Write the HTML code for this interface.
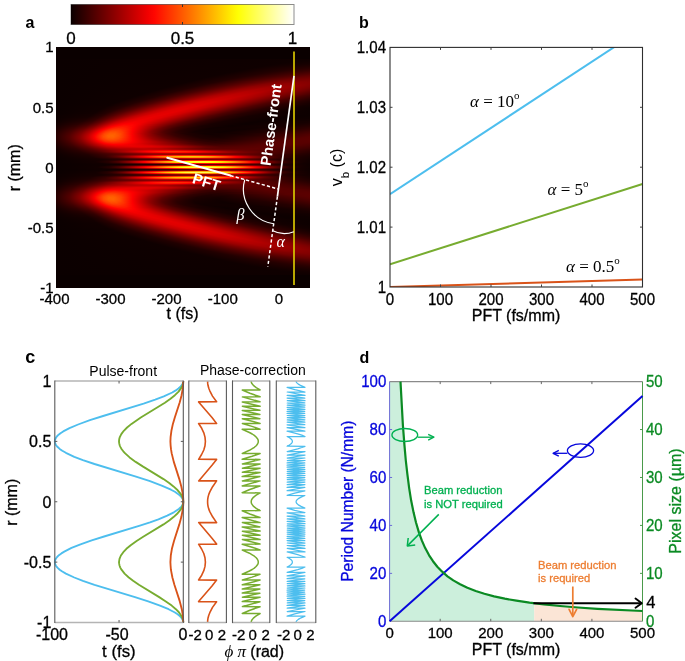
<!DOCTYPE html>
<html><head><meta charset="utf-8"><style>
html,body{margin:0;padding:0;background:#fff;width:685px;height:661px;overflow:hidden;}
svg{display:block;will-change:opacity;}
</style></head><body>
<svg width="685" height="661" viewBox="0 0 685 661">
<defs>
<linearGradient id="cb"><stop offset="0.0000" stop-color="#0b0000"/><stop offset="0.0312" stop-color="#200000"/><stop offset="0.0625" stop-color="#340000"/><stop offset="0.0938" stop-color="#490000"/><stop offset="0.1250" stop-color="#5e0000"/><stop offset="0.1562" stop-color="#730000"/><stop offset="0.1875" stop-color="#880000"/><stop offset="0.2188" stop-color="#9d0000"/><stop offset="0.2500" stop-color="#b20000"/><stop offset="0.2812" stop-color="#c70000"/><stop offset="0.3125" stop-color="#dc0000"/><stop offset="0.3438" stop-color="#f10000"/><stop offset="0.3750" stop-color="#ff0700"/><stop offset="0.4062" stop-color="#ff1c00"/><stop offset="0.4375" stop-color="#ff3100"/><stop offset="0.4688" stop-color="#ff4500"/><stop offset="0.5000" stop-color="#ff5a00"/><stop offset="0.5312" stop-color="#ff6f00"/><stop offset="0.5625" stop-color="#ff8400"/><stop offset="0.5938" stop-color="#ff9900"/><stop offset="0.6250" stop-color="#ffae00"/><stop offset="0.6562" stop-color="#ffc300"/><stop offset="0.6875" stop-color="#ffd800"/><stop offset="0.7188" stop-color="#ffed00"/><stop offset="0.7500" stop-color="#ffff04"/><stop offset="0.7812" stop-color="#ffff23"/><stop offset="0.8125" stop-color="#ffff43"/><stop offset="0.8438" stop-color="#ffff62"/><stop offset="0.8750" stop-color="#ffff82"/><stop offset="0.9062" stop-color="#ffffa1"/><stop offset="0.9375" stop-color="#ffffc0"/><stop offset="0.9688" stop-color="#ffffe0"/><stop offset="1.0000" stop-color="#ffffff"/></linearGradient>
<linearGradient id="h12" x1="56" x2="310" gradientUnits="userSpaceOnUse"><stop offset="0.001969" stop-color="#0b0000"/><stop offset="0.9941" stop-color="#0f0000"/><stop offset="0.998" stop-color="#0f0000"/></linearGradient>
<linearGradient id="h13" x1="56" x2="310" gradientUnits="userSpaceOnUse"><stop offset="0.001969" stop-color="#0b0000"/><stop offset="0.9626" stop-color="#0f0000"/><stop offset="0.998" stop-color="#100000"/></linearGradient>
<linearGradient id="h14" x1="56" x2="310" gradientUnits="userSpaceOnUse"><stop offset="0.001969" stop-color="#0b0000"/><stop offset="0.935" stop-color="#0f0000"/><stop offset="0.998" stop-color="#120000"/></linearGradient>
<linearGradient id="h15" x1="56" x2="310" gradientUnits="userSpaceOnUse"><stop offset="0.001969" stop-color="#0b0000"/><stop offset="0.9075" stop-color="#0f0000"/><stop offset="0.998" stop-color="#140000"/></linearGradient>
<linearGradient id="h16" x1="56" x2="310" gradientUnits="userSpaceOnUse"><stop offset="0.001969" stop-color="#0b0000"/><stop offset="0.8799" stop-color="#0f0000"/><stop offset="0.998" stop-color="#160000"/></linearGradient>
<linearGradient id="h17" x1="56" x2="310" gradientUnits="userSpaceOnUse"><stop offset="0.001969" stop-color="#0b0000"/><stop offset="0.8563" stop-color="#0f0000"/><stop offset="0.998" stop-color="#190000"/></linearGradient>
<linearGradient id="h18" x1="56" x2="310" gradientUnits="userSpaceOnUse"><stop offset="0.001969" stop-color="#0b0000"/><stop offset="0.8327" stop-color="#0f0000"/><stop offset="0.998" stop-color="#1d0000"/></linearGradient>
<linearGradient id="h19" x1="56" x2="310" gradientUnits="userSpaceOnUse"><stop offset="0.001969" stop-color="#0b0000"/><stop offset="0.8091" stop-color="#0f0000"/><stop offset="0.998" stop-color="#210000"/></linearGradient>
<linearGradient id="h20" x1="56" x2="310" gradientUnits="userSpaceOnUse"><stop offset="0.001969" stop-color="#0b0000"/><stop offset="0.7854" stop-color="#0f0000"/><stop offset="0.998" stop-color="#260000"/></linearGradient>
<linearGradient id="h21" x1="56" x2="310" gradientUnits="userSpaceOnUse"><stop offset="0.001969" stop-color="#0b0000"/><stop offset="0.7657" stop-color="#0f0000"/><stop offset="0.9665" stop-color="#260000"/><stop offset="0.998" stop-color="#2b0000"/></linearGradient>
<linearGradient id="h22" x1="56" x2="310" gradientUnits="userSpaceOnUse"><stop offset="0.001969" stop-color="#0b0000"/><stop offset="0.7421" stop-color="#0f0000"/><stop offset="0.9272" stop-color="#250000"/><stop offset="0.998" stop-color="#310000"/></linearGradient>
<linearGradient id="h23" x1="56" x2="310" gradientUnits="userSpaceOnUse"><stop offset="0.001969" stop-color="#0b0000"/><stop offset="0.7224" stop-color="#0f0000"/><stop offset="0.8957" stop-color="#240000"/><stop offset="0.998" stop-color="#380000"/></linearGradient>
<linearGradient id="h24" x1="56" x2="310" gradientUnits="userSpaceOnUse"><stop offset="0.001969" stop-color="#0b0000"/><stop offset="0.7028" stop-color="#0f0000"/><stop offset="0.8642" stop-color="#230000"/><stop offset="0.998" stop-color="#3f0000"/></linearGradient>
<linearGradient id="h25" x1="56" x2="310" gradientUnits="userSpaceOnUse"><stop offset="0.001969" stop-color="#0b0000"/><stop offset="0.6831" stop-color="#0f0000"/><stop offset="0.8366" stop-color="#230000"/><stop offset="0.998" stop-color="#470000"/></linearGradient>
<linearGradient id="h26" x1="56" x2="310" gradientUnits="userSpaceOnUse"><stop offset="0.001969" stop-color="#0b0000"/><stop offset="0.6634" stop-color="#0f0000"/><stop offset="0.813" stop-color="#230000"/><stop offset="0.998" stop-color="#4f0000"/></linearGradient>
<linearGradient id="h27" x1="56" x2="310" gradientUnits="userSpaceOnUse"><stop offset="0.001969" stop-color="#0b0000"/><stop offset="0.6437" stop-color="#0f0000"/><stop offset="0.7854" stop-color="#220000"/><stop offset="0.998" stop-color="#570000"/></linearGradient>
<linearGradient id="h28" x1="56" x2="310" gradientUnits="userSpaceOnUse"><stop offset="0.001969" stop-color="#0b0000"/><stop offset="0.628" stop-color="#0f0000"/><stop offset="0.7657" stop-color="#230000"/><stop offset="0.9902" stop-color="#5e0000"/><stop offset="0.998" stop-color="#5f0000"/></linearGradient>
<linearGradient id="h29" x1="56" x2="310" gradientUnits="userSpaceOnUse"><stop offset="0.001969" stop-color="#0b0000"/><stop offset="0.6083" stop-color="#0f0000"/><stop offset="0.7421" stop-color="#220000"/><stop offset="0.9705" stop-color="#620000"/><stop offset="0.998" stop-color="#670000"/></linearGradient>
<linearGradient id="h30" x1="56" x2="310" gradientUnits="userSpaceOnUse"><stop offset="0.001969" stop-color="#0b0000"/><stop offset="0.5925" stop-color="#0f0000"/><stop offset="0.7185" stop-color="#220000"/><stop offset="0.9508" stop-color="#670000"/><stop offset="0.998" stop-color="#6e0000"/></linearGradient>
<linearGradient id="h31" x1="56" x2="310" gradientUnits="userSpaceOnUse"><stop offset="0.001969" stop-color="#0b0000"/><stop offset="0.5728" stop-color="#0f0000"/><stop offset="0.6988" stop-color="#220000"/><stop offset="0.9311" stop-color="#6c0000"/><stop offset="0.998" stop-color="#750000"/></linearGradient>
<linearGradient id="h32" x1="56" x2="310" gradientUnits="userSpaceOnUse"><stop offset="0.001969" stop-color="#0b0000"/><stop offset="0.5571" stop-color="#0f0000"/><stop offset="0.6791" stop-color="#220000"/><stop offset="0.9114" stop-color="#710000"/><stop offset="0.998" stop-color="#7b0000"/></linearGradient>
<linearGradient id="h33" x1="56" x2="310" gradientUnits="userSpaceOnUse"><stop offset="0.001969" stop-color="#0b0000"/><stop offset="0.5413" stop-color="#0f0000"/><stop offset="0.6594" stop-color="#220000"/><stop offset="0.8957" stop-color="#760000"/><stop offset="0.9862" stop-color="#800000"/><stop offset="0.998" stop-color="#800000"/></linearGradient>
<linearGradient id="h34" x1="56" x2="310" gradientUnits="userSpaceOnUse"><stop offset="0.001969" stop-color="#0b0000"/><stop offset="0.5256" stop-color="#0f0000"/><stop offset="0.6398" stop-color="#220000"/><stop offset="0.7776" stop-color="#570000"/><stop offset="0.8839" stop-color="#7d0000"/><stop offset="0.9705" stop-color="#850000"/><stop offset="0.998" stop-color="#830000"/></linearGradient>
<linearGradient id="h35" x1="56" x2="310" gradientUnits="userSpaceOnUse"><stop offset="0.001969" stop-color="#0b0000"/><stop offset="0.5098" stop-color="#0f0000"/><stop offset="0.6201" stop-color="#210000"/><stop offset="0.7421" stop-color="#510000"/><stop offset="0.8563" stop-color="#7f0000"/><stop offset="0.939" stop-color="#8b0000"/><stop offset="0.998" stop-color="#860000"/></linearGradient>
<linearGradient id="h36" x1="56" x2="310" gradientUnits="userSpaceOnUse"><stop offset="0.001969" stop-color="#0b0000"/><stop offset="0.4941" stop-color="#0f0000"/><stop offset="0.6043" stop-color="#220000"/><stop offset="0.7185" stop-color="#510000"/><stop offset="0.8366" stop-color="#830000"/><stop offset="0.9154" stop-color="#900000"/><stop offset="0.998" stop-color="#870000"/></linearGradient>
<linearGradient id="h37" x1="56" x2="310" gradientUnits="userSpaceOnUse"><stop offset="0.001969" stop-color="#0b0000"/><stop offset="0.4783" stop-color="#0f0000"/><stop offset="0.5846" stop-color="#220000"/><stop offset="0.6909" stop-color="#4e0000"/><stop offset="0.813" stop-color="#860000"/><stop offset="0.8917" stop-color="#950000"/><stop offset="0.9783" stop-color="#8b0000"/><stop offset="0.998" stop-color="#860000"/></linearGradient>
<linearGradient id="h38" x1="56" x2="310" gradientUnits="userSpaceOnUse"><stop offset="0.001969" stop-color="#0b0000"/><stop offset="0.4626" stop-color="#0f0000"/><stop offset="0.565" stop-color="#210000"/><stop offset="0.6673" stop-color="#4c0000"/><stop offset="0.7933" stop-color="#890000"/><stop offset="0.8681" stop-color="#990000"/><stop offset="0.9508" stop-color="#920000"/><stop offset="0.998" stop-color="#840000"/></linearGradient>
<linearGradient id="h39" x1="56" x2="310" gradientUnits="userSpaceOnUse"><stop offset="0.001969" stop-color="#0b0000"/><stop offset="0.4469" stop-color="#0f0000"/><stop offset="0.5492" stop-color="#210000"/><stop offset="0.6476" stop-color="#4c0000"/><stop offset="0.7736" stop-color="#8d0000"/><stop offset="0.8484" stop-color="#9e0000"/><stop offset="0.9272" stop-color="#970000"/><stop offset="0.998" stop-color="#810000"/></linearGradient>
<linearGradient id="h40" x1="56" x2="310" gradientUnits="userSpaceOnUse"><stop offset="0.001969" stop-color="#0b0000"/><stop offset="0.435" stop-color="#0f0000"/><stop offset="0.5335" stop-color="#220000"/><stop offset="0.628" stop-color="#4c0000"/><stop offset="0.7579" stop-color="#910000"/><stop offset="0.8287" stop-color="#a20000"/><stop offset="0.9035" stop-color="#9c0000"/><stop offset="0.998" stop-color="#7d0000"/></linearGradient>
<linearGradient id="h41" x1="56" x2="310" gradientUnits="userSpaceOnUse"><stop offset="0.001969" stop-color="#0b0000"/><stop offset="0.4193" stop-color="#0f0000"/><stop offset="0.5177" stop-color="#220000"/><stop offset="0.6083" stop-color="#4b0000"/><stop offset="0.7382" stop-color="#940000"/><stop offset="0.8091" stop-color="#a70000"/><stop offset="0.8799" stop-color="#a20000"/><stop offset="0.9902" stop-color="#7b0000"/><stop offset="0.998" stop-color="#770000"/></linearGradient>
<linearGradient id="h42" x1="56" x2="310" gradientUnits="userSpaceOnUse"><stop offset="0.001969" stop-color="#0b0000"/><stop offset="0.4035" stop-color="#0f0000"/><stop offset="0.498" stop-color="#210000"/><stop offset="0.5846" stop-color="#480000"/><stop offset="0.7224" stop-color="#980000"/><stop offset="0.7894" stop-color="#ab0000"/><stop offset="0.8602" stop-color="#a60000"/><stop offset="0.9626" stop-color="#810000"/><stop offset="0.998" stop-color="#710000"/></linearGradient>
<linearGradient id="h43" x1="56" x2="310" gradientUnits="userSpaceOnUse"><stop offset="0.001969" stop-color="#0b0000"/><stop offset="0.3917" stop-color="#0f0000"/><stop offset="0.4862" stop-color="#220000"/><stop offset="0.5728" stop-color="#4b0000"/><stop offset="0.7028" stop-color="#9b0000"/><stop offset="0.7697" stop-color="#af0000"/><stop offset="0.8366" stop-color="#ab0000"/><stop offset="0.9311" stop-color="#890000"/><stop offset="0.998" stop-color="#6a0000"/></linearGradient>
<linearGradient id="h44" x1="56" x2="310" gradientUnits="userSpaceOnUse"><stop offset="0.001969" stop-color="#0b0000"/><stop offset="0.376" stop-color="#0f0000"/><stop offset="0.4705" stop-color="#220000"/><stop offset="0.5531" stop-color="#4a0000"/><stop offset="0.687" stop-color="#9e0000"/><stop offset="0.75" stop-color="#b30000"/><stop offset="0.813" stop-color="#b00000"/><stop offset="0.8996" stop-color="#920000"/><stop offset="0.998" stop-color="#620000"/></linearGradient>
<linearGradient id="h45" x1="56" x2="310" gradientUnits="userSpaceOnUse"><stop offset="0.001969" stop-color="#0b0000"/><stop offset="0.3642" stop-color="#0f0000"/><stop offset="0.4547" stop-color="#220000"/><stop offset="0.5335" stop-color="#480000"/><stop offset="0.6713" stop-color="#a20000"/><stop offset="0.7343" stop-color="#b70000"/><stop offset="0.7972" stop-color="#b40000"/><stop offset="0.8799" stop-color="#950000"/><stop offset="0.998" stop-color="#5a0000"/></linearGradient>
<linearGradient id="h46" x1="56" x2="310" gradientUnits="userSpaceOnUse"><stop offset="0.001969" stop-color="#0b0000"/><stop offset="0.3484" stop-color="#0f0000"/><stop offset="0.439" stop-color="#220000"/><stop offset="0.5177" stop-color="#490000"/><stop offset="0.6555" stop-color="#a60000"/><stop offset="0.7185" stop-color="#bb0000"/><stop offset="0.7815" stop-color="#b70000"/><stop offset="0.8642" stop-color="#960000"/><stop offset="0.998" stop-color="#520000"/></linearGradient>
<linearGradient id="h47" x1="56" x2="310" gradientUnits="userSpaceOnUse"><stop offset="0.001969" stop-color="#0b0000"/><stop offset="0.3366" stop-color="#0f0000"/><stop offset="0.4232" stop-color="#210000"/><stop offset="0.498" stop-color="#470000"/><stop offset="0.6398" stop-color="#a90000"/><stop offset="0.6988" stop-color="#be0000"/><stop offset="0.7579" stop-color="#bc0000"/><stop offset="0.8327" stop-color="#a00000"/><stop offset="0.998" stop-color="#4a0000"/></linearGradient>
<linearGradient id="h48" x1="56" x2="310" gradientUnits="userSpaceOnUse"><stop offset="0.001969" stop-color="#0b0000"/><stop offset="0.3248" stop-color="#0f0000"/><stop offset="0.4114" stop-color="#220000"/><stop offset="0.4862" stop-color="#4a0000"/><stop offset="0.624" stop-color="#ac0000"/><stop offset="0.6831" stop-color="#c10000"/><stop offset="0.7421" stop-color="#bf0000"/><stop offset="0.8169" stop-color="#a10000"/><stop offset="0.9783" stop-color="#4a0000"/><stop offset="0.998" stop-color="#420000"/></linearGradient>
<linearGradient id="h49" x1="56" x2="310" gradientUnits="userSpaceOnUse"><stop offset="0.001969" stop-color="#0b0000"/><stop offset="0.3091" stop-color="#0f0000"/><stop offset="0.3957" stop-color="#220000"/><stop offset="0.4705" stop-color="#4a0000"/><stop offset="0.6083" stop-color="#af0000"/><stop offset="0.6673" stop-color="#c50000"/><stop offset="0.7224" stop-color="#c30000"/><stop offset="0.7933" stop-color="#a70000"/><stop offset="0.9587" stop-color="#4b0000"/><stop offset="0.998" stop-color="#3b0000"/></linearGradient>
<linearGradient id="h50" x1="56" x2="310" gradientUnits="userSpaceOnUse"><stop offset="0.001969" stop-color="#0b0000"/><stop offset="0.2972" stop-color="#0f0000"/><stop offset="0.3799" stop-color="#210000"/><stop offset="0.4508" stop-color="#470000"/><stop offset="0.5925" stop-color="#b10000"/><stop offset="0.6476" stop-color="#c70000"/><stop offset="0.7028" stop-color="#c60000"/><stop offset="0.7697" stop-color="#ac0000"/><stop offset="0.939" stop-color="#4b0000"/><stop offset="0.998" stop-color="#340000"/></linearGradient>
<linearGradient id="h51" x1="56" x2="310" gradientUnits="userSpaceOnUse"><stop offset="0.001969" stop-color="#0b0000"/><stop offset="0.2854" stop-color="#0f0000"/><stop offset="0.3681" stop-color="#220000"/><stop offset="0.439" stop-color="#490000"/><stop offset="0.5768" stop-color="#b40000"/><stop offset="0.6319" stop-color="#ca0000"/><stop offset="0.687" stop-color="#c90000"/><stop offset="0.7539" stop-color="#ae0000"/><stop offset="0.9154" stop-color="#4e0000"/><stop offset="0.998" stop-color="#2e0000"/></linearGradient>
<linearGradient id="h52" x1="56" x2="310" gradientUnits="userSpaceOnUse"><stop offset="0.001969" stop-color="#0b0000"/><stop offset="0.2736" stop-color="#0f0000"/><stop offset="0.3563" stop-color="#230000"/><stop offset="0.4272" stop-color="#4b0000"/><stop offset="0.561" stop-color="#b60000"/><stop offset="0.6161" stop-color="#cd0000"/><stop offset="0.6673" stop-color="#cd0000"/><stop offset="0.7303" stop-color="#b40000"/><stop offset="0.8996" stop-color="#4c0000"/><stop offset="0.998" stop-color="#280000"/></linearGradient>
<linearGradient id="h53" x1="56" x2="310" gradientUnits="userSpaceOnUse"><stop offset="0.001969" stop-color="#0b0000"/><stop offset="0.2618" stop-color="#0f0000"/><stop offset="0.3406" stop-color="#220000"/><stop offset="0.4075" stop-color="#480000"/><stop offset="0.5453" stop-color="#b80000"/><stop offset="0.6004" stop-color="#cf0000"/><stop offset="0.6516" stop-color="#cf0000"/><stop offset="0.7146" stop-color="#b50000"/><stop offset="0.876" stop-color="#4f0000"/><stop offset="0.9705" stop-color="#2a0000"/><stop offset="0.998" stop-color="#230000"/></linearGradient>
<linearGradient id="h54" x1="56" x2="310" gradientUnits="userSpaceOnUse"><stop offset="0.001969" stop-color="#0b0000"/><stop offset="0.25" stop-color="#0f0000"/><stop offset="0.3287" stop-color="#230000"/><stop offset="0.3957" stop-color="#4a0000"/><stop offset="0.5295" stop-color="#b90000"/><stop offset="0.5807" stop-color="#d10000"/><stop offset="0.6319" stop-color="#d20000"/><stop offset="0.6909" stop-color="#bb0000"/><stop offset="0.8602" stop-color="#4e0000"/><stop offset="0.9547" stop-color="#290000"/><stop offset="0.998" stop-color="#1e0000"/></linearGradient>
<linearGradient id="h55" x1="56" x2="310" gradientUnits="userSpaceOnUse"><stop offset="0.001969" stop-color="#0b0000"/><stop offset="0.2382" stop-color="#0f0000"/><stop offset="0.3169" stop-color="#240000"/><stop offset="0.3839" stop-color="#4c0000"/><stop offset="0.5138" stop-color="#ba0000"/><stop offset="0.565" stop-color="#d30000"/><stop offset="0.6161" stop-color="#d50000"/><stop offset="0.6752" stop-color="#bd0000"/><stop offset="0.8406" stop-color="#4f0000"/><stop offset="0.9311" stop-color="#2a0000"/><stop offset="0.998" stop-color="#1b0000"/></linearGradient>
<linearGradient id="h56" x1="56" x2="310" gradientUnits="userSpaceOnUse"><stop offset="0.001969" stop-color="#0b0000"/><stop offset="0.2264" stop-color="#0f0000"/><stop offset="0.3012" stop-color="#230000"/><stop offset="0.3681" stop-color="#4a0000"/><stop offset="0.502" stop-color="#be0000"/><stop offset="0.5531" stop-color="#d60000"/><stop offset="0.6004" stop-color="#d70000"/><stop offset="0.6594" stop-color="#be0000"/><stop offset="0.8209" stop-color="#500000"/><stop offset="0.9114" stop-color="#2a0000"/><stop offset="0.998" stop-color="#170000"/></linearGradient>
<linearGradient id="h57" x1="56" x2="310" gradientUnits="userSpaceOnUse"><stop offset="0.001969" stop-color="#0b0000"/><stop offset="0.2146" stop-color="#0f0000"/><stop offset="0.2894" stop-color="#230000"/><stop offset="0.3524" stop-color="#490000"/><stop offset="0.4862" stop-color="#bf0000"/><stop offset="0.5374" stop-color="#d80000"/><stop offset="0.5846" stop-color="#d90000"/><stop offset="0.6398" stop-color="#c20000"/><stop offset="0.8051" stop-color="#4f0000"/><stop offset="0.8917" stop-color="#2a0000"/><stop offset="0.998" stop-color="#150000"/></linearGradient>
<linearGradient id="h58" x1="56" x2="310" gradientUnits="userSpaceOnUse"><stop offset="0.001969" stop-color="#0b0000"/><stop offset="0.2067" stop-color="#0f0000"/><stop offset="0.2776" stop-color="#230000"/><stop offset="0.3406" stop-color="#4b0000"/><stop offset="0.4705" stop-color="#c00000"/><stop offset="0.5217" stop-color="#d90000"/><stop offset="0.5689" stop-color="#db0000"/><stop offset="0.624" stop-color="#c30000"/><stop offset="0.7854" stop-color="#500000"/><stop offset="0.872" stop-color="#2a0000"/><stop offset="0.9823" stop-color="#140000"/><stop offset="0.998" stop-color="#130000"/></linearGradient>
<linearGradient id="h59" x1="56" x2="310" gradientUnits="userSpaceOnUse"><stop offset="0.001969" stop-color="#0b0000"/><stop offset="0.1988" stop-color="#100000"/><stop offset="0.2697" stop-color="#250000"/><stop offset="0.3327" stop-color="#4f0000"/><stop offset="0.4587" stop-color="#c30000"/><stop offset="0.5059" stop-color="#db0000"/><stop offset="0.5531" stop-color="#dd0000"/><stop offset="0.6083" stop-color="#c50000"/><stop offset="0.7697" stop-color="#500000"/><stop offset="0.8524" stop-color="#2a0000"/><stop offset="0.9626" stop-color="#140000"/><stop offset="0.998" stop-color="#110000"/></linearGradient>
<linearGradient id="h60" x1="56" x2="310" gradientUnits="userSpaceOnUse"><stop offset="0.001969" stop-color="#0b0000"/><stop offset="0.1909" stop-color="#100000"/><stop offset="0.2579" stop-color="#260000"/><stop offset="0.3209" stop-color="#510000"/><stop offset="0.4429" stop-color="#c30000"/><stop offset="0.4902" stop-color="#dc0000"/><stop offset="0.5374" stop-color="#de0000"/><stop offset="0.5886" stop-color="#c90000"/><stop offset="0.75" stop-color="#510000"/><stop offset="0.8327" stop-color="#2b0000"/><stop offset="0.939" stop-color="#140000"/><stop offset="0.998" stop-color="#0f0000"/></linearGradient>
<linearGradient id="h61" x1="56" x2="310" gradientUnits="userSpaceOnUse"><stop offset="0.001969" stop-color="#0b0000"/><stop offset="0.1831" stop-color="#100000"/><stop offset="0.2461" stop-color="#250000"/><stop offset="0.3091" stop-color="#520000"/><stop offset="0.4272" stop-color="#c30000"/><stop offset="0.4744" stop-color="#dd0000"/><stop offset="0.5177" stop-color="#e00000"/><stop offset="0.5689" stop-color="#cc0000"/><stop offset="0.7343" stop-color="#500000"/><stop offset="0.8169" stop-color="#2a0000"/><stop offset="0.9232" stop-color="#140000"/><stop offset="0.998" stop-color="#0e0000"/></linearGradient>
<linearGradient id="h62" x1="56" x2="310" gradientUnits="userSpaceOnUse"><stop offset="0.001969" stop-color="#0b0000"/><stop offset="0.1752" stop-color="#100000"/><stop offset="0.2343" stop-color="#250000"/><stop offset="0.2972" stop-color="#530000"/><stop offset="0.4154" stop-color="#c50000"/><stop offset="0.4626" stop-color="#df0000"/><stop offset="0.5059" stop-color="#e10000"/><stop offset="0.5571" stop-color="#cb0000"/><stop offset="0.7185" stop-color="#500000"/><stop offset="0.7972" stop-color="#2a0000"/><stop offset="0.8996" stop-color="#140000"/><stop offset="0.998" stop-color="#0e0000"/></linearGradient>
<linearGradient id="h63" x1="56" x2="310" gradientUnits="userSpaceOnUse"><stop offset="0.001969" stop-color="#0b0000"/><stop offset="0.1673" stop-color="#110000"/><stop offset="0.2264" stop-color="#270000"/><stop offset="0.2894" stop-color="#570000"/><stop offset="0.3996" stop-color="#c50000"/><stop offset="0.4469" stop-color="#e00000"/><stop offset="0.4902" stop-color="#e30000"/><stop offset="0.5413" stop-color="#cd0000"/><stop offset="0.6988" stop-color="#520000"/><stop offset="0.7776" stop-color="#2b0000"/><stop offset="0.876" stop-color="#150000"/><stop offset="0.998" stop-color="#0d0000"/></linearGradient>
<linearGradient id="h64" x1="56" x2="310" gradientUnits="userSpaceOnUse"><stop offset="0.001969" stop-color="#0b0000"/><stop offset="0.1594" stop-color="#110000"/><stop offset="0.2146" stop-color="#260000"/><stop offset="0.2736" stop-color="#540000"/><stop offset="0.3839" stop-color="#c40000"/><stop offset="0.4311" stop-color="#e00000"/><stop offset="0.4744" stop-color="#e40000"/><stop offset="0.5217" stop-color="#d10000"/><stop offset="0.6161" stop-color="#840000"/><stop offset="0.6988" stop-color="#470000"/><stop offset="0.7776" stop-color="#250000"/><stop offset="0.8878" stop-color="#110000"/><stop offset="0.998" stop-color="#0d0000"/></linearGradient>
<linearGradient id="h65" x1="56" x2="310" gradientUnits="userSpaceOnUse"><stop offset="0.001969" stop-color="#0b0000"/><stop offset="0.1555" stop-color="#120000"/><stop offset="0.2067" stop-color="#270000"/><stop offset="0.2657" stop-color="#590000"/><stop offset="0.3681" stop-color="#c30000"/><stop offset="0.4154" stop-color="#e00000"/><stop offset="0.4587" stop-color="#e50000"/><stop offset="0.5059" stop-color="#d20000"/><stop offset="0.5925" stop-color="#8c0000"/><stop offset="0.6752" stop-color="#4c0000"/><stop offset="0.7539" stop-color="#270000"/><stop offset="0.8563" stop-color="#120000"/><stop offset="0.998" stop-color="#0d0000"/></linearGradient>
<linearGradient id="h66" x1="56" x2="310" gradientUnits="userSpaceOnUse"><stop offset="0.001969" stop-color="#0b0000"/><stop offset="0.1476" stop-color="#120000"/><stop offset="0.1949" stop-color="#250000"/><stop offset="0.25" stop-color="#550000"/><stop offset="0.3524" stop-color="#c20000"/><stop offset="0.3996" stop-color="#e10000"/><stop offset="0.4429" stop-color="#e60000"/><stop offset="0.4902" stop-color="#d30000"/><stop offset="0.5728" stop-color="#900000"/><stop offset="0.6555" stop-color="#4e0000"/><stop offset="0.7303" stop-color="#290000"/><stop offset="0.8287" stop-color="#130000"/><stop offset="0.998" stop-color="#0d0000"/></linearGradient>
<linearGradient id="h67" x1="56" x2="310" gradientUnits="userSpaceOnUse"><stop offset="0.001969" stop-color="#0b0000"/><stop offset="0.1437" stop-color="#140000"/><stop offset="0.1909" stop-color="#290000"/><stop offset="0.2461" stop-color="#5d0000"/><stop offset="0.3366" stop-color="#c00000"/><stop offset="0.3839" stop-color="#e10000"/><stop offset="0.4272" stop-color="#e70000"/><stop offset="0.4744" stop-color="#d50000"/><stop offset="0.5531" stop-color="#940000"/><stop offset="0.6398" stop-color="#4d0000"/><stop offset="0.7146" stop-color="#280000"/><stop offset="0.813" stop-color="#130000"/><stop offset="0.998" stop-color="#0d0000"/></linearGradient>
<linearGradient id="h68" x1="56" x2="310" gradientUnits="userSpaceOnUse"><stop offset="0.001969" stop-color="#0c0000"/><stop offset="0.1358" stop-color="#140000"/><stop offset="0.1791" stop-color="#270000"/><stop offset="0.2264" stop-color="#530000"/><stop offset="0.3209" stop-color="#bf0000"/><stop offset="0.3681" stop-color="#e10000"/><stop offset="0.4075" stop-color="#e80000"/><stop offset="0.4508" stop-color="#db0000"/><stop offset="0.5138" stop-color="#aa0000"/><stop offset="0.6122" stop-color="#550000"/><stop offset="0.6831" stop-color="#2e0000"/><stop offset="0.7736" stop-color="#160000"/><stop offset="0.939" stop-color="#0d0000"/><stop offset="0.998" stop-color="#0d0000"/></linearGradient>
<linearGradient id="h69" x1="56" x2="310" gradientUnits="userSpaceOnUse"><stop offset="0.001969" stop-color="#0c0000"/><stop offset="0.1319" stop-color="#160000"/><stop offset="0.1752" stop-color="#2b0000"/><stop offset="0.2224" stop-color="#5b0000"/><stop offset="0.3051" stop-color="#bd0000"/><stop offset="0.3484" stop-color="#df0000"/><stop offset="0.3878" stop-color="#e90000"/><stop offset="0.4311" stop-color="#de0000"/><stop offset="0.4902" stop-color="#b30000"/><stop offset="0.5965" stop-color="#550000"/><stop offset="0.6673" stop-color="#2d0000"/><stop offset="0.7539" stop-color="#160000"/><stop offset="0.9154" stop-color="#0d0000"/><stop offset="0.998" stop-color="#0e0000"/></linearGradient>
<linearGradient id="h70" x1="56" x2="310" gradientUnits="userSpaceOnUse"><stop offset="0.001969" stop-color="#0c0000"/><stop offset="0.124" stop-color="#170000"/><stop offset="0.1673" stop-color="#2c0000"/><stop offset="0.2106" stop-color="#590000"/><stop offset="0.2894" stop-color="#bb0000"/><stop offset="0.3327" stop-color="#df0000"/><stop offset="0.372" stop-color="#eb0000"/><stop offset="0.4154" stop-color="#e00000"/><stop offset="0.4705" stop-color="#b80000"/><stop offset="0.5807" stop-color="#550000"/><stop offset="0.6516" stop-color="#2d0000"/><stop offset="0.7382" stop-color="#160000"/><stop offset="0.8996" stop-color="#0d0000"/><stop offset="0.998" stop-color="#0f0000"/></linearGradient>
<linearGradient id="h71" x1="56" x2="310" gradientUnits="userSpaceOnUse"><stop offset="0.001969" stop-color="#0d0000"/><stop offset="0.1201" stop-color="#1a0000"/><stop offset="0.1634" stop-color="#300000"/><stop offset="0.2028" stop-color="#5b0000"/><stop offset="0.2776" stop-color="#bd0000"/><stop offset="0.3209" stop-color="#e10000"/><stop offset="0.3602" stop-color="#ec0000"/><stop offset="0.4035" stop-color="#e00000"/><stop offset="0.4626" stop-color="#b20000"/><stop offset="0.565" stop-color="#560000"/><stop offset="0.6358" stop-color="#2d0000"/><stop offset="0.7224" stop-color="#150000"/><stop offset="0.8839" stop-color="#0d0000"/><stop offset="0.998" stop-color="#100000"/></linearGradient>
<linearGradient id="h72" x1="56" x2="310" gradientUnits="userSpaceOnUse"><stop offset="0.001969" stop-color="#0d0000"/><stop offset="0.1161" stop-color="#1d0000"/><stop offset="0.1555" stop-color="#310000"/><stop offset="0.1949" stop-color="#5d0000"/><stop offset="0.2618" stop-color="#bb0000"/><stop offset="0.3012" stop-color="#df0000"/><stop offset="0.3406" stop-color="#ee0000"/><stop offset="0.3799" stop-color="#e60000"/><stop offset="0.4311" stop-color="#c30000"/><stop offset="0.5492" stop-color="#560000"/><stop offset="0.6161" stop-color="#2e0000"/><stop offset="0.6988" stop-color="#160000"/><stop offset="0.8484" stop-color="#0d0000"/><stop offset="0.998" stop-color="#120000"/></linearGradient>
<linearGradient id="h73" x1="56" x2="310" gradientUnits="userSpaceOnUse"><stop offset="0.001969" stop-color="#0e0000"/><stop offset="0.1083" stop-color="#1f0000"/><stop offset="0.1476" stop-color="#330000"/><stop offset="0.1831" stop-color="#5a0000"/><stop offset="0.2539" stop-color="#c10000"/><stop offset="0.2933" stop-color="#e50000"/><stop offset="0.3287" stop-color="#f10000"/><stop offset="0.3681" stop-color="#e80000"/><stop offset="0.4193" stop-color="#c20000"/><stop offset="0.5295" stop-color="#5a0000"/><stop offset="0.5965" stop-color="#300000"/><stop offset="0.6791" stop-color="#170000"/><stop offset="0.8209" stop-color="#0d0000"/><stop offset="0.998" stop-color="#130000"/></linearGradient>
<linearGradient id="h74" x1="56" x2="310" gradientUnits="userSpaceOnUse"><stop offset="0.001969" stop-color="#0f0000"/><stop offset="0.1043" stop-color="#220000"/><stop offset="0.1437" stop-color="#380000"/><stop offset="0.1791" stop-color="#620000"/><stop offset="0.2421" stop-color="#c30000"/><stop offset="0.2776" stop-color="#e60000"/><stop offset="0.313" stop-color="#f40000"/><stop offset="0.3524" stop-color="#ec0000"/><stop offset="0.4035" stop-color="#c60000"/><stop offset="0.5138" stop-color="#5a0000"/><stop offset="0.5807" stop-color="#300000"/><stop offset="0.6594" stop-color="#170000"/><stop offset="0.7972" stop-color="#0d0000"/><stop offset="0.998" stop-color="#160000"/></linearGradient>
<linearGradient id="h75" x1="56" x2="310" gradientUnits="userSpaceOnUse"><stop offset="0.001969" stop-color="#100000"/><stop offset="0.09646" stop-color="#250000"/><stop offset="0.1398" stop-color="#3e0000"/><stop offset="0.1713" stop-color="#640000"/><stop offset="0.2343" stop-color="#ca0000"/><stop offset="0.2697" stop-color="#ed0000"/><stop offset="0.3051" stop-color="#f90000"/><stop offset="0.3445" stop-color="#ed0000"/><stop offset="0.3957" stop-color="#c20000"/><stop offset="0.498" stop-color="#5c0000"/><stop offset="0.561" stop-color="#320000"/><stop offset="0.6398" stop-color="#180000"/><stop offset="0.7697" stop-color="#0d0000"/><stop offset="0.9823" stop-color="#160000"/><stop offset="0.998" stop-color="#180000"/></linearGradient>
<linearGradient id="h76" x1="56" x2="310" gradientUnits="userSpaceOnUse"><stop offset="0.001969" stop-color="#120000"/><stop offset="0.09252" stop-color="#290000"/><stop offset="0.1358" stop-color="#440000"/><stop offset="0.1673" stop-color="#6d0000"/><stop offset="0.2264" stop-color="#d00000"/><stop offset="0.2579" stop-color="#f20000"/><stop offset="0.2894" stop-color="#fe0000"/><stop offset="0.3248" stop-color="#f50000"/><stop offset="0.372" stop-color="#d00000"/><stop offset="0.4823" stop-color="#5d0000"/><stop offset="0.5453" stop-color="#320000"/><stop offset="0.6201" stop-color="#180000"/><stop offset="0.7461" stop-color="#0d0000"/><stop offset="0.9587" stop-color="#170000"/><stop offset="0.998" stop-color="#1b0000"/></linearGradient>
<linearGradient id="h77" x1="56" x2="310" gradientUnits="userSpaceOnUse"><stop offset="0.001969" stop-color="#130000"/><stop offset="0.08465" stop-color="#2b0000"/><stop offset="0.128" stop-color="#470000"/><stop offset="0.1594" stop-color="#6f0000"/><stop offset="0.2224" stop-color="#dd0000"/><stop offset="0.25" stop-color="#fa0000"/><stop offset="0.2697" stop-color="#ff0400"/><stop offset="0.3012" stop-color="#ff0200"/><stop offset="0.3327" stop-color="#ed0000"/><stop offset="0.4035" stop-color="#a20000"/><stop offset="0.4744" stop-color="#590000"/><stop offset="0.5374" stop-color="#2f0000"/><stop offset="0.6122" stop-color="#170000"/><stop offset="0.7421" stop-color="#0d0000"/><stop offset="0.9469" stop-color="#180000"/><stop offset="0.998" stop-color="#1f0000"/></linearGradient>
<linearGradient id="h78" x1="56" x2="310" gradientUnits="userSpaceOnUse"><stop offset="0.001969" stop-color="#150000"/><stop offset="0.08071" stop-color="#300000"/><stop offset="0.124" stop-color="#4e0000"/><stop offset="0.1555" stop-color="#780000"/><stop offset="0.2146" stop-color="#e40000"/><stop offset="0.2382" stop-color="#ff0100"/><stop offset="0.2657" stop-color="#ff0e00"/><stop offset="0.2972" stop-color="#ff0600"/><stop offset="0.313" stop-color="#fa0000"/><stop offset="0.3681" stop-color="#c10000"/><stop offset="0.4508" stop-color="#630000"/><stop offset="0.5098" stop-color="#360000"/><stop offset="0.5807" stop-color="#1a0000"/><stop offset="0.6909" stop-color="#0e0000"/><stop offset="0.8957" stop-color="#150000"/><stop offset="0.998" stop-color="#230000"/></linearGradient>
<linearGradient id="h79" x1="56" x2="310" gradientUnits="userSpaceOnUse"><stop offset="0.001969" stop-color="#170000"/><stop offset="0.07677" stop-color="#340000"/><stop offset="0.1201" stop-color="#550000"/><stop offset="0.1516" stop-color="#810000"/><stop offset="0.2106" stop-color="#f10000"/><stop offset="0.2224" stop-color="#ff0200"/><stop offset="0.25" stop-color="#ff1600"/><stop offset="0.2776" stop-color="#ff1300"/><stop offset="0.3091" stop-color="#fc0000"/><stop offset="0.376" stop-color="#ad0000"/><stop offset="0.4429" stop-color="#600000"/><stop offset="0.502" stop-color="#330000"/><stop offset="0.5728" stop-color="#190000"/><stop offset="0.687" stop-color="#0e0000"/><stop offset="0.8878" stop-color="#170000"/><stop offset="0.998" stop-color="#270000"/></linearGradient>
<linearGradient id="h80" x1="56" x2="310" gradientUnits="userSpaceOnUse"><stop offset="0.001969" stop-color="#190000"/><stop offset="0.07283" stop-color="#390000"/><stop offset="0.1161" stop-color="#5c0000"/><stop offset="0.1476" stop-color="#8a0000"/><stop offset="0.2067" stop-color="#fe0000"/><stop offset="0.2343" stop-color="#ff1c00"/><stop offset="0.2618" stop-color="#ff2000"/><stop offset="0.2933" stop-color="#ff0c00"/><stop offset="0.3051" stop-color="#ff0000"/><stop offset="0.4232" stop-color="#6a0000"/><stop offset="0.4783" stop-color="#3b0000"/><stop offset="0.5413" stop-color="#1e0000"/><stop offset="0.6358" stop-color="#0f0000"/><stop offset="0.8248" stop-color="#130000"/><stop offset="0.998" stop-color="#2c0000"/></linearGradient>
<linearGradient id="h81" x1="56" x2="310" gradientUnits="userSpaceOnUse"><stop offset="0.001969" stop-color="#1b0000"/><stop offset="0.0689" stop-color="#3d0000"/><stop offset="0.1122" stop-color="#630000"/><stop offset="0.1437" stop-color="#920000"/><stop offset="0.1949" stop-color="#fd0000"/><stop offset="0.2224" stop-color="#ff2300"/><stop offset="0.2461" stop-color="#ff2c00"/><stop offset="0.2736" stop-color="#ff1f00"/><stop offset="0.3051" stop-color="#fd0000"/><stop offset="0.4075" stop-color="#730000"/><stop offset="0.4587" stop-color="#420000"/><stop offset="0.5177" stop-color="#220000"/><stop offset="0.6043" stop-color="#100000"/><stop offset="0.7697" stop-color="#110000"/><stop offset="0.9547" stop-color="#280000"/><stop offset="0.998" stop-color="#310000"/></linearGradient>
<linearGradient id="h82" x1="56" x2="310" gradientUnits="userSpaceOnUse"><stop offset="0.001969" stop-color="#1e0000"/><stop offset="0.06496" stop-color="#410000"/><stop offset="0.1083" stop-color="#6a0000"/><stop offset="0.1398" stop-color="#9a0000"/><stop offset="0.187" stop-color="#ff0100"/><stop offset="0.2106" stop-color="#ff2700"/><stop offset="0.2303" stop-color="#ff3600"/><stop offset="0.2539" stop-color="#ff3300"/><stop offset="0.2854" stop-color="#ff1600"/><stop offset="0.3012" stop-color="#ff0100"/><stop offset="0.3957" stop-color="#790000"/><stop offset="0.4469" stop-color="#450000"/><stop offset="0.5059" stop-color="#230000"/><stop offset="0.5886" stop-color="#110000"/><stop offset="0.7421" stop-color="#100000"/><stop offset="0.9272" stop-color="#280000"/><stop offset="0.998" stop-color="#360000"/></linearGradient>
<linearGradient id="h83" x1="56" x2="310" gradientUnits="userSpaceOnUse"><stop offset="0.001969" stop-color="#200000"/><stop offset="0.06102" stop-color="#440000"/><stop offset="0.1043" stop-color="#6f0000"/><stop offset="0.1358" stop-color="#a10000"/><stop offset="0.1791" stop-color="#ff0200"/><stop offset="0.2028" stop-color="#ff2d00"/><stop offset="0.2224" stop-color="#ff4000"/><stop offset="0.2461" stop-color="#ff3f00"/><stop offset="0.2736" stop-color="#ff2600"/><stop offset="0.3012" stop-color="#ff0000"/><stop offset="0.3839" stop-color="#820000"/><stop offset="0.435" stop-color="#4a0000"/><stop offset="0.4902" stop-color="#270000"/><stop offset="0.565" stop-color="#130000"/><stop offset="0.6949" stop-color="#0f0000"/><stop offset="0.8799" stop-color="#230000"/><stop offset="0.998" stop-color="#3b0000"/></linearGradient>
<linearGradient id="h84" x1="56" x2="310" gradientUnits="userSpaceOnUse"><stop offset="0.001969" stop-color="#220000"/><stop offset="0.06102" stop-color="#490000"/><stop offset="0.1043" stop-color="#790000"/><stop offset="0.1358" stop-color="#ae0000"/><stop offset="0.1713" stop-color="#ff0000"/><stop offset="0.1949" stop-color="#ff3100"/><stop offset="0.2146" stop-color="#ff4800"/><stop offset="0.2343" stop-color="#ff4c00"/><stop offset="0.2579" stop-color="#ff3b00"/><stop offset="0.3012" stop-color="#fd0000"/><stop offset="0.376" stop-color="#880000"/><stop offset="0.4272" stop-color="#4e0000"/><stop offset="0.4823" stop-color="#290000"/><stop offset="0.5531" stop-color="#140000"/><stop offset="0.6713" stop-color="#0f0000"/><stop offset="0.8524" stop-color="#230000"/><stop offset="0.998" stop-color="#410000"/></linearGradient>
<linearGradient id="h85" x1="56" x2="310" gradientUnits="userSpaceOnUse"><stop offset="0.001969" stop-color="#240000"/><stop offset="0.05709" stop-color="#4b0000"/><stop offset="0.1004" stop-color="#7c0000"/><stop offset="0.1319" stop-color="#b10000"/><stop offset="0.1634" stop-color="#fa0000"/><stop offset="0.1713" stop-color="#ff0e00"/><stop offset="0.1949" stop-color="#ff3e00"/><stop offset="0.2146" stop-color="#ff5300"/><stop offset="0.2343" stop-color="#ff5300"/><stop offset="0.2618" stop-color="#ff3a00"/><stop offset="0.3012" stop-color="#fc0000"/><stop offset="0.3681" stop-color="#910000"/><stop offset="0.4193" stop-color="#540000"/><stop offset="0.4705" stop-color="#2f0000"/><stop offset="0.5374" stop-color="#170000"/><stop offset="0.6437" stop-color="#0f0000"/><stop offset="0.813" stop-color="#200000"/><stop offset="0.998" stop-color="#460000"/></linearGradient>
<linearGradient id="h86" x1="56" x2="310" gradientUnits="userSpaceOnUse"><stop offset="0.001969" stop-color="#260000"/><stop offset="0.05709" stop-color="#4f0000"/><stop offset="0.1004" stop-color="#830000"/><stop offset="0.1319" stop-color="#bb0000"/><stop offset="0.1594" stop-color="#fc0000"/><stop offset="0.1909" stop-color="#ff4300"/><stop offset="0.2106" stop-color="#ff5900"/><stop offset="0.2303" stop-color="#ff5b00"/><stop offset="0.2539" stop-color="#ff4700"/><stop offset="0.2972" stop-color="#ff0300"/><stop offset="0.3366" stop-color="#bf0000"/><stop offset="0.3878" stop-color="#760000"/><stop offset="0.439" stop-color="#440000"/><stop offset="0.498" stop-color="#230000"/><stop offset="0.5807" stop-color="#120000"/><stop offset="0.7028" stop-color="#140000"/><stop offset="0.8996" stop-color="#360000"/><stop offset="0.998" stop-color="#4b0000"/></linearGradient>
<linearGradient id="h87" x1="56" x2="310" gradientUnits="userSpaceOnUse"><stop offset="0.001969" stop-color="#270000"/><stop offset="0.05315" stop-color="#4f0000"/><stop offset="0.09646" stop-color="#830000"/><stop offset="0.128" stop-color="#bb0000"/><stop offset="0.1555" stop-color="#fc0000"/><stop offset="0.1909" stop-color="#ff4b00"/><stop offset="0.2106" stop-color="#ff5f00"/><stop offset="0.2303" stop-color="#ff5f00"/><stop offset="0.2539" stop-color="#ff4900"/><stop offset="0.2972" stop-color="#ff0300"/><stop offset="0.3524" stop-color="#a80000"/><stop offset="0.4035" stop-color="#660000"/><stop offset="0.4547" stop-color="#3c0000"/><stop offset="0.5177" stop-color="#1f0000"/><stop offset="0.6083" stop-color="#110000"/><stop offset="0.7343" stop-color="#1b0000"/><stop offset="0.998" stop-color="#500000"/></linearGradient>
<linearGradient id="h88" x1="56" x2="310" gradientUnits="userSpaceOnUse"><stop offset="0.001969" stop-color="#280000"/><stop offset="0.05315" stop-color="#510000"/><stop offset="0.09646" stop-color="#870000"/><stop offset="0.128" stop-color="#c00000"/><stop offset="0.1555" stop-color="#ff0300"/><stop offset="0.1831" stop-color="#ff4200"/><stop offset="0.2028" stop-color="#ff5e00"/><stop offset="0.2224" stop-color="#ff6400"/><stop offset="0.2461" stop-color="#ff5300"/><stop offset="0.2854" stop-color="#ff1800"/><stop offset="0.3012" stop-color="#fc0000"/><stop offset="0.3642" stop-color="#990000"/><stop offset="0.4154" stop-color="#5f0000"/><stop offset="0.4705" stop-color="#360000"/><stop offset="0.5413" stop-color="#1c0000"/><stop offset="0.6358" stop-color="#130000"/><stop offset="0.7776" stop-color="#260000"/><stop offset="0.998" stop-color="#530000"/></linearGradient>
<linearGradient id="h89" x1="56" x2="310" gradientUnits="userSpaceOnUse"><stop offset="0.001969" stop-color="#280000"/><stop offset="0.05315" stop-color="#530000"/><stop offset="0.09646" stop-color="#8a0000"/><stop offset="0.128" stop-color="#c40000"/><stop offset="0.1516" stop-color="#fb0000"/><stop offset="0.1634" stop-color="#ff1900"/><stop offset="0.187" stop-color="#ff4b00"/><stop offset="0.2067" stop-color="#ff6100"/><stop offset="0.2264" stop-color="#ff6200"/><stop offset="0.25" stop-color="#ff4d00"/><stop offset="0.3012" stop-color="#fc0000"/><stop offset="0.3642" stop-color="#9e0000"/><stop offset="0.4193" stop-color="#610000"/><stop offset="0.4783" stop-color="#370000"/><stop offset="0.5531" stop-color="#1c0000"/><stop offset="0.6398" stop-color="#150000"/><stop offset="0.7815" stop-color="#2c0000"/><stop offset="0.998" stop-color="#570000"/></linearGradient>
<linearGradient id="h90" x1="56" x2="310" gradientUnits="userSpaceOnUse"><stop offset="0.001969" stop-color="#280000"/><stop offset="0.05315" stop-color="#530000"/><stop offset="0.09646" stop-color="#8a0000"/><stop offset="0.1319" stop-color="#cc0000"/><stop offset="0.1516" stop-color="#fb0000"/><stop offset="0.1634" stop-color="#ff1800"/><stop offset="0.187" stop-color="#ff4900"/><stop offset="0.2067" stop-color="#ff5e00"/><stop offset="0.2264" stop-color="#ff5e00"/><stop offset="0.2539" stop-color="#ff4500"/><stop offset="0.3012" stop-color="#fd0000"/><stop offset="0.3681" stop-color="#9f0000"/><stop offset="0.4272" stop-color="#610000"/><stop offset="0.4902" stop-color="#370000"/><stop offset="0.565" stop-color="#1d0000"/><stop offset="0.6476" stop-color="#180000"/><stop offset="0.8051" stop-color="#360000"/><stop offset="0.9823" stop-color="#580000"/><stop offset="0.998" stop-color="#590000"/></linearGradient>
<linearGradient id="h91" x1="56" x2="310" gradientUnits="userSpaceOnUse"><stop offset="0.001969" stop-color="#280000"/><stop offset="0.05315" stop-color="#520000"/><stop offset="0.09646" stop-color="#890000"/><stop offset="0.1319" stop-color="#ca0000"/><stop offset="0.1555" stop-color="#ff0200"/><stop offset="0.1831" stop-color="#ff3d00"/><stop offset="0.2028" stop-color="#ff5500"/><stop offset="0.2224" stop-color="#ff5900"/><stop offset="0.2461" stop-color="#ff4900"/><stop offset="0.3012" stop-color="#fe0000"/><stop offset="0.376" stop-color="#9c0000"/><stop offset="0.439" stop-color="#5f0000"/><stop offset="0.5059" stop-color="#360000"/><stop offset="0.5807" stop-color="#1e0000"/><stop offset="0.6594" stop-color="#1d0000"/><stop offset="0.9508" stop-color="#570000"/><stop offset="0.998" stop-color="#5a0000"/></linearGradient>
<linearGradient id="h92" x1="56" x2="310" gradientUnits="userSpaceOnUse"><stop offset="0.001969" stop-color="#270000"/><stop offset="0.05315" stop-color="#500000"/><stop offset="0.09646" stop-color="#850000"/><stop offset="0.1319" stop-color="#c50000"/><stop offset="0.1555" stop-color="#fa0000"/><stop offset="0.1634" stop-color="#ff0d00"/><stop offset="0.187" stop-color="#ff3a00"/><stop offset="0.2067" stop-color="#ff4e00"/><stop offset="0.2264" stop-color="#ff4f00"/><stop offset="0.2539" stop-color="#ff3a00"/><stop offset="0.3012" stop-color="#fe0000"/><stop offset="0.3878" stop-color="#980000"/><stop offset="0.4587" stop-color="#5a0000"/><stop offset="0.5295" stop-color="#320000"/><stop offset="0.6043" stop-color="#200000"/><stop offset="0.687" stop-color="#250000"/><stop offset="0.9154" stop-color="#550000"/><stop offset="0.998" stop-color="#5b0000"/></linearGradient>
<linearGradient id="h93" x1="56" x2="310" gradientUnits="userSpaceOnUse"><stop offset="0.001969" stop-color="#260000"/><stop offset="0.05315" stop-color="#4d0000"/><stop offset="0.1004" stop-color="#860000"/><stop offset="0.1358" stop-color="#c60000"/><stop offset="0.1634" stop-color="#ff0200"/><stop offset="0.1909" stop-color="#ff3300"/><stop offset="0.2106" stop-color="#ff4300"/><stop offset="0.2343" stop-color="#ff4100"/><stop offset="0.2736" stop-color="#ff1e00"/><stop offset="0.3012" stop-color="#fe0000"/><stop offset="0.4075" stop-color="#8f0000"/><stop offset="0.4862" stop-color="#520000"/><stop offset="0.561" stop-color="#2e0000"/><stop offset="0.628" stop-color="#230000"/><stop offset="0.7264" stop-color="#330000"/><stop offset="0.8996" stop-color="#570000"/><stop offset="0.998" stop-color="#5a0000"/></linearGradient>
<linearGradient id="h94" x1="56" x2="310" gradientUnits="userSpaceOnUse"><stop offset="0.001969" stop-color="#240000"/><stop offset="0.05315" stop-color="#490000"/><stop offset="0.1004" stop-color="#800000"/><stop offset="0.1358" stop-color="#bc0000"/><stop offset="0.1673" stop-color="#fc0000"/><stop offset="0.1949" stop-color="#ff2900"/><stop offset="0.2185" stop-color="#ff3700"/><stop offset="0.2461" stop-color="#ff2e00"/><stop offset="0.3012" stop-color="#fc0000"/><stop offset="0.4469" stop-color="#790000"/><stop offset="0.5295" stop-color="#420000"/><stop offset="0.5965" stop-color="#2b0000"/><stop offset="0.6634" stop-color="#2b0000"/><stop offset="0.876" stop-color="#570000"/><stop offset="0.9941" stop-color="#590000"/><stop offset="0.998" stop-color="#590000"/></linearGradient>
<linearGradient id="h95" x1="56" x2="310" gradientUnits="userSpaceOnUse"><stop offset="0.001969" stop-color="#220000"/><stop offset="0.05709" stop-color="#480000"/><stop offset="0.1043" stop-color="#7d0000"/><stop offset="0.1437" stop-color="#bf0000"/><stop offset="0.1791" stop-color="#ff0200"/><stop offset="0.2028" stop-color="#ff1e00"/><stop offset="0.2264" stop-color="#ff2600"/><stop offset="0.2618" stop-color="#ff1800"/><stop offset="0.2972" stop-color="#fc0000"/><stop offset="0.4902" stop-color="#620000"/><stop offset="0.565" stop-color="#3a0000"/><stop offset="0.628" stop-color="#2e0000"/><stop offset="0.7224" stop-color="#3d0000"/><stop offset="0.8681" stop-color="#580000"/><stop offset="0.9862" stop-color="#580000"/><stop offset="0.998" stop-color="#570000"/></linearGradient>
<linearGradient id="h96" x1="56" x2="310" gradientUnits="userSpaceOnUse"><stop offset="0.001969" stop-color="#200000"/><stop offset="0.05709" stop-color="#430000"/><stop offset="0.1043" stop-color="#740000"/><stop offset="0.1476" stop-color="#b80000"/><stop offset="0.187" stop-color="#f90000"/><stop offset="0.1988" stop-color="#ff0700"/><stop offset="0.2264" stop-color="#ff1500"/><stop offset="0.2657" stop-color="#ff0900"/><stop offset="0.2854" stop-color="#fd0000"/><stop offset="0.4114" stop-color="#a40000"/><stop offset="0.5217" stop-color="#550000"/><stop offset="0.5886" stop-color="#390000"/><stop offset="0.6516" stop-color="#350000"/><stop offset="0.8484" stop-color="#590000"/><stop offset="0.9665" stop-color="#570000"/><stop offset="0.998" stop-color="#530000"/></linearGradient>
<linearGradient id="h97" x1="56" x2="310" gradientUnits="userSpaceOnUse"><stop offset="0.001969" stop-color="#1e0000"/><stop offset="0.06102" stop-color="#410000"/><stop offset="0.1083" stop-color="#6f0000"/><stop offset="0.1555" stop-color="#b50000"/><stop offset="0.1909" stop-color="#ea0000"/><stop offset="0.2185" stop-color="#ff0000"/><stop offset="0.2539" stop-color="#ff0100"/><stop offset="0.3406" stop-color="#db0000"/><stop offset="0.4429" stop-color="#990000"/><stop offset="0.5492" stop-color="#520000"/><stop offset="0.6083" stop-color="#3d0000"/><stop offset="0.6752" stop-color="#400000"/><stop offset="0.8327" stop-color="#5a0000"/><stop offset="0.9547" stop-color="#560000"/><stop offset="0.998" stop-color="#4f0000"/></linearGradient>
<linearGradient id="h98" x1="56" x2="310" gradientUnits="userSpaceOnUse"><stop offset="0.001969" stop-color="#1c0000"/><stop offset="0.06496" stop-color="#3e0000"/><stop offset="0.1122" stop-color="#690000"/><stop offset="0.1713" stop-color="#bc0000"/><stop offset="0.2028" stop-color="#e10000"/><stop offset="0.2343" stop-color="#f10000"/><stop offset="0.2933" stop-color="#ee0000"/><stop offset="0.376" stop-color="#d60000"/><stop offset="0.4665" stop-color="#9f0000"/><stop offset="0.5728" stop-color="#580000"/><stop offset="0.628" stop-color="#460000"/><stop offset="0.7028" stop-color="#4c0000"/><stop offset="0.8327" stop-color="#5b0000"/><stop offset="0.9587" stop-color="#520000"/><stop offset="0.998" stop-color="#4b0000"/></linearGradient>
<linearGradient id="h99" x1="56" x2="310" gradientUnits="userSpaceOnUse"><stop offset="0.001969" stop-color="#1a0000"/><stop offset="0.0689" stop-color="#3a0000"/><stop offset="0.1201" stop-color="#660000"/><stop offset="0.1988" stop-color="#c90000"/><stop offset="0.2343" stop-color="#df0000"/><stop offset="0.3051" stop-color="#e80000"/><stop offset="0.376" stop-color="#e00000"/><stop offset="0.4469" stop-color="#c10000"/><stop offset="0.5925" stop-color="#5f0000"/><stop offset="0.6476" stop-color="#4f0000"/><stop offset="0.8366" stop-color="#5c0000"/><stop offset="0.9744" stop-color="#4b0000"/><stop offset="0.998" stop-color="#460000"/></linearGradient>
<linearGradient id="h100" x1="56" x2="310" gradientUnits="userSpaceOnUse"><stop offset="0.001969" stop-color="#180000"/><stop offset="0.07283" stop-color="#360000"/><stop offset="0.124" stop-color="#5e0000"/><stop offset="0.2028" stop-color="#b60000"/><stop offset="0.2461" stop-color="#ce0000"/><stop offset="0.3366" stop-color="#da0000"/><stop offset="0.4035" stop-color="#cf0000"/><stop offset="0.4823" stop-color="#a80000"/><stop offset="0.5886" stop-color="#660000"/><stop offset="0.6476" stop-color="#560000"/><stop offset="0.8287" stop-color="#5c0000"/><stop offset="0.9783" stop-color="#450000"/><stop offset="0.998" stop-color="#410000"/></linearGradient>
<linearGradient id="h101" x1="56" x2="310" gradientUnits="userSpaceOnUse"><stop offset="0.001969" stop-color="#160000"/><stop offset="0.07677" stop-color="#320000"/><stop offset="0.1319" stop-color="#590000"/><stop offset="0.2067" stop-color="#a30000"/><stop offset="0.2539" stop-color="#ba0000"/><stop offset="0.3484" stop-color="#c40000"/><stop offset="0.4154" stop-color="#b60000"/><stop offset="0.5217" stop-color="#7f0000"/><stop offset="0.5925" stop-color="#5f0000"/><stop offset="0.6594" stop-color="#590000"/><stop offset="0.7933" stop-color="#5e0000"/><stop offset="0.9469" stop-color="#470000"/><stop offset="0.998" stop-color="#3c0000"/></linearGradient>
<linearGradient id="h102" x1="56" x2="310" gradientUnits="userSpaceOnUse"><stop offset="0.001969" stop-color="#140000"/><stop offset="0.08465" stop-color="#300000"/><stop offset="0.1398" stop-color="#540000"/><stop offset="0.2146" stop-color="#960000"/><stop offset="0.2815" stop-color="#b30000"/><stop offset="0.3681" stop-color="#c30000"/><stop offset="0.435" stop-color="#b90000"/><stop offset="0.5335" stop-color="#890000"/><stop offset="0.6083" stop-color="#690000"/><stop offset="0.6949" stop-color="#630000"/><stop offset="0.8248" stop-color="#5a0000"/><stop offset="0.998" stop-color="#360000"/></linearGradient>
<linearGradient id="h103" x1="56" x2="310" gradientUnits="userSpaceOnUse"><stop offset="0.001969" stop-color="#120000"/><stop offset="0.08858" stop-color="#2b0000"/><stop offset="0.1476" stop-color="#4f0000"/><stop offset="0.2461" stop-color="#9e0000"/><stop offset="0.3602" stop-color="#e60000"/><stop offset="0.4193" stop-color="#f60000"/><stop offset="0.4744" stop-color="#ef0000"/><stop offset="0.5374" stop-color="#ce0000"/><stop offset="0.6398" stop-color="#890000"/><stop offset="0.7185" stop-color="#6d0000"/><stop offset="0.998" stop-color="#310000"/></linearGradient>
<linearGradient id="h104" x1="56" x2="310" gradientUnits="userSpaceOnUse"><stop offset="0.001969" stop-color="#110000"/><stop offset="0.09646" stop-color="#290000"/><stop offset="0.1594" stop-color="#4d0000"/><stop offset="0.2854" stop-color="#bb0000"/><stop offset="0.3563" stop-color="#ff0000"/><stop offset="0.4154" stop-color="#ff2600"/><stop offset="0.4626" stop-color="#ff3000"/><stop offset="0.5098" stop-color="#ff2300"/><stop offset="0.561" stop-color="#fe0000"/><stop offset="0.6752" stop-color="#960000"/><stop offset="0.7421" stop-color="#700000"/><stop offset="0.9311" stop-color="#3b0000"/><stop offset="0.998" stop-color="#2c0000"/></linearGradient>
<linearGradient id="h105" x1="56" x2="310" gradientUnits="userSpaceOnUse"><stop offset="0.001969" stop-color="#100000"/><stop offset="0.1043" stop-color="#260000"/><stop offset="0.1713" stop-color="#490000"/><stop offset="0.2894" stop-color="#a50000"/><stop offset="0.3799" stop-color="#f00000"/><stop offset="0.4114" stop-color="#ff0200"/><stop offset="0.4626" stop-color="#ff0e00"/><stop offset="0.5138" stop-color="#ff0500"/><stop offset="0.5374" stop-color="#f90000"/><stop offset="0.7185" stop-color="#7f0000"/><stop offset="0.8209" stop-color="#550000"/><stop offset="0.998" stop-color="#280000"/></linearGradient>
<linearGradient id="h106" x1="56" x2="310" gradientUnits="userSpaceOnUse"><stop offset="0.001969" stop-color="#0f0000"/><stop offset="0.1122" stop-color="#230000"/><stop offset="0.1949" stop-color="#490000"/><stop offset="0.372" stop-color="#9f0000"/><stop offset="0.4429" stop-color="#ad0000"/><stop offset="0.5177" stop-color="#a20000"/><stop offset="0.6516" stop-color="#810000"/><stop offset="0.7776" stop-color="#5f0000"/><stop offset="0.9626" stop-color="#2b0000"/><stop offset="0.998" stop-color="#240000"/></linearGradient>
<linearGradient id="h107" x1="56" x2="310" gradientUnits="userSpaceOnUse"><stop offset="0.001969" stop-color="#0e0000"/><stop offset="0.124" stop-color="#210000"/><stop offset="0.2539" stop-color="#590000"/><stop offset="0.3917" stop-color="#930000"/><stop offset="0.4665" stop-color="#9d0000"/><stop offset="0.7106" stop-color="#730000"/><stop offset="0.9154" stop-color="#310000"/><stop offset="0.998" stop-color="#200000"/></linearGradient>
<linearGradient id="h108" x1="56" x2="310" gradientUnits="userSpaceOnUse"><stop offset="0.001969" stop-color="#0d0000"/><stop offset="0.128" stop-color="#1e0000"/><stop offset="0.1988" stop-color="#3b0000"/><stop offset="0.2618" stop-color="#6a0000"/><stop offset="0.3996" stop-color="#f70000"/><stop offset="0.4154" stop-color="#ff0500"/><stop offset="0.4705" stop-color="#ff2400"/><stop offset="0.5217" stop-color="#ff2b00"/><stop offset="0.5768" stop-color="#ff1a00"/><stop offset="0.624" stop-color="#fc0000"/><stop offset="0.7028" stop-color="#b40000"/><stop offset="0.7815" stop-color="#6c0000"/><stop offset="0.8524" stop-color="#430000"/><stop offset="0.9547" stop-color="#240000"/><stop offset="0.998" stop-color="#1d0000"/></linearGradient>
<linearGradient id="h109" x1="56" x2="310" gradientUnits="userSpaceOnUse"><stop offset="0.001969" stop-color="#0d0000"/><stop offset="0.1358" stop-color="#1c0000"/><stop offset="0.1949" stop-color="#350000"/><stop offset="0.2382" stop-color="#5c0000"/><stop offset="0.2854" stop-color="#9d0000"/><stop offset="0.3445" stop-color="#ff0300"/><stop offset="0.4114" stop-color="#ff6d00"/><stop offset="0.4587" stop-color="#ffa500"/><stop offset="0.498" stop-color="#ffc000"/><stop offset="0.5374" stop-color="#ffc500"/><stop offset="0.5768" stop-color="#ffb500"/><stop offset="0.6201" stop-color="#ff8b00"/><stop offset="0.6673" stop-color="#ff4600"/><stop offset="0.7067" stop-color="#ff0200"/><stop offset="0.7697" stop-color="#9b0000"/><stop offset="0.8169" stop-color="#640000"/><stop offset="0.872" stop-color="#3d0000"/><stop offset="0.9469" stop-color="#230000"/><stop offset="0.998" stop-color="#1a0000"/></linearGradient>
<linearGradient id="h110" x1="56" x2="310" gradientUnits="userSpaceOnUse"><stop offset="0.001969" stop-color="#0c0000"/><stop offset="0.1437" stop-color="#1a0000"/><stop offset="0.2028" stop-color="#320000"/><stop offset="0.25" stop-color="#5a0000"/><stop offset="0.3091" stop-color="#aa0000"/><stop offset="0.3642" stop-color="#fe0000"/><stop offset="0.435" stop-color="#ff5d00"/><stop offset="0.4823" stop-color="#ff8800"/><stop offset="0.5256" stop-color="#ff9900"/><stop offset="0.5689" stop-color="#ff9400"/><stop offset="0.6122" stop-color="#ff7900"/><stop offset="0.6594" stop-color="#ff4600"/><stop offset="0.7067" stop-color="#fe0000"/><stop offset="0.7776" stop-color="#940000"/><stop offset="0.8287" stop-color="#5b0000"/><stop offset="0.8839" stop-color="#350000"/><stop offset="0.9626" stop-color="#1d0000"/><stop offset="0.998" stop-color="#180000"/></linearGradient>
<linearGradient id="h111" x1="56" x2="310" gradientUnits="userSpaceOnUse"><stop offset="0.001969" stop-color="#0c0000"/><stop offset="0.1594" stop-color="#180000"/><stop offset="0.2421" stop-color="#340000"/><stop offset="0.3484" stop-color="#750000"/><stop offset="0.4508" stop-color="#b30000"/><stop offset="0.5217" stop-color="#c90000"/><stop offset="0.6004" stop-color="#c90000"/><stop offset="0.6634" stop-color="#b60000"/><stop offset="0.7421" stop-color="#820000"/><stop offset="0.8366" stop-color="#430000"/><stop offset="0.9154" stop-color="#240000"/><stop offset="0.998" stop-color="#160000"/></linearGradient>
<linearGradient id="h112" x1="56" x2="310" gradientUnits="userSpaceOnUse"><stop offset="0.001969" stop-color="#0c0000"/><stop offset="0.1791" stop-color="#170000"/><stop offset="0.3366" stop-color="#3d0000"/><stop offset="0.4902" stop-color="#690000"/><stop offset="0.6398" stop-color="#780000"/><stop offset="0.7067" stop-color="#6b0000"/><stop offset="0.876" stop-color="#2a0000"/><stop offset="0.998" stop-color="#140000"/></linearGradient>
<linearGradient id="h113" x1="56" x2="310" gradientUnits="userSpaceOnUse"><stop offset="0.001969" stop-color="#0b0000"/><stop offset="0.1673" stop-color="#150000"/><stop offset="0.2303" stop-color="#2b0000"/><stop offset="0.2933" stop-color="#5b0000"/><stop offset="0.4429" stop-color="#eb0000"/><stop offset="0.4744" stop-color="#ff0300"/><stop offset="0.5335" stop-color="#ff1f00"/><stop offset="0.5886" stop-color="#ff2400"/><stop offset="0.6398" stop-color="#ff1400"/><stop offset="0.6713" stop-color="#fe0000"/><stop offset="0.7382" stop-color="#b90000"/><stop offset="0.8287" stop-color="#580000"/><stop offset="0.8839" stop-color="#300000"/><stop offset="0.9508" stop-color="#1a0000"/><stop offset="0.998" stop-color="#130000"/></linearGradient>
<linearGradient id="h114" x1="56" x2="310" gradientUnits="userSpaceOnUse"><stop offset="0.001969" stop-color="#0b0000"/><stop offset="0.1555" stop-color="#130000"/><stop offset="0.2067" stop-color="#270000"/><stop offset="0.2461" stop-color="#4d0000"/><stop offset="0.2894" stop-color="#8f0000"/><stop offset="0.3484" stop-color="#ff0000"/><stop offset="0.4311" stop-color="#ff9800"/><stop offset="0.4783" stop-color="#ffdc00"/><stop offset="0.5138" stop-color="#ffff01"/><stop offset="0.5453" stop-color="#ffff1b"/><stop offset="0.5768" stop-color="#ffff1f"/><stop offset="0.6083" stop-color="#ffff0d"/><stop offset="0.6201" stop-color="#ffff00"/><stop offset="0.6594" stop-color="#ffd200"/><stop offset="0.7028" stop-color="#ff8900"/><stop offset="0.7697" stop-color="#fe0000"/><stop offset="0.8287" stop-color="#8a0000"/><stop offset="0.8681" stop-color="#500000"/><stop offset="0.9075" stop-color="#2d0000"/><stop offset="0.9626" stop-color="#180000"/><stop offset="0.998" stop-color="#120000"/></linearGradient>
<linearGradient id="h115" x1="56" x2="310" gradientUnits="userSpaceOnUse"><stop offset="0.001969" stop-color="#0b0000"/><stop offset="0.1594" stop-color="#130000"/><stop offset="0.2067" stop-color="#240000"/><stop offset="0.2461" stop-color="#480000"/><stop offset="0.2894" stop-color="#890000"/><stop offset="0.3524" stop-color="#fd0000"/><stop offset="0.4429" stop-color="#ff9e00"/><stop offset="0.4902" stop-color="#ffdd00"/><stop offset="0.5295" stop-color="#ffff00"/><stop offset="0.561" stop-color="#ffff12"/><stop offset="0.5925" stop-color="#ffff0f"/><stop offset="0.6161" stop-color="#fffd00"/><stop offset="0.6516" stop-color="#ffdb00"/><stop offset="0.6949" stop-color="#ff9a00"/><stop offset="0.7697" stop-color="#ff0500"/><stop offset="0.7776" stop-color="#f30000"/><stop offset="0.8366" stop-color="#810000"/><stop offset="0.876" stop-color="#490000"/><stop offset="0.9154" stop-color="#280000"/><stop offset="0.9744" stop-color="#150000"/><stop offset="0.998" stop-color="#120000"/></linearGradient>
<linearGradient id="h116" x1="56" x2="310" gradientUnits="userSpaceOnUse"><stop offset="0.001969" stop-color="#0b0000"/><stop offset="0.1831" stop-color="#120000"/><stop offset="0.2461" stop-color="#280000"/><stop offset="0.3209" stop-color="#5f0000"/><stop offset="0.4665" stop-color="#da0000"/><stop offset="0.5295" stop-color="#fe0000"/><stop offset="0.5925" stop-color="#ff0e00"/><stop offset="0.6437" stop-color="#ff0400"/><stop offset="0.6673" stop-color="#f70000"/><stop offset="0.7264" stop-color="#c40000"/><stop offset="0.8445" stop-color="#4b0000"/><stop offset="0.8996" stop-color="#270000"/><stop offset="0.9744" stop-color="#130000"/><stop offset="0.998" stop-color="#110000"/></linearGradient>
<linearGradient id="h117" x1="56" x2="310" gradientUnits="userSpaceOnUse"><stop offset="0.001969" stop-color="#0b0000"/><stop offset="0.2539" stop-color="#130000"/><stop offset="0.3996" stop-color="#2b0000"/><stop offset="0.624" stop-color="#650000"/><stop offset="0.687" stop-color="#620000"/><stop offset="0.8839" stop-color="#210000"/><stop offset="0.998" stop-color="#100000"/></linearGradient>
<linearGradient id="h118" x1="56" x2="310" gradientUnits="userSpaceOnUse"><stop offset="0.001969" stop-color="#0b0000"/><stop offset="0.1909" stop-color="#110000"/><stop offset="0.2579" stop-color="#260000"/><stop offset="0.3642" stop-color="#690000"/><stop offset="0.498" stop-color="#c20000"/><stop offset="0.5728" stop-color="#df0000"/><stop offset="0.628" stop-color="#e10000"/><stop offset="0.6791" stop-color="#cd0000"/><stop offset="0.7539" stop-color="#920000"/><stop offset="0.8524" stop-color="#3e0000"/><stop offset="0.9114" stop-color="#200000"/><stop offset="0.998" stop-color="#100000"/></linearGradient>
<linearGradient id="h119" x1="56" x2="310" gradientUnits="userSpaceOnUse"><stop offset="0.001969" stop-color="#0b0000"/><stop offset="0.1673" stop-color="#110000"/><stop offset="0.2146" stop-color="#240000"/><stop offset="0.2539" stop-color="#490000"/><stop offset="0.3051" stop-color="#950000"/><stop offset="0.3681" stop-color="#ff0300"/><stop offset="0.4469" stop-color="#ff8500"/><stop offset="0.498" stop-color="#ffc600"/><stop offset="0.5413" stop-color="#ffe800"/><stop offset="0.5807" stop-color="#fff300"/><stop offset="0.6201" stop-color="#ffe700"/><stop offset="0.6594" stop-color="#ffc400"/><stop offset="0.7028" stop-color="#ff8500"/><stop offset="0.7736" stop-color="#fd0000"/><stop offset="0.8406" stop-color="#7c0000"/><stop offset="0.8799" stop-color="#450000"/><stop offset="0.9193" stop-color="#250000"/><stop offset="0.9783" stop-color="#130000"/><stop offset="0.998" stop-color="#110000"/></linearGradient>
<linearGradient id="h120" x1="56" x2="310" gradientUnits="userSpaceOnUse"><stop offset="0.001969" stop-color="#0b0000"/><stop offset="0.1634" stop-color="#110000"/><stop offset="0.2106" stop-color="#250000"/><stop offset="0.2461" stop-color="#470000"/><stop offset="0.2894" stop-color="#8c0000"/><stop offset="0.3484" stop-color="#ff0000"/><stop offset="0.435" stop-color="#ffa600"/><stop offset="0.4862" stop-color="#fff500"/><stop offset="0.4941" stop-color="#ffff00"/><stop offset="0.5256" stop-color="#ffff30"/><stop offset="0.5571" stop-color="#ffff4a"/><stop offset="0.5886" stop-color="#ffff4e"/><stop offset="0.6161" stop-color="#ffff3d"/><stop offset="0.6437" stop-color="#ffff19"/><stop offset="0.6594" stop-color="#fffc00"/><stop offset="0.7028" stop-color="#ffb400"/><stop offset="0.7697" stop-color="#ff2500"/><stop offset="0.7854" stop-color="#ff0100"/><stop offset="0.8445" stop-color="#820000"/><stop offset="0.8799" stop-color="#4a0000"/><stop offset="0.9154" stop-color="#290000"/><stop offset="0.9665" stop-color="#150000"/><stop offset="0.998" stop-color="#110000"/></linearGradient>
<linearGradient id="h121" x1="56" x2="310" gradientUnits="userSpaceOnUse"><stop offset="0.001969" stop-color="#0b0000"/><stop offset="0.1791" stop-color="#110000"/><stop offset="0.2343" stop-color="#260000"/><stop offset="0.2894" stop-color="#530000"/><stop offset="0.4469" stop-color="#ff0100"/><stop offset="0.5098" stop-color="#ff3600"/><stop offset="0.565" stop-color="#ff5000"/><stop offset="0.6122" stop-color="#ff5100"/><stop offset="0.6555" stop-color="#ff3d00"/><stop offset="0.7067" stop-color="#ff0c00"/><stop offset="0.7185" stop-color="#fd0000"/><stop offset="0.8445" stop-color="#580000"/><stop offset="0.8917" stop-color="#2e0000"/><stop offset="0.9469" stop-color="#180000"/><stop offset="0.998" stop-color="#100000"/></linearGradient>
<linearGradient id="h122" x1="56" x2="310" gradientUnits="userSpaceOnUse"><stop offset="0.001969" stop-color="#0b0000"/><stop offset="0.2343" stop-color="#120000"/><stop offset="0.372" stop-color="#2d0000"/><stop offset="0.6083" stop-color="#720000"/><stop offset="0.6713" stop-color="#720000"/><stop offset="0.7579" stop-color="#530000"/><stop offset="0.8799" stop-color="#230000"/><stop offset="0.998" stop-color="#100000"/></linearGradient>
<linearGradient id="h123" x1="56" x2="310" gradientUnits="userSpaceOnUse"><stop offset="0.001969" stop-color="#0b0000"/><stop offset="0.2028" stop-color="#120000"/><stop offset="0.2894" stop-color="#2b0000"/><stop offset="0.5256" stop-color="#990000"/><stop offset="0.6083" stop-color="#ac0000"/><stop offset="0.6634" stop-color="#a50000"/><stop offset="0.7303" stop-color="#830000"/><stop offset="0.8563" stop-color="#330000"/><stop offset="0.9311" stop-color="#1a0000"/><stop offset="0.998" stop-color="#110000"/></linearGradient>
<linearGradient id="h124" x1="56" x2="310" gradientUnits="userSpaceOnUse"><stop offset="0.001969" stop-color="#0b0000"/><stop offset="0.1673" stop-color="#130000"/><stop offset="0.2185" stop-color="#270000"/><stop offset="0.2618" stop-color="#4e0000"/><stop offset="0.3248" stop-color="#a50000"/><stop offset="0.3839" stop-color="#ff0100"/><stop offset="0.4587" stop-color="#ff6800"/><stop offset="0.5098" stop-color="#ff9b00"/><stop offset="0.5531" stop-color="#ffb200"/><stop offset="0.5965" stop-color="#ffb300"/><stop offset="0.6358" stop-color="#ff9f00"/><stop offset="0.6791" stop-color="#ff7200"/><stop offset="0.7343" stop-color="#ff1e00"/><stop offset="0.75" stop-color="#ff0300"/><stop offset="0.8406" stop-color="#6c0000"/><stop offset="0.8839" stop-color="#3a0000"/><stop offset="0.9311" stop-color="#1f0000"/><stop offset="0.998" stop-color="#110000"/></linearGradient>
<linearGradient id="h125" x1="56" x2="310" gradientUnits="userSpaceOnUse"><stop offset="0.001969" stop-color="#0b0000"/><stop offset="0.1555" stop-color="#130000"/><stop offset="0.2028" stop-color="#250000"/><stop offset="0.2382" stop-color="#450000"/><stop offset="0.2776" stop-color="#810000"/><stop offset="0.3406" stop-color="#fd0000"/><stop offset="0.4311" stop-color="#ffb100"/><stop offset="0.4783" stop-color="#fffb00"/><stop offset="0.4862" stop-color="#ffff09"/><stop offset="0.5177" stop-color="#ffff39"/><stop offset="0.5492" stop-color="#ffff52"/><stop offset="0.5768" stop-color="#ffff56"/><stop offset="0.6043" stop-color="#ffff46"/><stop offset="0.6319" stop-color="#ffff24"/><stop offset="0.6516" stop-color="#ffff00"/><stop offset="0.6909" stop-color="#ffbd00"/><stop offset="0.7618" stop-color="#ff2400"/><stop offset="0.7776" stop-color="#ff0100"/><stop offset="0.8366" stop-color="#860000"/><stop offset="0.872" stop-color="#500000"/><stop offset="0.9075" stop-color="#2e0000"/><stop offset="0.9587" stop-color="#190000"/><stop offset="0.998" stop-color="#120000"/></linearGradient>
<linearGradient id="h126" x1="56" x2="310" gradientUnits="userSpaceOnUse"><stop offset="0.001969" stop-color="#0b0000"/><stop offset="0.1634" stop-color="#150000"/><stop offset="0.2185" stop-color="#2a0000"/><stop offset="0.2618" stop-color="#500000"/><stop offset="0.3327" stop-color="#ac0000"/><stop offset="0.3917" stop-color="#ff0100"/><stop offset="0.4587" stop-color="#ff5400"/><stop offset="0.5098" stop-color="#ff7f00"/><stop offset="0.5571" stop-color="#ff9100"/><stop offset="0.6004" stop-color="#ff8c00"/><stop offset="0.6437" stop-color="#ff7200"/><stop offset="0.6909" stop-color="#ff3c00"/><stop offset="0.7303" stop-color="#ff0100"/><stop offset="0.8248" stop-color="#720000"/><stop offset="0.872" stop-color="#3f0000"/><stop offset="0.9193" stop-color="#230000"/><stop offset="0.998" stop-color="#130000"/></linearGradient>
<linearGradient id="h127" x1="56" x2="310" gradientUnits="userSpaceOnUse"><stop offset="0.001969" stop-color="#0c0000"/><stop offset="0.1791" stop-color="#170000"/><stop offset="0.2776" stop-color="#330000"/><stop offset="0.4705" stop-color="#890000"/><stop offset="0.565" stop-color="#9e0000"/><stop offset="0.6437" stop-color="#9c0000"/><stop offset="0.7067" stop-color="#860000"/><stop offset="0.8484" stop-color="#370000"/><stop offset="0.939" stop-color="#1c0000"/><stop offset="0.998" stop-color="#140000"/></linearGradient>
<linearGradient id="h128" x1="56" x2="310" gradientUnits="userSpaceOnUse"><stop offset="0.001969" stop-color="#0c0000"/><stop offset="0.1713" stop-color="#180000"/><stop offset="0.2933" stop-color="#3b0000"/><stop offset="0.4626" stop-color="#7c0000"/><stop offset="0.5728" stop-color="#8b0000"/><stop offset="0.6594" stop-color="#880000"/><stop offset="0.7343" stop-color="#6c0000"/><stop offset="0.8602" stop-color="#320000"/><stop offset="0.9705" stop-color="#180000"/><stop offset="0.998" stop-color="#150000"/></linearGradient>
<linearGradient id="h129" x1="56" x2="310" gradientUnits="userSpaceOnUse"><stop offset="0.001969" stop-color="#0c0000"/><stop offset="0.1476" stop-color="#190000"/><stop offset="0.2106" stop-color="#300000"/><stop offset="0.2618" stop-color="#580000"/><stop offset="0.3642" stop-color="#ce0000"/><stop offset="0.4075" stop-color="#ff0000"/><stop offset="0.4665" stop-color="#ff3400"/><stop offset="0.5177" stop-color="#ff4b00"/><stop offset="0.5689" stop-color="#ff4b00"/><stop offset="0.6201" stop-color="#ff3400"/><stop offset="0.6713" stop-color="#ff0800"/><stop offset="0.6831" stop-color="#fa0000"/><stop offset="0.7933" stop-color="#750000"/><stop offset="0.8524" stop-color="#440000"/><stop offset="0.9154" stop-color="#270000"/><stop offset="0.998" stop-color="#170000"/></linearGradient>
<linearGradient id="h130" x1="56" x2="310" gradientUnits="userSpaceOnUse"><stop offset="0.001969" stop-color="#0d0000"/><stop offset="0.1358" stop-color="#1b0000"/><stop offset="0.1949" stop-color="#330000"/><stop offset="0.2382" stop-color="#590000"/><stop offset="0.2854" stop-color="#9c0000"/><stop offset="0.3406" stop-color="#fc0000"/><stop offset="0.3681" stop-color="#ff2c00"/><stop offset="0.4272" stop-color="#ff8700"/><stop offset="0.4705" stop-color="#ffb700"/><stop offset="0.5098" stop-color="#ffce00"/><stop offset="0.5492" stop-color="#ffcf00"/><stop offset="0.5886" stop-color="#ffba00"/><stop offset="0.6319" stop-color="#ff8c00"/><stop offset="0.6831" stop-color="#ff3a00"/><stop offset="0.7146" stop-color="#ff0100"/><stop offset="0.7736" stop-color="#9e0000"/><stop offset="0.8209" stop-color="#640000"/><stop offset="0.872" stop-color="#3d0000"/><stop offset="0.9429" stop-color="#230000"/><stop offset="0.998" stop-color="#190000"/></linearGradient>
<linearGradient id="h131" x1="56" x2="310" gradientUnits="userSpaceOnUse"><stop offset="0.001969" stop-color="#0d0000"/><stop offset="0.1319" stop-color="#1d0000"/><stop offset="0.1949" stop-color="#380000"/><stop offset="0.2461" stop-color="#610000"/><stop offset="0.313" stop-color="#b50000"/><stop offset="0.3681" stop-color="#ff0200"/><stop offset="0.4311" stop-color="#ff4b00"/><stop offset="0.4783" stop-color="#ff6d00"/><stop offset="0.5217" stop-color="#ff7600"/><stop offset="0.565" stop-color="#ff6a00"/><stop offset="0.6161" stop-color="#ff4500"/><stop offset="0.6752" stop-color="#ff0000"/><stop offset="0.7618" stop-color="#8d0000"/><stop offset="0.8169" stop-color="#5b0000"/><stop offset="0.8839" stop-color="#370000"/><stop offset="0.9902" stop-color="#1d0000"/><stop offset="0.998" stop-color="#1c0000"/></linearGradient>
<linearGradient id="h132" x1="56" x2="310" gradientUnits="userSpaceOnUse"><stop offset="0.001969" stop-color="#0e0000"/><stop offset="0.124" stop-color="#1f0000"/><stop offset="0.2106" stop-color="#430000"/><stop offset="0.4035" stop-color="#b30000"/><stop offset="0.4705" stop-color="#c40000"/><stop offset="0.5413" stop-color="#be0000"/><stop offset="0.6791" stop-color="#920000"/><stop offset="0.8366" stop-color="#480000"/><stop offset="0.9665" stop-color="#240000"/><stop offset="0.998" stop-color="#1f0000"/></linearGradient>
<linearGradient id="h133" x1="56" x2="310" gradientUnits="userSpaceOnUse"><stop offset="0.001969" stop-color="#0f0000"/><stop offset="0.1161" stop-color="#220000"/><stop offset="0.2303" stop-color="#550000"/><stop offset="0.3799" stop-color="#8d0000"/><stop offset="0.4547" stop-color="#950000"/><stop offset="0.628" stop-color="#770000"/><stop offset="0.7264" stop-color="#6b0000"/><stop offset="0.9587" stop-color="#2a0000"/><stop offset="0.998" stop-color="#220000"/></linearGradient>
<linearGradient id="h134" x1="56" x2="310" gradientUnits="userSpaceOnUse"><stop offset="0.001969" stop-color="#0f0000"/><stop offset="0.1083" stop-color="#250000"/><stop offset="0.1791" stop-color="#480000"/><stop offset="0.3799" stop-color="#d10000"/><stop offset="0.439" stop-color="#e50000"/><stop offset="0.498" stop-color="#e30000"/><stop offset="0.5768" stop-color="#c20000"/><stop offset="0.7618" stop-color="#680000"/><stop offset="0.9272" stop-color="#350000"/><stop offset="0.998" stop-color="#260000"/></linearGradient>
<linearGradient id="h135" x1="56" x2="310" gradientUnits="userSpaceOnUse"><stop offset="0.001969" stop-color="#110000"/><stop offset="0.1004" stop-color="#280000"/><stop offset="0.1634" stop-color="#4b0000"/><stop offset="0.2736" stop-color="#a90000"/><stop offset="0.3602" stop-color="#fd0000"/><stop offset="0.4232" stop-color="#ff2700"/><stop offset="0.4705" stop-color="#ff2f00"/><stop offset="0.5177" stop-color="#ff2200"/><stop offset="0.5689" stop-color="#fc0000"/><stop offset="0.6831" stop-color="#960000"/><stop offset="0.75" stop-color="#6f0000"/><stop offset="0.9035" stop-color="#400000"/><stop offset="0.998" stop-color="#2a0000"/></linearGradient>
<linearGradient id="h136" x1="56" x2="310" gradientUnits="userSpaceOnUse"><stop offset="0.001969" stop-color="#120000"/><stop offset="0.09252" stop-color="#2b0000"/><stop offset="0.1516" stop-color="#4e0000"/><stop offset="0.3602" stop-color="#f60000"/><stop offset="0.3799" stop-color="#ff0200"/><stop offset="0.435" stop-color="#ff1300"/><stop offset="0.4862" stop-color="#ff0c00"/><stop offset="0.5177" stop-color="#fc0000"/><stop offset="0.6122" stop-color="#b10000"/><stop offset="0.6831" stop-color="#810000"/><stop offset="0.7697" stop-color="#640000"/><stop offset="0.998" stop-color="#2f0000"/></linearGradient>
<linearGradient id="h137" x1="56" x2="310" gradientUnits="userSpaceOnUse"><stop offset="0.001969" stop-color="#130000"/><stop offset="0.08465" stop-color="#2d0000"/><stop offset="0.1437" stop-color="#530000"/><stop offset="0.2224" stop-color="#950000"/><stop offset="0.3169" stop-color="#c10000"/><stop offset="0.3839" stop-color="#d10000"/><stop offset="0.4469" stop-color="#ca0000"/><stop offset="0.5256" stop-color="#a50000"/><stop offset="0.6122" stop-color="#780000"/><stop offset="0.6909" stop-color="#680000"/><stop offset="0.8563" stop-color="#540000"/><stop offset="0.998" stop-color="#340000"/></linearGradient>
<linearGradient id="h138" x1="56" x2="310" gradientUnits="userSpaceOnUse"><stop offset="0.001969" stop-color="#150000"/><stop offset="0.08071" stop-color="#320000"/><stop offset="0.1358" stop-color="#580000"/><stop offset="0.2067" stop-color="#9b0000"/><stop offset="0.2579" stop-color="#b30000"/><stop offset="0.3524" stop-color="#bf0000"/><stop offset="0.4193" stop-color="#b20000"/><stop offset="0.5846" stop-color="#630000"/><stop offset="0.6476" stop-color="#5b0000"/><stop offset="0.7854" stop-color="#5f0000"/><stop offset="0.9429" stop-color="#460000"/><stop offset="0.998" stop-color="#390000"/></linearGradient>
<linearGradient id="h139" x1="56" x2="310" gradientUnits="userSpaceOnUse"><stop offset="0.001969" stop-color="#170000"/><stop offset="0.07283" stop-color="#340000"/><stop offset="0.124" stop-color="#590000"/><stop offset="0.2028" stop-color="#ad0000"/><stop offset="0.2461" stop-color="#c50000"/><stop offset="0.3366" stop-color="#d10000"/><stop offset="0.4035" stop-color="#c70000"/><stop offset="0.4823" stop-color="#a00000"/><stop offset="0.5846" stop-color="#650000"/><stop offset="0.6437" stop-color="#580000"/><stop offset="0.8169" stop-color="#5d0000"/><stop offset="0.9705" stop-color="#450000"/><stop offset="0.998" stop-color="#3f0000"/></linearGradient>
<linearGradient id="h140" x1="56" x2="310" gradientUnits="userSpaceOnUse"><stop offset="0.001969" stop-color="#190000"/><stop offset="0.0689" stop-color="#380000"/><stop offset="0.1201" stop-color="#610000"/><stop offset="0.1988" stop-color="#c00000"/><stop offset="0.2382" stop-color="#d80000"/><stop offset="0.3209" stop-color="#e40000"/><stop offset="0.3878" stop-color="#dc0000"/><stop offset="0.4587" stop-color="#bc0000"/><stop offset="0.5925" stop-color="#630000"/><stop offset="0.6476" stop-color="#530000"/><stop offset="0.8366" stop-color="#5c0000"/><stop offset="0.9783" stop-color="#480000"/><stop offset="0.998" stop-color="#440000"/></linearGradient>
<linearGradient id="h141" x1="56" x2="310" gradientUnits="userSpaceOnUse"><stop offset="0.001969" stop-color="#1b0000"/><stop offset="0.06496" stop-color="#3b0000"/><stop offset="0.1161" stop-color="#690000"/><stop offset="0.1949" stop-color="#d10000"/><stop offset="0.2264" stop-color="#e70000"/><stop offset="0.2776" stop-color="#ed0000"/><stop offset="0.3681" stop-color="#de0000"/><stop offset="0.4429" stop-color="#b90000"/><stop offset="0.5846" stop-color="#5a0000"/><stop offset="0.6398" stop-color="#4a0000"/><stop offset="0.7421" stop-color="#540000"/><stop offset="0.8642" stop-color="#5b0000"/><stop offset="0.998" stop-color="#490000"/></linearGradient>
<linearGradient id="h142" x1="56" x2="310" gradientUnits="userSpaceOnUse"><stop offset="0.001969" stop-color="#1d0000"/><stop offset="0.06102" stop-color="#3e0000"/><stop offset="0.1083" stop-color="#6a0000"/><stop offset="0.1555" stop-color="#ae0000"/><stop offset="0.1909" stop-color="#e20000"/><stop offset="0.2185" stop-color="#f70000"/><stop offset="0.2579" stop-color="#fa0000"/><stop offset="0.3602" stop-color="#d50000"/><stop offset="0.4665" stop-color="#900000"/><stop offset="0.561" stop-color="#530000"/><stop offset="0.6201" stop-color="#400000"/><stop offset="0.6949" stop-color="#460000"/><stop offset="0.8327" stop-color="#5a0000"/><stop offset="0.9547" stop-color="#550000"/><stop offset="0.998" stop-color="#4e0000"/></linearGradient>
<linearGradient id="h143" x1="56" x2="310" gradientUnits="userSpaceOnUse"><stop offset="0.001969" stop-color="#1f0000"/><stop offset="0.06102" stop-color="#440000"/><stop offset="0.1083" stop-color="#750000"/><stop offset="0.1516" stop-color="#b90000"/><stop offset="0.187" stop-color="#f10000"/><stop offset="0.2028" stop-color="#ff0300"/><stop offset="0.2303" stop-color="#ff0d00"/><stop offset="0.2776" stop-color="#fd0000"/><stop offset="0.3917" stop-color="#b60000"/><stop offset="0.5256" stop-color="#570000"/><stop offset="0.5925" stop-color="#3b0000"/><stop offset="0.6555" stop-color="#380000"/><stop offset="0.8406" stop-color="#590000"/><stop offset="0.9587" stop-color="#570000"/><stop offset="0.998" stop-color="#520000"/></linearGradient>
<linearGradient id="h144" x1="56" x2="310" gradientUnits="userSpaceOnUse"><stop offset="0.001969" stop-color="#220000"/><stop offset="0.05709" stop-color="#460000"/><stop offset="0.1043" stop-color="#790000"/><stop offset="0.1437" stop-color="#b90000"/><stop offset="0.1831" stop-color="#ff0100"/><stop offset="0.2067" stop-color="#ff1900"/><stop offset="0.2343" stop-color="#ff1f00"/><stop offset="0.2776" stop-color="#ff0900"/><stop offset="0.2933" stop-color="#fc0000"/><stop offset="0.502" stop-color="#5d0000"/><stop offset="0.5728" stop-color="#3a0000"/><stop offset="0.6358" stop-color="#310000"/><stop offset="0.8642" stop-color="#590000"/><stop offset="0.9823" stop-color="#570000"/><stop offset="0.998" stop-color="#550000"/></linearGradient>
<linearGradient id="h145" x1="56" x2="310" gradientUnits="userSpaceOnUse"><stop offset="0.001969" stop-color="#240000"/><stop offset="0.05709" stop-color="#4b0000"/><stop offset="0.1043" stop-color="#820000"/><stop offset="0.1437" stop-color="#c70000"/><stop offset="0.1713" stop-color="#fe0000"/><stop offset="0.1988" stop-color="#ff2600"/><stop offset="0.2224" stop-color="#ff3000"/><stop offset="0.2539" stop-color="#ff2400"/><stop offset="0.2972" stop-color="#ff0000"/><stop offset="0.4626" stop-color="#710000"/><stop offset="0.5413" stop-color="#400000"/><stop offset="0.6083" stop-color="#2c0000"/><stop offset="0.6791" stop-color="#300000"/><stop offset="0.8681" stop-color="#570000"/><stop offset="0.9862" stop-color="#590000"/><stop offset="0.998" stop-color="#580000"/></linearGradient>
<linearGradient id="h146" x1="56" x2="310" gradientUnits="userSpaceOnUse"><stop offset="0.001969" stop-color="#250000"/><stop offset="0.05315" stop-color="#4c0000"/><stop offset="0.1004" stop-color="#840000"/><stop offset="0.1358" stop-color="#c20000"/><stop offset="0.1634" stop-color="#fc0000"/><stop offset="0.1949" stop-color="#ff3200"/><stop offset="0.2146" stop-color="#ff3f00"/><stop offset="0.2382" stop-color="#ff3a00"/><stop offset="0.2815" stop-color="#ff1400"/><stop offset="0.3012" stop-color="#fd0000"/><stop offset="0.4193" stop-color="#890000"/><stop offset="0.502" stop-color="#4c0000"/><stop offset="0.5728" stop-color="#2d0000"/><stop offset="0.6398" stop-color="#260000"/><stop offset="0.7815" stop-color="#430000"/><stop offset="0.9232" stop-color="#5a0000"/><stop offset="0.998" stop-color="#5a0000"/></linearGradient>
<linearGradient id="h147" x1="56" x2="310" gradientUnits="userSpaceOnUse"><stop offset="0.001969" stop-color="#270000"/><stop offset="0.05315" stop-color="#4f0000"/><stop offset="0.09646" stop-color="#840000"/><stop offset="0.1319" stop-color="#c20000"/><stop offset="0.1594" stop-color="#ff0000"/><stop offset="0.187" stop-color="#ff3500"/><stop offset="0.2067" stop-color="#ff4900"/><stop offset="0.2303" stop-color="#ff4a00"/><stop offset="0.2618" stop-color="#ff2f00"/><stop offset="0.3012" stop-color="#fe0000"/><stop offset="0.3917" stop-color="#980000"/><stop offset="0.4665" stop-color="#580000"/><stop offset="0.5413" stop-color="#300000"/><stop offset="0.6122" stop-color="#210000"/><stop offset="0.6949" stop-color="#290000"/><stop offset="0.9075" stop-color="#560000"/><stop offset="0.998" stop-color="#5b0000"/></linearGradient>
<linearGradient id="h148" x1="56" x2="310" gradientUnits="userSpaceOnUse"><stop offset="0.001969" stop-color="#280000"/><stop offset="0.05315" stop-color="#510000"/><stop offset="0.09646" stop-color="#880000"/><stop offset="0.1319" stop-color="#c80000"/><stop offset="0.1555" stop-color="#fe0000"/><stop offset="0.1831" stop-color="#ff3900"/><stop offset="0.2028" stop-color="#ff5200"/><stop offset="0.2224" stop-color="#ff5600"/><stop offset="0.25" stop-color="#ff4300"/><stop offset="0.3012" stop-color="#fe0000"/><stop offset="0.3799" stop-color="#9b0000"/><stop offset="0.4469" stop-color="#5d0000"/><stop offset="0.5177" stop-color="#330000"/><stop offset="0.5925" stop-color="#1e0000"/><stop offset="0.6713" stop-color="#200000"/><stop offset="0.935" stop-color="#560000"/><stop offset="0.998" stop-color="#5b0000"/></linearGradient>
<linearGradient id="h149" x1="56" x2="310" gradientUnits="userSpaceOnUse"><stop offset="0.001969" stop-color="#280000"/><stop offset="0.05315" stop-color="#530000"/><stop offset="0.09646" stop-color="#8a0000"/><stop offset="0.1319" stop-color="#cc0000"/><stop offset="0.1516" stop-color="#fa0000"/><stop offset="0.1594" stop-color="#ff0e00"/><stop offset="0.187" stop-color="#ff4700"/><stop offset="0.2067" stop-color="#ff5c00"/><stop offset="0.2264" stop-color="#ff5c00"/><stop offset="0.2539" stop-color="#ff4400"/><stop offset="0.3012" stop-color="#fd0000"/><stop offset="0.3681" stop-color="#a10000"/><stop offset="0.4311" stop-color="#610000"/><stop offset="0.498" stop-color="#350000"/><stop offset="0.5728" stop-color="#1d0000"/><stop offset="0.6555" stop-color="#1a0000"/><stop offset="0.9665" stop-color="#570000"/><stop offset="0.998" stop-color="#5a0000"/></linearGradient>
<linearGradient id="h150" x1="56" x2="310" gradientUnits="userSpaceOnUse"><stop offset="0.001969" stop-color="#280000"/><stop offset="0.05315" stop-color="#530000"/><stop offset="0.09646" stop-color="#8a0000"/><stop offset="0.128" stop-color="#c40000"/><stop offset="0.1516" stop-color="#fb0000"/><stop offset="0.1713" stop-color="#ff2b00"/><stop offset="0.1909" stop-color="#ff5000"/><stop offset="0.2106" stop-color="#ff6200"/><stop offset="0.2303" stop-color="#ff5f00"/><stop offset="0.2579" stop-color="#ff4200"/><stop offset="0.3012" stop-color="#fd0000"/><stop offset="0.3642" stop-color="#a00000"/><stop offset="0.4193" stop-color="#630000"/><stop offset="0.4783" stop-color="#390000"/><stop offset="0.5531" stop-color="#1d0000"/><stop offset="0.6398" stop-color="#160000"/><stop offset="0.7776" stop-color="#2d0000"/><stop offset="0.9862" stop-color="#560000"/><stop offset="0.998" stop-color="#580000"/></linearGradient>
<linearGradient id="h151" x1="56" x2="310" gradientUnits="userSpaceOnUse"><stop offset="0.001969" stop-color="#280000"/><stop offset="0.05315" stop-color="#520000"/><stop offset="0.09646" stop-color="#890000"/><stop offset="0.128" stop-color="#c20000"/><stop offset="0.1516" stop-color="#fa0000"/><stop offset="0.1594" stop-color="#ff0e00"/><stop offset="0.187" stop-color="#ff4a00"/><stop offset="0.2067" stop-color="#ff6100"/><stop offset="0.2264" stop-color="#ff6300"/><stop offset="0.25" stop-color="#ff4e00"/><stop offset="0.3012" stop-color="#fc0000"/><stop offset="0.3642" stop-color="#9b0000"/><stop offset="0.4193" stop-color="#5d0000"/><stop offset="0.4783" stop-color="#340000"/><stop offset="0.5531" stop-color="#1a0000"/><stop offset="0.6437" stop-color="#140000"/><stop offset="0.7933" stop-color="#2b0000"/><stop offset="0.998" stop-color="#550000"/></linearGradient>
<linearGradient id="h152" x1="56" x2="310" gradientUnits="userSpaceOnUse"><stop offset="0.001969" stop-color="#270000"/><stop offset="0.05315" stop-color="#500000"/><stop offset="0.09646" stop-color="#850000"/><stop offset="0.128" stop-color="#bd0000"/><stop offset="0.1555" stop-color="#fe0000"/><stop offset="0.187" stop-color="#ff4700"/><stop offset="0.2067" stop-color="#ff5f00"/><stop offset="0.2264" stop-color="#ff6200"/><stop offset="0.25" stop-color="#ff4e00"/><stop offset="0.2933" stop-color="#ff0a00"/><stop offset="0.3012" stop-color="#fb0000"/><stop offset="0.3642" stop-color="#980000"/><stop offset="0.4154" stop-color="#5c0000"/><stop offset="0.4705" stop-color="#340000"/><stop offset="0.5413" stop-color="#1a0000"/><stop offset="0.6358" stop-color="#120000"/><stop offset="0.7815" stop-color="#240000"/><stop offset="0.998" stop-color="#510000"/></linearGradient>
<linearGradient id="h153" x1="56" x2="310" gradientUnits="userSpaceOnUse"><stop offset="0.001969" stop-color="#260000"/><stop offset="0.05315" stop-color="#4d0000"/><stop offset="0.09646" stop-color="#800000"/><stop offset="0.128" stop-color="#b70000"/><stop offset="0.1594" stop-color="#ff0100"/><stop offset="0.187" stop-color="#ff3f00"/><stop offset="0.2067" stop-color="#ff5900"/><stop offset="0.2264" stop-color="#ff5e00"/><stop offset="0.25" stop-color="#ff4d00"/><stop offset="0.2894" stop-color="#ff1100"/><stop offset="0.3012" stop-color="#fb0000"/><stop offset="0.3642" stop-color="#960000"/><stop offset="0.4154" stop-color="#590000"/><stop offset="0.4705" stop-color="#310000"/><stop offset="0.5413" stop-color="#180000"/><stop offset="0.6437" stop-color="#110000"/><stop offset="0.8012" stop-color="#240000"/><stop offset="0.998" stop-color="#4d0000"/></linearGradient>
<linearGradient id="h154" x1="56" x2="310" gradientUnits="userSpaceOnUse"><stop offset="0.001969" stop-color="#250000"/><stop offset="0.05709" stop-color="#4d0000"/><stop offset="0.1004" stop-color="#7f0000"/><stop offset="0.1319" stop-color="#b60000"/><stop offset="0.1634" stop-color="#ff0000"/><stop offset="0.1909" stop-color="#ff3c00"/><stop offset="0.2106" stop-color="#ff5400"/><stop offset="0.2303" stop-color="#ff5700"/><stop offset="0.2539" stop-color="#ff4500"/><stop offset="0.3012" stop-color="#fc0000"/><stop offset="0.3681" stop-color="#900000"/><stop offset="0.4193" stop-color="#540000"/><stop offset="0.4744" stop-color="#2d0000"/><stop offset="0.5453" stop-color="#160000"/><stop offset="0.6555" stop-color="#100000"/><stop offset="0.8287" stop-color="#240000"/><stop offset="0.998" stop-color="#480000"/></linearGradient>
<linearGradient id="h155" x1="56" x2="310" gradientUnits="userSpaceOnUse"><stop offset="0.001969" stop-color="#230000"/><stop offset="0.05709" stop-color="#480000"/><stop offset="0.1004" stop-color="#770000"/><stop offset="0.1319" stop-color="#ab0000"/><stop offset="0.1673" stop-color="#fc0000"/><stop offset="0.1988" stop-color="#ff3c00"/><stop offset="0.2185" stop-color="#ff4e00"/><stop offset="0.2382" stop-color="#ff4d00"/><stop offset="0.2657" stop-color="#ff3400"/><stop offset="0.3012" stop-color="#fd0000"/><stop offset="0.372" stop-color="#8c0000"/><stop offset="0.4232" stop-color="#510000"/><stop offset="0.4783" stop-color="#2b0000"/><stop offset="0.5492" stop-color="#150000"/><stop offset="0.6634" stop-color="#0f0000"/><stop offset="0.8406" stop-color="#220000"/><stop offset="0.998" stop-color="#430000"/></linearGradient>
<linearGradient id="h156" x1="56" x2="310" gradientUnits="userSpaceOnUse"><stop offset="0.001969" stop-color="#210000"/><stop offset="0.06102" stop-color="#460000"/><stop offset="0.1043" stop-color="#730000"/><stop offset="0.1358" stop-color="#a60000"/><stop offset="0.1752" stop-color="#ff0000"/><stop offset="0.1988" stop-color="#ff2e00"/><stop offset="0.2185" stop-color="#ff4300"/><stop offset="0.2382" stop-color="#ff4500"/><stop offset="0.2657" stop-color="#ff3000"/><stop offset="0.3012" stop-color="#fe0000"/><stop offset="0.3799" stop-color="#850000"/><stop offset="0.4311" stop-color="#4c0000"/><stop offset="0.4862" stop-color="#280000"/><stop offset="0.561" stop-color="#130000"/><stop offset="0.687" stop-color="#0f0000"/><stop offset="0.872" stop-color="#240000"/><stop offset="0.998" stop-color="#3e0000"/></linearGradient>
<linearGradient id="h157" x1="56" x2="310" gradientUnits="userSpaceOnUse"><stop offset="0.001969" stop-color="#1e0000"/><stop offset="0.06496" stop-color="#430000"/><stop offset="0.1083" stop-color="#6e0000"/><stop offset="0.1398" stop-color="#a00000"/><stop offset="0.1831" stop-color="#ff0000"/><stop offset="0.2067" stop-color="#ff2900"/><stop offset="0.2264" stop-color="#ff3a00"/><stop offset="0.25" stop-color="#ff3800"/><stop offset="0.2815" stop-color="#ff1b00"/><stop offset="0.3012" stop-color="#ff0100"/><stop offset="0.3917" stop-color="#7b0000"/><stop offset="0.4429" stop-color="#460000"/><stop offset="0.498" stop-color="#250000"/><stop offset="0.5768" stop-color="#120000"/><stop offset="0.7185" stop-color="#100000"/><stop offset="0.9035" stop-color="#250000"/><stop offset="0.998" stop-color="#380000"/></linearGradient>
<linearGradient id="h158" x1="56" x2="310" gradientUnits="userSpaceOnUse"><stop offset="0.001969" stop-color="#1c0000"/><stop offset="0.0689" stop-color="#3f0000"/><stop offset="0.1122" stop-color="#680000"/><stop offset="0.1437" stop-color="#980000"/><stop offset="0.1909" stop-color="#fd0000"/><stop offset="0.2185" stop-color="#ff2600"/><stop offset="0.2421" stop-color="#ff3000"/><stop offset="0.2697" stop-color="#ff2400"/><stop offset="0.3051" stop-color="#fc0000"/><stop offset="0.3996" stop-color="#790000"/><stop offset="0.4508" stop-color="#460000"/><stop offset="0.5098" stop-color="#240000"/><stop offset="0.5925" stop-color="#110000"/><stop offset="0.7461" stop-color="#100000"/><stop offset="0.9311" stop-color="#260000"/><stop offset="0.998" stop-color="#330000"/></linearGradient>
<linearGradient id="h159" x1="56" x2="310" gradientUnits="userSpaceOnUse"><stop offset="0.001969" stop-color="#1a0000"/><stop offset="0.0689" stop-color="#390000"/><stop offset="0.1161" stop-color="#610000"/><stop offset="0.1476" stop-color="#900000"/><stop offset="0.2028" stop-color="#ff0000"/><stop offset="0.2264" stop-color="#ff1d00"/><stop offset="0.25" stop-color="#ff2500"/><stop offset="0.2776" stop-color="#ff1a00"/><stop offset="0.3051" stop-color="#fe0000"/><stop offset="0.4154" stop-color="#6f0000"/><stop offset="0.4705" stop-color="#3d0000"/><stop offset="0.5335" stop-color="#1f0000"/><stop offset="0.628" stop-color="#0f0000"/><stop offset="0.8091" stop-color="#130000"/><stop offset="0.9941" stop-color="#2d0000"/><stop offset="0.998" stop-color="#2e0000"/></linearGradient>
<linearGradient id="h160" x1="56" x2="310" gradientUnits="userSpaceOnUse"><stop offset="0.001969" stop-color="#180000"/><stop offset="0.07677" stop-color="#370000"/><stop offset="0.1201" stop-color="#5a0000"/><stop offset="0.1516" stop-color="#870000"/><stop offset="0.2067" stop-color="#f20000"/><stop offset="0.2146" stop-color="#fe0000"/><stop offset="0.2421" stop-color="#ff1800"/><stop offset="0.2697" stop-color="#ff1900"/><stop offset="0.3051" stop-color="#ff0000"/><stop offset="0.3681" stop-color="#b30000"/><stop offset="0.435" stop-color="#640000"/><stop offset="0.4902" stop-color="#380000"/><stop offset="0.5571" stop-color="#1b0000"/><stop offset="0.6594" stop-color="#0e0000"/><stop offset="0.8563" stop-color="#150000"/><stop offset="0.998" stop-color="#290000"/></linearGradient>
<linearGradient id="h161" x1="56" x2="310" gradientUnits="userSpaceOnUse"><stop offset="0.001969" stop-color="#160000"/><stop offset="0.08071" stop-color="#320000"/><stop offset="0.124" stop-color="#530000"/><stop offset="0.1555" stop-color="#7e0000"/><stop offset="0.2146" stop-color="#ec0000"/><stop offset="0.2303" stop-color="#ff0000"/><stop offset="0.2579" stop-color="#ff1000"/><stop offset="0.2894" stop-color="#ff0b00"/><stop offset="0.3091" stop-color="#fd0000"/><stop offset="0.3642" stop-color="#c20000"/><stop offset="0.4429" stop-color="#660000"/><stop offset="0.502" stop-color="#380000"/><stop offset="0.5689" stop-color="#1c0000"/><stop offset="0.6752" stop-color="#0e0000"/><stop offset="0.876" stop-color="#140000"/><stop offset="0.998" stop-color="#240000"/></linearGradient>
<linearGradient id="h162" x1="56" x2="310" gradientUnits="userSpaceOnUse"><stop offset="0.001969" stop-color="#140000"/><stop offset="0.08465" stop-color="#2e0000"/><stop offset="0.128" stop-color="#4c0000"/><stop offset="0.1594" stop-color="#750000"/><stop offset="0.2185" stop-color="#df0000"/><stop offset="0.2461" stop-color="#fd0000"/><stop offset="0.2815" stop-color="#ff0900"/><stop offset="0.3091" stop-color="#fd0000"/><stop offset="0.3563" stop-color="#d40000"/><stop offset="0.4587" stop-color="#620000"/><stop offset="0.5177" stop-color="#360000"/><stop offset="0.5886" stop-color="#1b0000"/><stop offset="0.6988" stop-color="#0e0000"/><stop offset="0.9075" stop-color="#150000"/><stop offset="0.998" stop-color="#200000"/></linearGradient>
<linearGradient id="h163" x1="56" x2="310" gradientUnits="userSpaceOnUse"><stop offset="0.001969" stop-color="#120000"/><stop offset="0.08858" stop-color="#2a0000"/><stop offset="0.1319" stop-color="#450000"/><stop offset="0.1634" stop-color="#6c0000"/><stop offset="0.2264" stop-color="#d80000"/><stop offset="0.2579" stop-color="#f70000"/><stop offset="0.2854" stop-color="#ff0200"/><stop offset="0.3169" stop-color="#f90000"/><stop offset="0.3642" stop-color="#d40000"/><stop offset="0.4744" stop-color="#5f0000"/><stop offset="0.5374" stop-color="#330000"/><stop offset="0.6122" stop-color="#190000"/><stop offset="0.7343" stop-color="#0d0000"/><stop offset="0.9429" stop-color="#160000"/><stop offset="0.998" stop-color="#1d0000"/></linearGradient>
<linearGradient id="h164" x1="56" x2="310" gradientUnits="userSpaceOnUse"><stop offset="0.001969" stop-color="#110000"/><stop offset="0.09252" stop-color="#250000"/><stop offset="0.1358" stop-color="#3e0000"/><stop offset="0.1673" stop-color="#640000"/><stop offset="0.2303" stop-color="#cb0000"/><stop offset="0.2618" stop-color="#ed0000"/><stop offset="0.2933" stop-color="#fa0000"/><stop offset="0.3287" stop-color="#f40000"/><stop offset="0.376" stop-color="#d10000"/><stop offset="0.4902" stop-color="#5d0000"/><stop offset="0.5531" stop-color="#330000"/><stop offset="0.628" stop-color="#190000"/><stop offset="0.7539" stop-color="#0d0000"/><stop offset="0.9665" stop-color="#160000"/><stop offset="0.998" stop-color="#190000"/></linearGradient>
<linearGradient id="h165" x1="56" x2="310" gradientUnits="userSpaceOnUse"><stop offset="0.001969" stop-color="#100000"/><stop offset="0.1004" stop-color="#230000"/><stop offset="0.1437" stop-color="#3c0000"/><stop offset="0.1791" stop-color="#680000"/><stop offset="0.2382" stop-color="#c40000"/><stop offset="0.2736" stop-color="#e80000"/><stop offset="0.3091" stop-color="#f60000"/><stop offset="0.3484" stop-color="#ec0000"/><stop offset="0.3996" stop-color="#c50000"/><stop offset="0.5059" stop-color="#5c0000"/><stop offset="0.5728" stop-color="#300000"/><stop offset="0.6516" stop-color="#170000"/><stop offset="0.7854" stop-color="#0d0000"/><stop offset="0.998" stop-color="#170000"/></linearGradient>
<linearGradient id="h166" x1="56" x2="310" gradientUnits="userSpaceOnUse"><stop offset="0.001969" stop-color="#0f0000"/><stop offset="0.1043" stop-color="#1f0000"/><stop offset="0.1476" stop-color="#360000"/><stop offset="0.1831" stop-color="#5f0000"/><stop offset="0.25" stop-color="#c30000"/><stop offset="0.2854" stop-color="#e40000"/><stop offset="0.3209" stop-color="#f20000"/><stop offset="0.3602" stop-color="#ea0000"/><stop offset="0.4114" stop-color="#c50000"/><stop offset="0.5256" stop-color="#580000"/><stop offset="0.5925" stop-color="#2f0000"/><stop offset="0.6752" stop-color="#160000"/><stop offset="0.8209" stop-color="#0d0000"/><stop offset="0.998" stop-color="#140000"/></linearGradient>
<linearGradient id="h167" x1="56" x2="310" gradientUnits="userSpaceOnUse"><stop offset="0.001969" stop-color="#0e0000"/><stop offset="0.1122" stop-color="#1d0000"/><stop offset="0.1516" stop-color="#310000"/><stop offset="0.187" stop-color="#580000"/><stop offset="0.2579" stop-color="#bc0000"/><stop offset="0.2972" stop-color="#e10000"/><stop offset="0.3366" stop-color="#ef0000"/><stop offset="0.376" stop-color="#e60000"/><stop offset="0.4272" stop-color="#c20000"/><stop offset="0.5413" stop-color="#570000"/><stop offset="0.6083" stop-color="#2f0000"/><stop offset="0.6909" stop-color="#160000"/><stop offset="0.8366" stop-color="#0d0000"/><stop offset="0.998" stop-color="#120000"/></linearGradient>
<linearGradient id="h168" x1="56" x2="310" gradientUnits="userSpaceOnUse"><stop offset="0.001969" stop-color="#0d0000"/><stop offset="0.1161" stop-color="#1a0000"/><stop offset="0.1594" stop-color="#300000"/><stop offset="0.1988" stop-color="#5b0000"/><stop offset="0.2697" stop-color="#ba0000"/><stop offset="0.313" stop-color="#e00000"/><stop offset="0.3524" stop-color="#ed0000"/><stop offset="0.3957" stop-color="#e20000"/><stop offset="0.4508" stop-color="#b80000"/><stop offset="0.5571" stop-color="#570000"/><stop offset="0.628" stop-color="#2d0000"/><stop offset="0.7146" stop-color="#150000"/><stop offset="0.872" stop-color="#0d0000"/><stop offset="0.998" stop-color="#110000"/></linearGradient>
<linearGradient id="h169" x1="56" x2="310" gradientUnits="userSpaceOnUse"><stop offset="0.001969" stop-color="#0d0000"/><stop offset="0.124" stop-color="#190000"/><stop offset="0.1673" stop-color="#2e0000"/><stop offset="0.2106" stop-color="#5e0000"/><stop offset="0.2854" stop-color="#bd0000"/><stop offset="0.3287" stop-color="#e00000"/><stop offset="0.3681" stop-color="#eb0000"/><stop offset="0.4114" stop-color="#e00000"/><stop offset="0.4705" stop-color="#b30000"/><stop offset="0.5728" stop-color="#570000"/><stop offset="0.6437" stop-color="#2d0000"/><stop offset="0.7303" stop-color="#160000"/><stop offset="0.8878" stop-color="#0d0000"/><stop offset="0.998" stop-color="#0f0000"/></linearGradient>
<linearGradient id="h170" x1="56" x2="310" gradientUnits="userSpaceOnUse"><stop offset="0.001969" stop-color="#0c0000"/><stop offset="0.128" stop-color="#160000"/><stop offset="0.1713" stop-color="#2a0000"/><stop offset="0.2146" stop-color="#560000"/><stop offset="0.3012" stop-color="#bf0000"/><stop offset="0.3445" stop-color="#e00000"/><stop offset="0.3839" stop-color="#ea0000"/><stop offset="0.4272" stop-color="#de0000"/><stop offset="0.4862" stop-color="#b10000"/><stop offset="0.5886" stop-color="#570000"/><stop offset="0.6594" stop-color="#2e0000"/><stop offset="0.7461" stop-color="#160000"/><stop offset="0.9035" stop-color="#0d0000"/><stop offset="0.998" stop-color="#0e0000"/></linearGradient>
<linearGradient id="h171" x1="56" x2="310" gradientUnits="userSpaceOnUse"><stop offset="0.001969" stop-color="#0c0000"/><stop offset="0.1358" stop-color="#150000"/><stop offset="0.1791" stop-color="#290000"/><stop offset="0.2264" stop-color="#580000"/><stop offset="0.3169" stop-color="#c00000"/><stop offset="0.3602" stop-color="#e00000"/><stop offset="0.3996" stop-color="#e90000"/><stop offset="0.4429" stop-color="#dc0000"/><stop offset="0.502" stop-color="#b00000"/><stop offset="0.6043" stop-color="#570000"/><stop offset="0.6752" stop-color="#2e0000"/><stop offset="0.7618" stop-color="#160000"/><stop offset="0.9193" stop-color="#0d0000"/><stop offset="0.998" stop-color="#0e0000"/></linearGradient>
<linearGradient id="h172" x1="56" x2="310" gradientUnits="userSpaceOnUse"><stop offset="0.001969" stop-color="#0b0000"/><stop offset="0.1398" stop-color="#140000"/><stop offset="0.187" stop-color="#290000"/><stop offset="0.2421" stop-color="#5d0000"/><stop offset="0.3327" stop-color="#c20000"/><stop offset="0.376" stop-color="#e00000"/><stop offset="0.4193" stop-color="#e80000"/><stop offset="0.4626" stop-color="#d90000"/><stop offset="0.5295" stop-color="#a40000"/><stop offset="0.624" stop-color="#540000"/><stop offset="0.6988" stop-color="#2b0000"/><stop offset="0.7894" stop-color="#150000"/><stop offset="0.9626" stop-color="#0d0000"/><stop offset="0.998" stop-color="#0d0000"/></linearGradient>
<linearGradient id="h173" x1="56" x2="310" gradientUnits="userSpaceOnUse"><stop offset="0.001969" stop-color="#0b0000"/><stop offset="0.1476" stop-color="#130000"/><stop offset="0.1949" stop-color="#280000"/><stop offset="0.25" stop-color="#590000"/><stop offset="0.3484" stop-color="#c30000"/><stop offset="0.3957" stop-color="#e20000"/><stop offset="0.439" stop-color="#e60000"/><stop offset="0.4862" stop-color="#d20000"/><stop offset="0.5728" stop-color="#8a0000"/><stop offset="0.6555" stop-color="#4a0000"/><stop offset="0.7303" stop-color="#260000"/><stop offset="0.8327" stop-color="#120000"/><stop offset="0.998" stop-color="#0d0000"/></linearGradient>
<linearGradient id="h174" x1="56" x2="310" gradientUnits="userSpaceOnUse"><stop offset="0.001969" stop-color="#0b0000"/><stop offset="0.1516" stop-color="#120000"/><stop offset="0.2028" stop-color="#270000"/><stop offset="0.2618" stop-color="#590000"/><stop offset="0.3642" stop-color="#c50000"/><stop offset="0.4114" stop-color="#e10000"/><stop offset="0.4547" stop-color="#e50000"/><stop offset="0.502" stop-color="#d10000"/><stop offset="0.6004" stop-color="#7f0000"/><stop offset="0.6791" stop-color="#450000"/><stop offset="0.7579" stop-color="#230000"/><stop offset="0.8681" stop-color="#110000"/><stop offset="0.998" stop-color="#0d0000"/></linearGradient>
<linearGradient id="h175" x1="56" x2="310" gradientUnits="userSpaceOnUse"><stop offset="0.001969" stop-color="#0b0000"/><stop offset="0.1594" stop-color="#110000"/><stop offset="0.2106" stop-color="#260000"/><stop offset="0.2697" stop-color="#550000"/><stop offset="0.3799" stop-color="#c60000"/><stop offset="0.4272" stop-color="#e10000"/><stop offset="0.4705" stop-color="#e40000"/><stop offset="0.5177" stop-color="#d00000"/><stop offset="0.6791" stop-color="#4f0000"/><stop offset="0.7579" stop-color="#290000"/><stop offset="0.8602" stop-color="#130000"/><stop offset="0.998" stop-color="#0d0000"/></linearGradient>
<linearGradient id="h176" x1="56" x2="310" gradientUnits="userSpaceOnUse"><stop offset="0.001969" stop-color="#0b0000"/><stop offset="0.1634" stop-color="#100000"/><stop offset="0.2185" stop-color="#240000"/><stop offset="0.2776" stop-color="#510000"/><stop offset="0.3917" stop-color="#c30000"/><stop offset="0.439" stop-color="#df0000"/><stop offset="0.4823" stop-color="#e30000"/><stop offset="0.5295" stop-color="#d10000"/><stop offset="0.6201" stop-color="#890000"/><stop offset="0.7067" stop-color="#490000"/><stop offset="0.7854" stop-color="#260000"/><stop offset="0.8917" stop-color="#120000"/><stop offset="0.998" stop-color="#0d0000"/></linearGradient>
<linearGradient id="h177" x1="56" x2="310" gradientUnits="userSpaceOnUse"><stop offset="0.001969" stop-color="#0b0000"/><stop offset="0.1713" stop-color="#100000"/><stop offset="0.2303" stop-color="#250000"/><stop offset="0.2933" stop-color="#540000"/><stop offset="0.4075" stop-color="#c40000"/><stop offset="0.4547" stop-color="#df0000"/><stop offset="0.498" stop-color="#e20000"/><stop offset="0.5492" stop-color="#cd0000"/><stop offset="0.7106" stop-color="#510000"/><stop offset="0.7894" stop-color="#2a0000"/><stop offset="0.8917" stop-color="#140000"/><stop offset="0.998" stop-color="#0d0000"/></linearGradient>
<linearGradient id="h178" x1="56" x2="310" gradientUnits="userSpaceOnUse"><stop offset="0.001969" stop-color="#0b0000"/><stop offset="0.1791" stop-color="#100000"/><stop offset="0.2421" stop-color="#260000"/><stop offset="0.3051" stop-color="#530000"/><stop offset="0.4232" stop-color="#c40000"/><stop offset="0.4705" stop-color="#de0000"/><stop offset="0.5138" stop-color="#e10000"/><stop offset="0.565" stop-color="#cc0000"/><stop offset="0.7264" stop-color="#510000"/><stop offset="0.8051" stop-color="#2b0000"/><stop offset="0.9075" stop-color="#150000"/><stop offset="0.998" stop-color="#0e0000"/></linearGradient>
<linearGradient id="h179" x1="56" x2="310" gradientUnits="userSpaceOnUse"><stop offset="0.001969" stop-color="#0b0000"/><stop offset="0.187" stop-color="#100000"/><stop offset="0.2539" stop-color="#260000"/><stop offset="0.3169" stop-color="#520000"/><stop offset="0.435" stop-color="#c20000"/><stop offset="0.4823" stop-color="#dc0000"/><stop offset="0.5295" stop-color="#df0000"/><stop offset="0.5807" stop-color="#ca0000"/><stop offset="0.7461" stop-color="#4f0000"/><stop offset="0.8287" stop-color="#290000"/><stop offset="0.935" stop-color="#140000"/><stop offset="0.998" stop-color="#0f0000"/></linearGradient>
<linearGradient id="h180" x1="56" x2="310" gradientUnits="userSpaceOnUse"><stop offset="0.001969" stop-color="#0b0000"/><stop offset="0.1949" stop-color="#100000"/><stop offset="0.2618" stop-color="#240000"/><stop offset="0.3248" stop-color="#4d0000"/><stop offset="0.4508" stop-color="#c20000"/><stop offset="0.498" stop-color="#db0000"/><stop offset="0.5453" stop-color="#de0000"/><stop offset="0.6004" stop-color="#c60000"/><stop offset="0.7618" stop-color="#500000"/><stop offset="0.8445" stop-color="#2a0000"/><stop offset="0.9508" stop-color="#140000"/><stop offset="0.998" stop-color="#100000"/></linearGradient>
<linearGradient id="h181" x1="56" x2="310" gradientUnits="userSpaceOnUse"><stop offset="0.001969" stop-color="#0b0000"/><stop offset="0.2028" stop-color="#0f0000"/><stop offset="0.2736" stop-color="#240000"/><stop offset="0.3366" stop-color="#4c0000"/><stop offset="0.4665" stop-color="#c10000"/><stop offset="0.5138" stop-color="#da0000"/><stop offset="0.561" stop-color="#dc0000"/><stop offset="0.6161" stop-color="#c50000"/><stop offset="0.7776" stop-color="#510000"/><stop offset="0.8642" stop-color="#2a0000"/><stop offset="0.9744" stop-color="#140000"/><stop offset="0.998" stop-color="#120000"/></linearGradient>
<linearGradient id="h182" x1="56" x2="310" gradientUnits="userSpaceOnUse"><stop offset="0.001969" stop-color="#0b0000"/><stop offset="0.2106" stop-color="#0f0000"/><stop offset="0.2854" stop-color="#240000"/><stop offset="0.3484" stop-color="#4a0000"/><stop offset="0.4823" stop-color="#c10000"/><stop offset="0.5335" stop-color="#d90000"/><stop offset="0.5807" stop-color="#d90000"/><stop offset="0.6358" stop-color="#c10000"/><stop offset="0.7972" stop-color="#500000"/><stop offset="0.8839" stop-color="#2a0000"/><stop offset="0.998" stop-color="#140000"/></linearGradient>
<linearGradient id="h183" x1="56" x2="310" gradientUnits="userSpaceOnUse"><stop offset="0.001969" stop-color="#0b0000"/><stop offset="0.2224" stop-color="#0f0000"/><stop offset="0.2972" stop-color="#230000"/><stop offset="0.3602" stop-color="#490000"/><stop offset="0.4941" stop-color="#bd0000"/><stop offset="0.5453" stop-color="#d60000"/><stop offset="0.5925" stop-color="#d80000"/><stop offset="0.6476" stop-color="#c20000"/><stop offset="0.8169" stop-color="#4e0000"/><stop offset="0.9075" stop-color="#290000"/><stop offset="0.998" stop-color="#160000"/></linearGradient>
<linearGradient id="h184" x1="56" x2="310" gradientUnits="userSpaceOnUse"><stop offset="0.001969" stop-color="#0b0000"/><stop offset="0.2343" stop-color="#100000"/><stop offset="0.3091" stop-color="#230000"/><stop offset="0.376" stop-color="#4a0000"/><stop offset="0.5098" stop-color="#bc0000"/><stop offset="0.561" stop-color="#d50000"/><stop offset="0.6122" stop-color="#d50000"/><stop offset="0.6713" stop-color="#bc0000"/><stop offset="0.8327" stop-color="#4f0000"/><stop offset="0.9232" stop-color="#2a0000"/><stop offset="0.998" stop-color="#190000"/></linearGradient>
<linearGradient id="h185" x1="56" x2="310" gradientUnits="userSpaceOnUse"><stop offset="0.001969" stop-color="#0b0000"/><stop offset="0.2421" stop-color="#0f0000"/><stop offset="0.3209" stop-color="#220000"/><stop offset="0.3878" stop-color="#480000"/><stop offset="0.5256" stop-color="#bb0000"/><stop offset="0.5768" stop-color="#d20000"/><stop offset="0.628" stop-color="#d30000"/><stop offset="0.687" stop-color="#ba0000"/><stop offset="0.8524" stop-color="#4e0000"/><stop offset="0.9469" stop-color="#290000"/><stop offset="0.998" stop-color="#1d0000"/></linearGradient>
<linearGradient id="h186" x1="56" x2="310" gradientUnits="userSpaceOnUse"><stop offset="0.001969" stop-color="#0b0000"/><stop offset="0.2539" stop-color="#0f0000"/><stop offset="0.3327" stop-color="#210000"/><stop offset="0.3996" stop-color="#460000"/><stop offset="0.5413" stop-color="#ba0000"/><stop offset="0.5925" stop-color="#d00000"/><stop offset="0.6437" stop-color="#d10000"/><stop offset="0.7067" stop-color="#b70000"/><stop offset="0.872" stop-color="#4d0000"/><stop offset="0.9665" stop-color="#290000"/><stop offset="0.998" stop-color="#210000"/></linearGradient>
<linearGradient id="h187" x1="56" x2="310" gradientUnits="userSpaceOnUse"><stop offset="0.001969" stop-color="#0b0000"/><stop offset="0.2657" stop-color="#0f0000"/><stop offset="0.3484" stop-color="#220000"/><stop offset="0.4154" stop-color="#470000"/><stop offset="0.5531" stop-color="#b50000"/><stop offset="0.6083" stop-color="#ce0000"/><stop offset="0.6594" stop-color="#ce0000"/><stop offset="0.7224" stop-color="#b50000"/><stop offset="0.8917" stop-color="#4d0000"/><stop offset="0.9902" stop-color="#280000"/><stop offset="0.998" stop-color="#260000"/></linearGradient>
<linearGradient id="h188" x1="56" x2="310" gradientUnits="userSpaceOnUse"><stop offset="0.001969" stop-color="#0b0000"/><stop offset="0.2815" stop-color="#0f0000"/><stop offset="0.3642" stop-color="#230000"/><stop offset="0.435" stop-color="#4a0000"/><stop offset="0.5689" stop-color="#b30000"/><stop offset="0.624" stop-color="#cb0000"/><stop offset="0.6791" stop-color="#cb0000"/><stop offset="0.7461" stop-color="#af0000"/><stop offset="0.9075" stop-color="#4e0000"/><stop offset="0.998" stop-color="#2b0000"/></linearGradient>
<linearGradient id="h189" x1="56" x2="310" gradientUnits="userSpaceOnUse"><stop offset="0.001969" stop-color="#0b0000"/><stop offset="0.2933" stop-color="#0f0000"/><stop offset="0.376" stop-color="#220000"/><stop offset="0.4469" stop-color="#480000"/><stop offset="0.5846" stop-color="#b10000"/><stop offset="0.6398" stop-color="#c80000"/><stop offset="0.6949" stop-color="#c80000"/><stop offset="0.7618" stop-color="#ae0000"/><stop offset="0.9311" stop-color="#4b0000"/><stop offset="0.998" stop-color="#310000"/></linearGradient>
<linearGradient id="h190" x1="56" x2="310" gradientUnits="userSpaceOnUse"><stop offset="0.001969" stop-color="#0b0000"/><stop offset="0.3051" stop-color="#0f0000"/><stop offset="0.3917" stop-color="#230000"/><stop offset="0.4626" stop-color="#480000"/><stop offset="0.6004" stop-color="#af0000"/><stop offset="0.6594" stop-color="#c60000"/><stop offset="0.7146" stop-color="#c40000"/><stop offset="0.7854" stop-color="#a80000"/><stop offset="0.9508" stop-color="#4b0000"/><stop offset="0.998" stop-color="#380000"/></linearGradient>
<linearGradient id="h191" x1="56" x2="310" gradientUnits="userSpaceOnUse"><stop offset="0.001969" stop-color="#0b0000"/><stop offset="0.3169" stop-color="#0f0000"/><stop offset="0.4035" stop-color="#220000"/><stop offset="0.4783" stop-color="#480000"/><stop offset="0.6161" stop-color="#ac0000"/><stop offset="0.6752" stop-color="#c20000"/><stop offset="0.7343" stop-color="#c10000"/><stop offset="0.8091" stop-color="#a20000"/><stop offset="0.9705" stop-color="#4a0000"/><stop offset="0.998" stop-color="#3f0000"/></linearGradient>
<linearGradient id="h192" x1="56" x2="310" gradientUnits="userSpaceOnUse"><stop offset="0.001969" stop-color="#0b0000"/><stop offset="0.3327" stop-color="#0f0000"/><stop offset="0.4193" stop-color="#220000"/><stop offset="0.4941" stop-color="#480000"/><stop offset="0.6319" stop-color="#a90000"/><stop offset="0.6909" stop-color="#bf0000"/><stop offset="0.75" stop-color="#be0000"/><stop offset="0.8248" stop-color="#a10000"/><stop offset="0.9902" stop-color="#4a0000"/><stop offset="0.998" stop-color="#470000"/></linearGradient>
<linearGradient id="h193" x1="56" x2="310" gradientUnits="userSpaceOnUse"><stop offset="0.001969" stop-color="#0b0000"/><stop offset="0.3445" stop-color="#0f0000"/><stop offset="0.435" stop-color="#220000"/><stop offset="0.5138" stop-color="#4b0000"/><stop offset="0.6476" stop-color="#a60000"/><stop offset="0.7067" stop-color="#bb0000"/><stop offset="0.7657" stop-color="#ba0000"/><stop offset="0.8406" stop-color="#9f0000"/><stop offset="0.998" stop-color="#4f0000"/></linearGradient>
<linearGradient id="h194" x1="56" x2="310" gradientUnits="userSpaceOnUse"><stop offset="0.001969" stop-color="#0b0000"/><stop offset="0.3563" stop-color="#0f0000"/><stop offset="0.4469" stop-color="#210000"/><stop offset="0.5256" stop-color="#480000"/><stop offset="0.6634" stop-color="#a30000"/><stop offset="0.7264" stop-color="#b80000"/><stop offset="0.7894" stop-color="#b50000"/><stop offset="0.872" stop-color="#960000"/><stop offset="0.998" stop-color="#570000"/></linearGradient>
<linearGradient id="h195" x1="56" x2="310" gradientUnits="userSpaceOnUse"><stop offset="0.001969" stop-color="#0b0000"/><stop offset="0.372" stop-color="#0f0000"/><stop offset="0.4626" stop-color="#210000"/><stop offset="0.5453" stop-color="#490000"/><stop offset="0.6791" stop-color="#9f0000"/><stop offset="0.7421" stop-color="#b40000"/><stop offset="0.8051" stop-color="#b20000"/><stop offset="0.8878" stop-color="#950000"/><stop offset="0.998" stop-color="#5f0000"/></linearGradient>
<linearGradient id="h196" x1="56" x2="310" gradientUnits="userSpaceOnUse"><stop offset="0.001969" stop-color="#0b0000"/><stop offset="0.3839" stop-color="#0f0000"/><stop offset="0.4783" stop-color="#210000"/><stop offset="0.561" stop-color="#490000"/><stop offset="0.6988" stop-color="#9d0000"/><stop offset="0.7657" stop-color="#b10000"/><stop offset="0.8327" stop-color="#ac0000"/><stop offset="0.9272" stop-color="#880000"/><stop offset="0.998" stop-color="#660000"/></linearGradient>
<linearGradient id="h197" x1="56" x2="310" gradientUnits="userSpaceOnUse"><stop offset="0.001969" stop-color="#0b0000"/><stop offset="0.3996" stop-color="#0f0000"/><stop offset="0.4941" stop-color="#210000"/><stop offset="0.5807" stop-color="#4a0000"/><stop offset="0.7146" stop-color="#990000"/><stop offset="0.7815" stop-color="#ac0000"/><stop offset="0.8484" stop-color="#a90000"/><stop offset="0.9469" stop-color="#850000"/><stop offset="0.998" stop-color="#6e0000"/></linearGradient>
<linearGradient id="h198" x1="56" x2="310" gradientUnits="userSpaceOnUse"><stop offset="0.001969" stop-color="#0b0000"/><stop offset="0.4114" stop-color="#0f0000"/><stop offset="0.5098" stop-color="#210000"/><stop offset="0.6004" stop-color="#4b0000"/><stop offset="0.7303" stop-color="#950000"/><stop offset="0.7972" stop-color="#a80000"/><stop offset="0.8681" stop-color="#a40000"/><stop offset="0.9705" stop-color="#810000"/><stop offset="0.998" stop-color="#750000"/></linearGradient>
<linearGradient id="h199" x1="56" x2="310" gradientUnits="userSpaceOnUse"><stop offset="0.001969" stop-color="#0b0000"/><stop offset="0.4272" stop-color="#0f0000"/><stop offset="0.5256" stop-color="#210000"/><stop offset="0.6161" stop-color="#490000"/><stop offset="0.75" stop-color="#920000"/><stop offset="0.8209" stop-color="#a40000"/><stop offset="0.8957" stop-color="#9e0000"/><stop offset="0.998" stop-color="#7b0000"/></linearGradient>
<linearGradient id="h200" x1="56" x2="310" gradientUnits="userSpaceOnUse"><stop offset="0.001969" stop-color="#0b0000"/><stop offset="0.4429" stop-color="#0f0000"/><stop offset="0.5453" stop-color="#220000"/><stop offset="0.6437" stop-color="#4e0000"/><stop offset="0.7657" stop-color="#8e0000"/><stop offset="0.8366" stop-color="#9f0000"/><stop offset="0.9114" stop-color="#9a0000"/><stop offset="0.998" stop-color="#800000"/></linearGradient>
<linearGradient id="h201" x1="56" x2="310" gradientUnits="userSpaceOnUse"><stop offset="0.001969" stop-color="#0b0000"/><stop offset="0.4587" stop-color="#0f0000"/><stop offset="0.561" stop-color="#220000"/><stop offset="0.6594" stop-color="#4c0000"/><stop offset="0.7854" stop-color="#8b0000"/><stop offset="0.8602" stop-color="#9b0000"/><stop offset="0.939" stop-color="#940000"/><stop offset="0.998" stop-color="#830000"/></linearGradient>
<linearGradient id="h202" x1="56" x2="310" gradientUnits="userSpaceOnUse"><stop offset="0.001969" stop-color="#0b0000"/><stop offset="0.4705" stop-color="#0f0000"/><stop offset="0.5768" stop-color="#210000"/><stop offset="0.6831" stop-color="#4e0000"/><stop offset="0.8051" stop-color="#870000"/><stop offset="0.8839" stop-color="#960000"/><stop offset="0.9665" stop-color="#8e0000"/><stop offset="0.998" stop-color="#860000"/></linearGradient>
<linearGradient id="h203" x1="56" x2="310" gradientUnits="userSpaceOnUse"><stop offset="0.001969" stop-color="#0b0000"/><stop offset="0.4862" stop-color="#0f0000"/><stop offset="0.5925" stop-color="#210000"/><stop offset="0.7028" stop-color="#4d0000"/><stop offset="0.8248" stop-color="#830000"/><stop offset="0.9035" stop-color="#920000"/><stop offset="0.9902" stop-color="#890000"/><stop offset="0.998" stop-color="#870000"/></linearGradient>
<linearGradient id="h204" x1="56" x2="310" gradientUnits="userSpaceOnUse"><stop offset="0.001969" stop-color="#0b0000"/><stop offset="0.502" stop-color="#0f0000"/><stop offset="0.6122" stop-color="#210000"/><stop offset="0.7303" stop-color="#500000"/><stop offset="0.8484" stop-color="#810000"/><stop offset="0.9311" stop-color="#8d0000"/><stop offset="0.998" stop-color="#860000"/></linearGradient>
<linearGradient id="h205" x1="56" x2="310" gradientUnits="userSpaceOnUse"><stop offset="0.001969" stop-color="#0b0000"/><stop offset="0.5177" stop-color="#0f0000"/><stop offset="0.6319" stop-color="#220000"/><stop offset="0.7618" stop-color="#540000"/><stop offset="0.872" stop-color="#7d0000"/><stop offset="0.9587" stop-color="#870000"/><stop offset="0.998" stop-color="#840000"/></linearGradient>
<linearGradient id="h206" x1="56" x2="310" gradientUnits="userSpaceOnUse"><stop offset="0.001969" stop-color="#0b0000"/><stop offset="0.5335" stop-color="#0f0000"/><stop offset="0.6476" stop-color="#210000"/><stop offset="0.7854" stop-color="#540000"/><stop offset="0.8957" stop-color="#7a0000"/><stop offset="0.9823" stop-color="#820000"/><stop offset="0.998" stop-color="#810000"/></linearGradient>
<linearGradient id="h207" x1="56" x2="310" gradientUnits="userSpaceOnUse"><stop offset="0.001969" stop-color="#0b0000"/><stop offset="0.5531" stop-color="#0f0000"/><stop offset="0.6713" stop-color="#220000"/><stop offset="0.9035" stop-color="#730000"/><stop offset="0.9941" stop-color="#7d0000"/><stop offset="0.998" stop-color="#7d0000"/></linearGradient>
<linearGradient id="h208" x1="56" x2="310" gradientUnits="userSpaceOnUse"><stop offset="0.001969" stop-color="#0b0000"/><stop offset="0.5689" stop-color="#0f0000"/><stop offset="0.6909" stop-color="#220000"/><stop offset="0.9232" stop-color="#6e0000"/><stop offset="0.998" stop-color="#770000"/></linearGradient>
<linearGradient id="h209" x1="56" x2="310" gradientUnits="userSpaceOnUse"><stop offset="0.001969" stop-color="#0b0000"/><stop offset="0.5846" stop-color="#0f0000"/><stop offset="0.7106" stop-color="#220000"/><stop offset="0.9429" stop-color="#690000"/><stop offset="0.998" stop-color="#710000"/></linearGradient>
<linearGradient id="h210" x1="56" x2="310" gradientUnits="userSpaceOnUse"><stop offset="0.001969" stop-color="#0b0000"/><stop offset="0.6004" stop-color="#0f0000"/><stop offset="0.7303" stop-color="#220000"/><stop offset="0.9626" stop-color="#640000"/><stop offset="0.998" stop-color="#6a0000"/></linearGradient>
<linearGradient id="h211" x1="56" x2="310" gradientUnits="userSpaceOnUse"><stop offset="0.001969" stop-color="#0b0000"/><stop offset="0.6201" stop-color="#0f0000"/><stop offset="0.7539" stop-color="#220000"/><stop offset="0.9823" stop-color="#600000"/><stop offset="0.998" stop-color="#620000"/></linearGradient>
<linearGradient id="h212" x1="56" x2="310" gradientUnits="userSpaceOnUse"><stop offset="0.001969" stop-color="#0b0000"/><stop offset="0.6398" stop-color="#0f0000"/><stop offset="0.7776" stop-color="#220000"/><stop offset="0.998" stop-color="#5a0000"/></linearGradient>
<linearGradient id="h213" x1="56" x2="310" gradientUnits="userSpaceOnUse"><stop offset="0.001969" stop-color="#0b0000"/><stop offset="0.6555" stop-color="#0f0000"/><stop offset="0.8012" stop-color="#230000"/><stop offset="0.998" stop-color="#520000"/></linearGradient>
<linearGradient id="h214" x1="56" x2="310" gradientUnits="userSpaceOnUse"><stop offset="0.001969" stop-color="#0b0000"/><stop offset="0.6752" stop-color="#0f0000"/><stop offset="0.8287" stop-color="#230000"/><stop offset="0.998" stop-color="#4a0000"/></linearGradient>
<linearGradient id="h215" x1="56" x2="310" gradientUnits="userSpaceOnUse"><stop offset="0.001969" stop-color="#0b0000"/><stop offset="0.6949" stop-color="#0f0000"/><stop offset="0.8563" stop-color="#240000"/><stop offset="0.998" stop-color="#420000"/></linearGradient>
<linearGradient id="h216" x1="56" x2="310" gradientUnits="userSpaceOnUse"><stop offset="0.001969" stop-color="#0b0000"/><stop offset="0.7146" stop-color="#0f0000"/><stop offset="0.8839" stop-color="#240000"/><stop offset="0.998" stop-color="#3b0000"/></linearGradient>
<linearGradient id="h217" x1="56" x2="310" gradientUnits="userSpaceOnUse"><stop offset="0.001969" stop-color="#0b0000"/><stop offset="0.7343" stop-color="#0f0000"/><stop offset="0.9154" stop-color="#250000"/><stop offset="0.998" stop-color="#340000"/></linearGradient>
<linearGradient id="h218" x1="56" x2="310" gradientUnits="userSpaceOnUse"><stop offset="0.001969" stop-color="#0b0000"/><stop offset="0.7539" stop-color="#0f0000"/><stop offset="0.9469" stop-color="#250000"/><stop offset="0.998" stop-color="#2e0000"/></linearGradient>
<linearGradient id="h219" x1="56" x2="310" gradientUnits="userSpaceOnUse"><stop offset="0.001969" stop-color="#0b0000"/><stop offset="0.7776" stop-color="#0f0000"/><stop offset="0.9902" stop-color="#270000"/><stop offset="0.998" stop-color="#280000"/></linearGradient>
<linearGradient id="h220" x1="56" x2="310" gradientUnits="userSpaceOnUse"><stop offset="0.001969" stop-color="#0b0000"/><stop offset="0.7972" stop-color="#0f0000"/><stop offset="0.998" stop-color="#230000"/></linearGradient>
<linearGradient id="h221" x1="56" x2="310" gradientUnits="userSpaceOnUse"><stop offset="0.001969" stop-color="#0b0000"/><stop offset="0.8209" stop-color="#0f0000"/><stop offset="0.998" stop-color="#1f0000"/></linearGradient>
<linearGradient id="h222" x1="56" x2="310" gradientUnits="userSpaceOnUse"><stop offset="0.001969" stop-color="#0b0000"/><stop offset="0.8445" stop-color="#0f0000"/><stop offset="0.998" stop-color="#1b0000"/></linearGradient>
<linearGradient id="h223" x1="56" x2="310" gradientUnits="userSpaceOnUse"><stop offset="0.001969" stop-color="#0b0000"/><stop offset="0.872" stop-color="#0f0000"/><stop offset="0.998" stop-color="#180000"/></linearGradient>
<linearGradient id="h224" x1="56" x2="310" gradientUnits="userSpaceOnUse"><stop offset="0.001969" stop-color="#0b0000"/><stop offset="0.8957" stop-color="#0f0000"/><stop offset="0.998" stop-color="#150000"/></linearGradient>
<linearGradient id="h225" x1="56" x2="310" gradientUnits="userSpaceOnUse"><stop offset="0.001969" stop-color="#0b0000"/><stop offset="0.9232" stop-color="#0f0000"/><stop offset="0.998" stop-color="#130000"/></linearGradient>
<linearGradient id="h226" x1="56" x2="310" gradientUnits="userSpaceOnUse"><stop offset="0.001969" stop-color="#0b0000"/><stop offset="0.9508" stop-color="#0f0000"/><stop offset="0.998" stop-color="#110000"/></linearGradient>
<linearGradient id="h227" x1="56" x2="310" gradientUnits="userSpaceOnUse"><stop offset="0.001969" stop-color="#0b0000"/><stop offset="0.9823" stop-color="#0f0000"/><stop offset="0.998" stop-color="#0f0000"/></linearGradient>
<clipPath id="cpb"><rect x="390.0" y="47.4" width="252.5" height="239.6"/></clipPath>
</defs>
<text x="25.50" y="28.00" font-size="16.00" text-anchor="start" fill="#000" font-weight="bold" font-family='"Liberation Sans", sans-serif' font-style="normal" >a</text>
<rect x="71.0" y="4.5" width="223.0" height="20.0" fill="url(#cb)" stroke="#000" stroke-opacity="0.45" stroke-width="1"/>
<line x1="182.50" y1="4.50" x2="182.50" y2="7.00" stroke="#333" stroke-width="1.00" />
<line x1="182.50" y1="24.50" x2="182.50" y2="22.00" stroke="#333" stroke-width="1.00" />
<text x="71.00" y="43.60" font-size="17.00" text-anchor="middle" fill="#000" font-weight="normal" font-family='"Liberation Sans", sans-serif' font-style="normal" stroke="#000" stroke-width="0.3" >0</text>
<text x="182.50" y="43.60" font-size="17.00" text-anchor="middle" fill="#000" font-weight="normal" font-family='"Liberation Sans", sans-serif' font-style="normal" stroke="#000" stroke-width="0.3" >0.5</text>
<text x="292.50" y="43.60" font-size="17.00" text-anchor="middle" fill="#000" font-weight="normal" font-family='"Liberation Sans", sans-serif' font-style="normal" stroke="#000" stroke-width="0.3" >1</text>
<rect x="56" y="47" width="254" height="241" fill="#0a0000"/>
<rect x="56" y="59" width="254" height="1" fill="url(#h12)"/>
<rect x="56" y="60" width="254" height="1" fill="url(#h13)"/>
<rect x="56" y="61" width="254" height="1" fill="url(#h14)"/>
<rect x="56" y="62" width="254" height="1" fill="url(#h15)"/>
<rect x="56" y="63" width="254" height="1" fill="url(#h16)"/>
<rect x="56" y="64" width="254" height="1" fill="url(#h17)"/>
<rect x="56" y="65" width="254" height="1" fill="url(#h18)"/>
<rect x="56" y="66" width="254" height="1" fill="url(#h19)"/>
<rect x="56" y="67" width="254" height="1" fill="url(#h20)"/>
<rect x="56" y="68" width="254" height="1" fill="url(#h21)"/>
<rect x="56" y="69" width="254" height="1" fill="url(#h22)"/>
<rect x="56" y="70" width="254" height="1" fill="url(#h23)"/>
<rect x="56" y="71" width="254" height="1" fill="url(#h24)"/>
<rect x="56" y="72" width="254" height="1" fill="url(#h25)"/>
<rect x="56" y="73" width="254" height="1" fill="url(#h26)"/>
<rect x="56" y="74" width="254" height="1" fill="url(#h27)"/>
<rect x="56" y="75" width="254" height="1" fill="url(#h28)"/>
<rect x="56" y="76" width="254" height="1" fill="url(#h29)"/>
<rect x="56" y="77" width="254" height="1" fill="url(#h30)"/>
<rect x="56" y="78" width="254" height="1" fill="url(#h31)"/>
<rect x="56" y="79" width="254" height="1" fill="url(#h32)"/>
<rect x="56" y="80" width="254" height="1" fill="url(#h33)"/>
<rect x="56" y="81" width="254" height="1" fill="url(#h34)"/>
<rect x="56" y="82" width="254" height="1" fill="url(#h35)"/>
<rect x="56" y="83" width="254" height="1" fill="url(#h36)"/>
<rect x="56" y="84" width="254" height="1" fill="url(#h37)"/>
<rect x="56" y="85" width="254" height="1" fill="url(#h38)"/>
<rect x="56" y="86" width="254" height="1" fill="url(#h39)"/>
<rect x="56" y="87" width="254" height="1" fill="url(#h40)"/>
<rect x="56" y="88" width="254" height="1" fill="url(#h41)"/>
<rect x="56" y="89" width="254" height="1" fill="url(#h42)"/>
<rect x="56" y="90" width="254" height="1" fill="url(#h43)"/>
<rect x="56" y="91" width="254" height="1" fill="url(#h44)"/>
<rect x="56" y="92" width="254" height="1" fill="url(#h45)"/>
<rect x="56" y="93" width="254" height="1" fill="url(#h46)"/>
<rect x="56" y="94" width="254" height="1" fill="url(#h47)"/>
<rect x="56" y="95" width="254" height="1" fill="url(#h48)"/>
<rect x="56" y="96" width="254" height="1" fill="url(#h49)"/>
<rect x="56" y="97" width="254" height="1" fill="url(#h50)"/>
<rect x="56" y="98" width="254" height="1" fill="url(#h51)"/>
<rect x="56" y="99" width="254" height="1" fill="url(#h52)"/>
<rect x="56" y="100" width="254" height="1" fill="url(#h53)"/>
<rect x="56" y="101" width="254" height="1" fill="url(#h54)"/>
<rect x="56" y="102" width="254" height="1" fill="url(#h55)"/>
<rect x="56" y="103" width="254" height="1" fill="url(#h56)"/>
<rect x="56" y="104" width="254" height="1" fill="url(#h57)"/>
<rect x="56" y="105" width="254" height="1" fill="url(#h58)"/>
<rect x="56" y="106" width="254" height="1" fill="url(#h59)"/>
<rect x="56" y="107" width="254" height="1" fill="url(#h60)"/>
<rect x="56" y="108" width="254" height="1" fill="url(#h61)"/>
<rect x="56" y="109" width="254" height="1" fill="url(#h62)"/>
<rect x="56" y="110" width="254" height="1" fill="url(#h63)"/>
<rect x="56" y="111" width="254" height="1" fill="url(#h64)"/>
<rect x="56" y="112" width="254" height="1" fill="url(#h65)"/>
<rect x="56" y="113" width="254" height="1" fill="url(#h66)"/>
<rect x="56" y="114" width="254" height="1" fill="url(#h67)"/>
<rect x="56" y="115" width="254" height="1" fill="url(#h68)"/>
<rect x="56" y="116" width="254" height="1" fill="url(#h69)"/>
<rect x="56" y="117" width="254" height="1" fill="url(#h70)"/>
<rect x="56" y="118" width="254" height="1" fill="url(#h71)"/>
<rect x="56" y="119" width="254" height="1" fill="url(#h72)"/>
<rect x="56" y="120" width="254" height="1" fill="url(#h73)"/>
<rect x="56" y="121" width="254" height="1" fill="url(#h74)"/>
<rect x="56" y="122" width="254" height="1" fill="url(#h75)"/>
<rect x="56" y="123" width="254" height="1" fill="url(#h76)"/>
<rect x="56" y="124" width="254" height="1" fill="url(#h77)"/>
<rect x="56" y="125" width="254" height="1" fill="url(#h78)"/>
<rect x="56" y="126" width="254" height="1" fill="url(#h79)"/>
<rect x="56" y="127" width="254" height="1" fill="url(#h80)"/>
<rect x="56" y="128" width="254" height="1" fill="url(#h81)"/>
<rect x="56" y="129" width="254" height="1" fill="url(#h82)"/>
<rect x="56" y="130" width="254" height="1" fill="url(#h83)"/>
<rect x="56" y="131" width="254" height="1" fill="url(#h84)"/>
<rect x="56" y="132" width="254" height="1" fill="url(#h85)"/>
<rect x="56" y="133" width="254" height="1" fill="url(#h86)"/>
<rect x="56" y="134" width="254" height="1" fill="url(#h87)"/>
<rect x="56" y="135" width="254" height="1" fill="url(#h88)"/>
<rect x="56" y="136" width="254" height="1" fill="url(#h89)"/>
<rect x="56" y="137" width="254" height="1" fill="url(#h90)"/>
<rect x="56" y="138" width="254" height="1" fill="url(#h91)"/>
<rect x="56" y="139" width="254" height="1" fill="url(#h92)"/>
<rect x="56" y="140" width="254" height="1" fill="url(#h93)"/>
<rect x="56" y="141" width="254" height="1" fill="url(#h94)"/>
<rect x="56" y="142" width="254" height="1" fill="url(#h95)"/>
<rect x="56" y="143" width="254" height="1" fill="url(#h96)"/>
<rect x="56" y="144" width="254" height="1" fill="url(#h97)"/>
<rect x="56" y="145" width="254" height="1" fill="url(#h98)"/>
<rect x="56" y="146" width="254" height="1" fill="url(#h99)"/>
<rect x="56" y="147" width="254" height="1" fill="url(#h100)"/>
<rect x="56" y="148" width="254" height="1" fill="url(#h101)"/>
<rect x="56" y="149" width="254" height="1" fill="url(#h102)"/>
<rect x="56" y="150" width="254" height="1" fill="url(#h103)"/>
<rect x="56" y="151" width="254" height="1" fill="url(#h104)"/>
<rect x="56" y="152" width="254" height="1" fill="url(#h105)"/>
<rect x="56" y="153" width="254" height="1" fill="url(#h106)"/>
<rect x="56" y="154" width="254" height="1" fill="url(#h107)"/>
<rect x="56" y="155" width="254" height="1" fill="url(#h108)"/>
<rect x="56" y="156" width="254" height="1" fill="url(#h109)"/>
<rect x="56" y="157" width="254" height="1" fill="url(#h110)"/>
<rect x="56" y="158" width="254" height="1" fill="url(#h111)"/>
<rect x="56" y="159" width="254" height="1" fill="url(#h112)"/>
<rect x="56" y="160" width="254" height="1" fill="url(#h113)"/>
<rect x="56" y="161" width="254" height="1" fill="url(#h114)"/>
<rect x="56" y="162" width="254" height="1" fill="url(#h115)"/>
<rect x="56" y="163" width="254" height="1" fill="url(#h116)"/>
<rect x="56" y="164" width="254" height="1" fill="url(#h117)"/>
<rect x="56" y="165" width="254" height="1" fill="url(#h118)"/>
<rect x="56" y="166" width="254" height="1" fill="url(#h119)"/>
<rect x="56" y="167" width="254" height="1" fill="url(#h120)"/>
<rect x="56" y="168" width="254" height="1" fill="url(#h121)"/>
<rect x="56" y="169" width="254" height="1" fill="url(#h122)"/>
<rect x="56" y="170" width="254" height="1" fill="url(#h123)"/>
<rect x="56" y="171" width="254" height="1" fill="url(#h124)"/>
<rect x="56" y="172" width="254" height="1" fill="url(#h125)"/>
<rect x="56" y="173" width="254" height="1" fill="url(#h126)"/>
<rect x="56" y="174" width="254" height="1" fill="url(#h127)"/>
<rect x="56" y="175" width="254" height="1" fill="url(#h128)"/>
<rect x="56" y="176" width="254" height="1" fill="url(#h129)"/>
<rect x="56" y="177" width="254" height="1" fill="url(#h130)"/>
<rect x="56" y="178" width="254" height="1" fill="url(#h131)"/>
<rect x="56" y="179" width="254" height="1" fill="url(#h132)"/>
<rect x="56" y="180" width="254" height="1" fill="url(#h133)"/>
<rect x="56" y="181" width="254" height="1" fill="url(#h134)"/>
<rect x="56" y="182" width="254" height="1" fill="url(#h135)"/>
<rect x="56" y="183" width="254" height="1" fill="url(#h136)"/>
<rect x="56" y="184" width="254" height="1" fill="url(#h137)"/>
<rect x="56" y="185" width="254" height="1" fill="url(#h138)"/>
<rect x="56" y="186" width="254" height="1" fill="url(#h139)"/>
<rect x="56" y="187" width="254" height="1" fill="url(#h140)"/>
<rect x="56" y="188" width="254" height="1" fill="url(#h141)"/>
<rect x="56" y="189" width="254" height="1" fill="url(#h142)"/>
<rect x="56" y="190" width="254" height="1" fill="url(#h143)"/>
<rect x="56" y="191" width="254" height="1" fill="url(#h144)"/>
<rect x="56" y="192" width="254" height="1" fill="url(#h145)"/>
<rect x="56" y="193" width="254" height="1" fill="url(#h146)"/>
<rect x="56" y="194" width="254" height="1" fill="url(#h147)"/>
<rect x="56" y="195" width="254" height="1" fill="url(#h148)"/>
<rect x="56" y="196" width="254" height="1" fill="url(#h149)"/>
<rect x="56" y="197" width="254" height="1" fill="url(#h150)"/>
<rect x="56" y="198" width="254" height="1" fill="url(#h151)"/>
<rect x="56" y="199" width="254" height="1" fill="url(#h152)"/>
<rect x="56" y="200" width="254" height="1" fill="url(#h153)"/>
<rect x="56" y="201" width="254" height="1" fill="url(#h154)"/>
<rect x="56" y="202" width="254" height="1" fill="url(#h155)"/>
<rect x="56" y="203" width="254" height="1" fill="url(#h156)"/>
<rect x="56" y="204" width="254" height="1" fill="url(#h157)"/>
<rect x="56" y="205" width="254" height="1" fill="url(#h158)"/>
<rect x="56" y="206" width="254" height="1" fill="url(#h159)"/>
<rect x="56" y="207" width="254" height="1" fill="url(#h160)"/>
<rect x="56" y="208" width="254" height="1" fill="url(#h161)"/>
<rect x="56" y="209" width="254" height="1" fill="url(#h162)"/>
<rect x="56" y="210" width="254" height="1" fill="url(#h163)"/>
<rect x="56" y="211" width="254" height="1" fill="url(#h164)"/>
<rect x="56" y="212" width="254" height="1" fill="url(#h165)"/>
<rect x="56" y="213" width="254" height="1" fill="url(#h166)"/>
<rect x="56" y="214" width="254" height="1" fill="url(#h167)"/>
<rect x="56" y="215" width="254" height="1" fill="url(#h168)"/>
<rect x="56" y="216" width="254" height="1" fill="url(#h169)"/>
<rect x="56" y="217" width="254" height="1" fill="url(#h170)"/>
<rect x="56" y="218" width="254" height="1" fill="url(#h171)"/>
<rect x="56" y="219" width="254" height="1" fill="url(#h172)"/>
<rect x="56" y="220" width="254" height="1" fill="url(#h173)"/>
<rect x="56" y="221" width="254" height="1" fill="url(#h174)"/>
<rect x="56" y="222" width="254" height="1" fill="url(#h175)"/>
<rect x="56" y="223" width="254" height="1" fill="url(#h176)"/>
<rect x="56" y="224" width="254" height="1" fill="url(#h177)"/>
<rect x="56" y="225" width="254" height="1" fill="url(#h178)"/>
<rect x="56" y="226" width="254" height="1" fill="url(#h179)"/>
<rect x="56" y="227" width="254" height="1" fill="url(#h180)"/>
<rect x="56" y="228" width="254" height="1" fill="url(#h181)"/>
<rect x="56" y="229" width="254" height="1" fill="url(#h182)"/>
<rect x="56" y="230" width="254" height="1" fill="url(#h183)"/>
<rect x="56" y="231" width="254" height="1" fill="url(#h184)"/>
<rect x="56" y="232" width="254" height="1" fill="url(#h185)"/>
<rect x="56" y="233" width="254" height="1" fill="url(#h186)"/>
<rect x="56" y="234" width="254" height="1" fill="url(#h187)"/>
<rect x="56" y="235" width="254" height="1" fill="url(#h188)"/>
<rect x="56" y="236" width="254" height="1" fill="url(#h189)"/>
<rect x="56" y="237" width="254" height="1" fill="url(#h190)"/>
<rect x="56" y="238" width="254" height="1" fill="url(#h191)"/>
<rect x="56" y="239" width="254" height="1" fill="url(#h192)"/>
<rect x="56" y="240" width="254" height="1" fill="url(#h193)"/>
<rect x="56" y="241" width="254" height="1" fill="url(#h194)"/>
<rect x="56" y="242" width="254" height="1" fill="url(#h195)"/>
<rect x="56" y="243" width="254" height="1" fill="url(#h196)"/>
<rect x="56" y="244" width="254" height="1" fill="url(#h197)"/>
<rect x="56" y="245" width="254" height="1" fill="url(#h198)"/>
<rect x="56" y="246" width="254" height="1" fill="url(#h199)"/>
<rect x="56" y="247" width="254" height="1" fill="url(#h200)"/>
<rect x="56" y="248" width="254" height="1" fill="url(#h201)"/>
<rect x="56" y="249" width="254" height="1" fill="url(#h202)"/>
<rect x="56" y="250" width="254" height="1" fill="url(#h203)"/>
<rect x="56" y="251" width="254" height="1" fill="url(#h204)"/>
<rect x="56" y="252" width="254" height="1" fill="url(#h205)"/>
<rect x="56" y="253" width="254" height="1" fill="url(#h206)"/>
<rect x="56" y="254" width="254" height="1" fill="url(#h207)"/>
<rect x="56" y="255" width="254" height="1" fill="url(#h208)"/>
<rect x="56" y="256" width="254" height="1" fill="url(#h209)"/>
<rect x="56" y="257" width="254" height="1" fill="url(#h210)"/>
<rect x="56" y="258" width="254" height="1" fill="url(#h211)"/>
<rect x="56" y="259" width="254" height="1" fill="url(#h212)"/>
<rect x="56" y="260" width="254" height="1" fill="url(#h213)"/>
<rect x="56" y="261" width="254" height="1" fill="url(#h214)"/>
<rect x="56" y="262" width="254" height="1" fill="url(#h215)"/>
<rect x="56" y="263" width="254" height="1" fill="url(#h216)"/>
<rect x="56" y="264" width="254" height="1" fill="url(#h217)"/>
<rect x="56" y="265" width="254" height="1" fill="url(#h218)"/>
<rect x="56" y="266" width="254" height="1" fill="url(#h219)"/>
<rect x="56" y="267" width="254" height="1" fill="url(#h220)"/>
<rect x="56" y="268" width="254" height="1" fill="url(#h221)"/>
<rect x="56" y="269" width="254" height="1" fill="url(#h222)"/>
<rect x="56" y="270" width="254" height="1" fill="url(#h223)"/>
<rect x="56" y="271" width="254" height="1" fill="url(#h224)"/>
<rect x="56" y="272" width="254" height="1" fill="url(#h225)"/>
<rect x="56" y="273" width="254" height="1" fill="url(#h226)"/>
<rect x="56" y="274" width="254" height="1" fill="url(#h227)"/>
<line x1="294.00" y1="51.40" x2="294.00" y2="285.00" stroke="#d6c400" stroke-width="1.70" />
<line x1="294.00" y1="75.90" x2="277.40" y2="196.60" stroke="#fff" stroke-width="1.70" />
<line x1="277.40" y1="196.60" x2="267.80" y2="266.70" stroke="#fff" stroke-width="1.50" stroke-dasharray="3.2 2.2"/>
<line x1="167.30" y1="157.80" x2="230.50" y2="175.60" stroke="#fff" stroke-width="2.10" stroke-linecap="round"/>
<line x1="230.50" y1="175.60" x2="278.45" y2="189.10" stroke="#fff" stroke-width="1.50" stroke-dasharray="3.2 2.2"/>
<path d="M244.76,179.63 A35.00,35.00 0 0 0 273.70,223.78" fill="none" stroke="#fff" stroke-width="1.20"/>
<path d="M272.8,230.8 Q283,236.1 293.8,231.8" fill="none" stroke="#fff" stroke-width="1.2"/>
<text x="236.6" y="220" font-size="16" fill="#fff" font-family='"Liberation Serif", serif' font-style="italic">&#946;</text>
<text x="276.6" y="247" font-size="16" fill="#fff" font-family='"Liberation Serif", serif' font-style="italic">&#945;</text>
<text x="191.50" y="182.80" font-size="15.00" text-anchor="start" fill="#fff" font-weight="bold" font-family='"Liberation Sans", sans-serif' font-style="normal" transform="rotate(17 191.5 182.8)">PFT</text>
<text x="270.60" y="166.20" font-size="14.80" text-anchor="start" fill="#fff" font-weight="bold" font-family='"Liberation Sans", sans-serif' font-style="normal" transform="rotate(-82.2 270.6 166.2)">Phase-front</text>
<text x="53.50" y="52.40" font-size="15.00" text-anchor="end" fill="#000" font-weight="normal" font-family='"Liberation Sans", sans-serif' font-style="normal" stroke="#000" stroke-width="0.3" >1</text>
<text x="53.50" y="112.70" font-size="15.00" text-anchor="end" fill="#000" font-weight="normal" font-family='"Liberation Sans", sans-serif' font-style="normal" stroke="#000" stroke-width="0.3" >0.5</text>
<text x="53.50" y="172.90" font-size="15.00" text-anchor="end" fill="#000" font-weight="normal" font-family='"Liberation Sans", sans-serif' font-style="normal" stroke="#000" stroke-width="0.3" >0</text>
<text x="53.50" y="233.40" font-size="15.00" text-anchor="end" fill="#000" font-weight="normal" font-family='"Liberation Sans", sans-serif' font-style="normal" stroke="#000" stroke-width="0.3" >-0.5</text>
<text x="53.50" y="293.40" font-size="15.00" text-anchor="end" fill="#000" font-weight="normal" font-family='"Liberation Sans", sans-serif' font-style="normal" stroke="#000" stroke-width="0.3" >-1</text>
<text x="54.50" y="304.20" font-size="15.00" text-anchor="middle" fill="#000" font-weight="normal" font-family='"Liberation Sans", sans-serif' font-style="normal" stroke="#000" stroke-width="0.3" >-400</text>
<text x="110.50" y="304.20" font-size="15.00" text-anchor="middle" fill="#000" font-weight="normal" font-family='"Liberation Sans", sans-serif' font-style="normal" stroke="#000" stroke-width="0.3" >-300</text>
<text x="166.50" y="304.20" font-size="15.00" text-anchor="middle" fill="#000" font-weight="normal" font-family='"Liberation Sans", sans-serif' font-style="normal" stroke="#000" stroke-width="0.3" >-200</text>
<text x="222.80" y="304.20" font-size="15.00" text-anchor="middle" fill="#000" font-weight="normal" font-family='"Liberation Sans", sans-serif' font-style="normal" stroke="#000" stroke-width="0.3" >-100</text>
<text x="279.00" y="304.20" font-size="15.00" text-anchor="middle" fill="#000" font-weight="normal" font-family='"Liberation Sans", sans-serif' font-style="normal" stroke="#000" stroke-width="0.3" >0</text>
<text x="182.50" y="319.00" font-size="16.00" text-anchor="middle" fill="#000" font-weight="normal" font-family='"Liberation Sans", sans-serif' font-style="normal" stroke="#000" stroke-width="0.3" >t (fs)</text>
<text x="20.50" y="167.80" font-size="16.00" text-anchor="middle" fill="#000" font-weight="normal" font-family='"Liberation Sans", sans-serif' font-style="normal" stroke="#000" stroke-width="0.3" transform="rotate(-90 20.5 167.8)">r (mm)</text>
<text x="359.00" y="28.20" font-size="16.00" text-anchor="start" fill="#000" font-weight="bold" font-family='"Liberation Sans", sans-serif' font-style="normal" >b</text>
<g clip-path="url(#cpb)">
<line x1="390.00" y1="194.15" x2="642.50" y2="28.52" stroke="#4dbeee" stroke-width="2.00" />
<line x1="390.00" y1="264.24" x2="642.50" y2="183.97" stroke="#77ac30" stroke-width="2.00" />
<line x1="390.00" y1="287.00" x2="642.50" y2="279.51" stroke="#d95319" stroke-width="2.00" />
</g>
<rect x="390.0" y="47.4" width="252.5" height="239.6" fill="none" stroke="#2e2e2e" stroke-width="1.1"/>
<line x1="390.00" y1="227.10" x2="392.50" y2="227.10" stroke="#404040" stroke-width="1.00" />
<line x1="642.50" y1="227.10" x2="640.00" y2="227.10" stroke="#404040" stroke-width="1.00" />
<line x1="390.00" y1="167.20" x2="392.50" y2="167.20" stroke="#404040" stroke-width="1.00" />
<line x1="642.50" y1="167.20" x2="640.00" y2="167.20" stroke="#404040" stroke-width="1.00" />
<line x1="390.00" y1="107.30" x2="392.50" y2="107.30" stroke="#404040" stroke-width="1.00" />
<line x1="642.50" y1="107.30" x2="640.00" y2="107.30" stroke="#404040" stroke-width="1.00" />
<line x1="440.50" y1="287.00" x2="440.50" y2="284.50" stroke="#404040" stroke-width="1.00" />
<line x1="440.50" y1="47.40" x2="440.50" y2="49.90" stroke="#404040" stroke-width="1.00" />
<line x1="491.00" y1="287.00" x2="491.00" y2="284.50" stroke="#404040" stroke-width="1.00" />
<line x1="491.00" y1="47.40" x2="491.00" y2="49.90" stroke="#404040" stroke-width="1.00" />
<line x1="541.50" y1="287.00" x2="541.50" y2="284.50" stroke="#404040" stroke-width="1.00" />
<line x1="541.50" y1="47.40" x2="541.50" y2="49.90" stroke="#404040" stroke-width="1.00" />
<line x1="592.00" y1="287.00" x2="592.00" y2="284.50" stroke="#404040" stroke-width="1.00" />
<line x1="592.00" y1="47.40" x2="592.00" y2="49.90" stroke="#404040" stroke-width="1.00" />
<text x="386.00" y="53.20" font-size="16.00" text-anchor="end" fill="#000" font-weight="normal" font-family='"Liberation Sans", sans-serif' font-style="normal" stroke="#000" stroke-width="0.3" transform="translate(386.00 0) scale(0.9400 1) translate(-386.00 0)">1.04</text>
<text x="386.00" y="113.10" font-size="16.00" text-anchor="end" fill="#000" font-weight="normal" font-family='"Liberation Sans", sans-serif' font-style="normal" stroke="#000" stroke-width="0.3" transform="translate(386.00 0) scale(0.9400 1) translate(-386.00 0)">1.03</text>
<text x="386.00" y="173.00" font-size="16.00" text-anchor="end" fill="#000" font-weight="normal" font-family='"Liberation Sans", sans-serif' font-style="normal" stroke="#000" stroke-width="0.3" transform="translate(386.00 0) scale(0.9400 1) translate(-386.00 0)">1.02</text>
<text x="386.00" y="232.90" font-size="16.00" text-anchor="end" fill="#000" font-weight="normal" font-family='"Liberation Sans", sans-serif' font-style="normal" stroke="#000" stroke-width="0.3" transform="translate(386.00 0) scale(0.9400 1) translate(-386.00 0)">1.01</text>
<text x="386.00" y="292.80" font-size="16.00" text-anchor="end" fill="#000" font-weight="normal" font-family='"Liberation Sans", sans-serif' font-style="normal" stroke="#000" stroke-width="0.3" transform="translate(386.00 0) scale(0.9400 1) translate(-386.00 0)">1</text>
<text x="390.00" y="304.90" font-size="16.00" text-anchor="middle" fill="#000" font-weight="normal" font-family='"Liberation Sans", sans-serif' font-style="normal" stroke="#000" stroke-width="0.3" transform="translate(390.00 0) scale(0.9400 1) translate(-390.00 0)">0</text>
<text x="440.50" y="304.90" font-size="16.00" text-anchor="middle" fill="#000" font-weight="normal" font-family='"Liberation Sans", sans-serif' font-style="normal" stroke="#000" stroke-width="0.3" transform="translate(440.50 0) scale(0.9400 1) translate(-440.50 0)">100</text>
<text x="491.00" y="304.90" font-size="16.00" text-anchor="middle" fill="#000" font-weight="normal" font-family='"Liberation Sans", sans-serif' font-style="normal" stroke="#000" stroke-width="0.3" transform="translate(491.00 0) scale(0.9400 1) translate(-491.00 0)">200</text>
<text x="541.50" y="304.90" font-size="16.00" text-anchor="middle" fill="#000" font-weight="normal" font-family='"Liberation Sans", sans-serif' font-style="normal" stroke="#000" stroke-width="0.3" transform="translate(541.50 0) scale(0.9400 1) translate(-541.50 0)">300</text>
<text x="592.00" y="304.90" font-size="16.00" text-anchor="middle" fill="#000" font-weight="normal" font-family='"Liberation Sans", sans-serif' font-style="normal" stroke="#000" stroke-width="0.3" transform="translate(592.00 0) scale(0.9400 1) translate(-592.00 0)">400</text>
<text x="642.50" y="304.90" font-size="16.00" text-anchor="middle" fill="#000" font-weight="normal" font-family='"Liberation Sans", sans-serif' font-style="normal" stroke="#000" stroke-width="0.3" transform="translate(642.50 0) scale(0.9400 1) translate(-642.50 0)">500</text>
<text x="516.00" y="320.50" font-size="16.00" text-anchor="middle" fill="#000" font-weight="normal" font-family='"Liberation Sans", sans-serif' font-style="normal" stroke="#000" stroke-width="0.3" >PFT (fs/mm)</text>
<text x="0" y="0" font-size="16" font-family='"Liberation Sans", sans-serif' transform="translate(341.8 186.3) rotate(-90)">v<tspan font-size="11.5" dy="7.6">b</tspan><tspan dy="-7.6"> (c)</tspan></text>
<text x="470.00" y="107.00" font-size="17" font-family='"Liberation Serif", serif'><tspan font-style="italic">&#945;</tspan> = 10<tspan font-size="11" dy="-8">o</tspan></text>
<text x="547.50" y="195.00" font-size="17" font-family='"Liberation Serif", serif'><tspan font-style="italic">&#945;</tspan> = 5<tspan font-size="11" dy="-8">o</tspan></text>
<text x="566.00" y="272.00" font-size="17" font-family='"Liberation Serif", serif'><tspan font-style="italic">&#945;</tspan> = 0.5<tspan font-size="11" dy="-8">o</tspan></text>
<text x="25.30" y="362.60" font-size="18.00" text-anchor="start" fill="#000" font-weight="bold" font-family='"Liberation Sans", sans-serif' font-style="normal" >c</text>
<polyline points="183.3,622.5 183.1,621.0 182.3,619.2 181.3,617.7 179.5,615.9 177.6,614.3 174.9,612.5 168.6,609.2 160.0,605.6 148.2,601.4 135.0,597.1 94.5,584.8 82.9,580.8 74.3,577.5 65.9,573.6 62.3,571.5 59.7,569.7 57.4,567.6 55.9,565.7 55.1,563.9 54.8,562.1 55.0,560.6 55.8,558.8 57.1,557.0 58.9,555.2 61.4,553.4 64.3,551.6 71.5,547.9 80.5,544.3 91.7,540.4 104.1,536.5 139.9,525.6 150.0,522.3 158.4,519.3 167.2,515.6 173.8,512.3 178.8,509.0 180.5,507.5 181.8,506.0 182.9,503.9 183.3,501.8 183.0,499.9 182.0,497.8 180.5,496.0 178.0,493.9 174.9,491.8 171.0,489.7 162.3,485.8 150.0,481.2 136.0,476.7 94.5,464.0 82.9,460.1 74.3,456.8 65.9,452.8 62.3,450.7 59.7,448.9 57.4,446.8 55.9,445.0 55.1,443.2 54.8,441.4 55.0,439.9 55.8,438.1 56.8,436.5 58.6,434.7 60.5,433.2 63.2,431.4 69.5,428.1 78.1,424.5 89.9,420.2 103.1,416.0 143.6,403.6 155.2,399.7 163.8,396.4 172.2,392.5 175.8,390.4 178.4,388.5 180.7,386.4 182.2,384.6 183.0,382.8 183.3,381.0" fill="none" stroke="#4dbeee" stroke-width="1.85" stroke-linejoin="round" />
<polyline points="183.3,622.5 182.8,619.2 181.4,615.9 179.1,612.5 175.9,609.2 171.7,605.6 165.8,601.4 159.2,597.1 138.9,584.8 133.1,580.8 128.8,577.5 124.6,573.6 121.5,569.7 120.3,567.6 119.6,565.7 119.2,563.9 119.0,562.1 119.5,558.8 120.9,555.5 123.3,552.2 126.4,548.8 130.7,545.2 136.6,541.0 143.2,536.8 163.5,524.4 169.2,520.5 173.5,517.1 177.7,513.2 180.9,509.3 182.0,507.2 182.7,505.4 183.2,503.6 183.3,501.8 183.2,499.9 182.7,498.1 182.0,496.3 180.9,494.2 177.7,490.3 173.5,486.4 169.2,483.0 163.5,479.1 142.7,466.4 135.7,461.9 129.6,457.4 125.2,453.4 123.3,451.3 121.7,449.2 120.5,447.1 119.7,445.3 119.2,443.2 119.0,441.4 119.2,439.3 119.8,437.1 121.3,434.1 123.8,430.8 127.1,427.5 131.5,423.9 140.8,417.5 164.9,402.7 170.5,398.8 174.9,395.2 178.6,391.6 181.2,387.9 182.2,386.1 182.8,384.3 183.3,381.0" fill="none" stroke="#77ac30" stroke-width="1.85" stroke-linejoin="round" />
<polyline points="183.3,622.5 182.9,615.9 181.8,609.2 179.8,601.4 174.4,584.8 172.4,577.5 170.9,569.7 170.6,565.7 170.4,562.1 170.8,555.5 171.9,548.8 174.0,541.0 179.3,524.4 181.3,517.1 182.8,509.3 183.2,505.4 183.3,501.8 183.2,498.1 182.8,494.2 181.3,486.4 179.3,479.1 173.8,461.9 171.7,453.4 171.0,449.2 170.6,445.3 170.4,441.4 170.6,437.1 171.4,430.8 172.9,423.9 174.8,417.5 179.6,402.7 181.6,395.2 182.9,387.9 183.3,381.0" fill="none" stroke="#d95319" stroke-width="1.85" stroke-linejoin="round" />
<line x1="54.80" y1="381.00" x2="183.30" y2="381.00" stroke="#b4b4b4" stroke-width="1.30" />
<line x1="54.80" y1="622.50" x2="183.30" y2="622.50" stroke="#b4b4b4" stroke-width="1.30" />
<line x1="54.80" y1="380.40" x2="54.80" y2="623.10" stroke="#5a5a5a" stroke-width="1.10" />
<line x1="183.30" y1="380.40" x2="183.30" y2="623.10" stroke="#5a5a5a" stroke-width="1.10" />
<line x1="54.80" y1="441.38" x2="57.30" y2="441.38" stroke="#5a5a5a" stroke-width="1.00" />
<line x1="183.30" y1="441.38" x2="180.80" y2="441.38" stroke="#5a5a5a" stroke-width="1.00" />
<line x1="54.80" y1="501.75" x2="57.30" y2="501.75" stroke="#5a5a5a" stroke-width="1.00" />
<line x1="183.30" y1="501.75" x2="180.80" y2="501.75" stroke="#5a5a5a" stroke-width="1.00" />
<line x1="54.80" y1="562.12" x2="57.30" y2="562.12" stroke="#5a5a5a" stroke-width="1.00" />
<line x1="183.30" y1="562.12" x2="180.80" y2="562.12" stroke="#5a5a5a" stroke-width="1.00" />
<line x1="119.05" y1="381.00" x2="119.05" y2="383.50" stroke="#5a5a5a" stroke-width="1.00" />
<line x1="119.05" y1="622.50" x2="119.05" y2="620.00" stroke="#5a5a5a" stroke-width="1.00" />
<text x="51.30" y="386.80" font-size="16.00" text-anchor="end" fill="#000" font-weight="normal" font-family='"Liberation Sans", sans-serif' font-style="normal" stroke="#000" stroke-width="0.3" >1</text>
<text x="51.30" y="447.18" font-size="16.00" text-anchor="end" fill="#000" font-weight="normal" font-family='"Liberation Sans", sans-serif' font-style="normal" stroke="#000" stroke-width="0.3" >0.5</text>
<text x="51.30" y="507.55" font-size="16.00" text-anchor="end" fill="#000" font-weight="normal" font-family='"Liberation Sans", sans-serif' font-style="normal" stroke="#000" stroke-width="0.3" >0</text>
<text x="51.30" y="567.92" font-size="16.00" text-anchor="end" fill="#000" font-weight="normal" font-family='"Liberation Sans", sans-serif' font-style="normal" stroke="#000" stroke-width="0.3" >-0.5</text>
<text x="51.30" y="628.30" font-size="16.00" text-anchor="end" fill="#000" font-weight="normal" font-family='"Liberation Sans", sans-serif' font-style="normal" stroke="#000" stroke-width="0.3" >-1</text>
<text x="52.00" y="640.20" font-size="16.00" text-anchor="middle" fill="#000" font-weight="normal" font-family='"Liberation Sans", sans-serif' font-style="normal" stroke="#000" stroke-width="0.3" >-100</text>
<text x="117.00" y="640.20" font-size="16.00" text-anchor="middle" fill="#000" font-weight="normal" font-family='"Liberation Sans", sans-serif' font-style="normal" stroke="#000" stroke-width="0.3" >-50</text>
<text x="183.00" y="640.20" font-size="16.00" text-anchor="middle" fill="#000" font-weight="normal" font-family='"Liberation Sans", sans-serif' font-style="normal" stroke="#000" stroke-width="0.3" >0</text>
<text x="118.90" y="657.20" font-size="16.80" text-anchor="middle" fill="#000" font-weight="normal" font-family='"Liberation Sans", sans-serif' font-style="normal" stroke="#000" stroke-width="0.3" >t (fs)</text>
<text x="17.00" y="502.30" font-size="16.00" text-anchor="middle" fill="#000" font-weight="normal" font-family='"Liberation Sans", sans-serif' font-style="normal" stroke="#000" stroke-width="0.3" transform="rotate(-90 17 502.3)">r (mm)</text>
<text x="123.20" y="375.50" font-size="14.00" text-anchor="middle" fill="#000" font-weight="normal" font-family='"Liberation Sans", sans-serif' font-style="normal" >Pulse-front</text>
<text x="252.80" y="375.20" font-size="14.00" text-anchor="middle" fill="#000" font-weight="normal" font-family='"Liberation Sans", sans-serif' font-style="normal" >Phase-correction</text>
<polyline points="207.6,381.0 207.7,383.4 208.1,385.8 208.8,388.3 209.8,390.8 212.5,396.1 216.6,401.8 198.6,401.9 212.0,417.6 216.6,423.4 198.6,423.5 201.7,428.3 203.8,432.8 205.0,437.1 205.4,441.4 205.0,445.7 203.8,450.0 201.6,454.5 198.6,459.3 216.6,459.4 212.0,465.2 198.7,480.9 216.6,480.9 212.6,486.7 209.8,491.9 208.8,494.4 208.1,496.9 207.7,499.3 207.6,501.7 207.7,504.1 208.1,506.6 208.8,509.1 209.8,511.6 212.6,516.8 216.6,522.6 198.7,522.6 212.0,538.3 216.6,544.1 198.6,544.2 201.6,549.0 203.8,553.5 205.0,557.8 205.4,562.1 205.0,566.4 203.8,570.7 201.7,575.2 198.6,580.0 216.6,580.1 212.0,585.9 198.6,601.6 216.6,601.7 212.5,607.4 209.8,612.7 208.8,615.2 208.1,617.7 207.7,620.1 207.6,622.5" fill="none" stroke="#d95319" stroke-width="1.60" stroke-linejoin="round" />
<line x1="188.80" y1="381.00" x2="226.40" y2="381.00" stroke="#b4b4b4" stroke-width="1.30" />
<line x1="188.80" y1="622.50" x2="226.40" y2="622.50" stroke="#b4b4b4" stroke-width="1.30" />
<line x1="188.80" y1="380.40" x2="188.80" y2="623.10" stroke="#5a5a5a" stroke-width="1.10" />
<line x1="226.40" y1="380.40" x2="226.40" y2="623.10" stroke="#5a5a5a" stroke-width="1.10" />
<text x="195.20" y="640.00" font-size="15.00" text-anchor="middle" fill="#000" font-weight="normal" font-family='"Liberation Sans", sans-serif' font-style="normal" stroke="#000" stroke-width="0.3" >-2</text>
<text x="209.20" y="640.00" font-size="15.00" text-anchor="middle" fill="#000" font-weight="normal" font-family='"Liberation Sans", sans-serif' font-style="normal" stroke="#000" stroke-width="0.3" >0</text>
<text x="222.00" y="640.00" font-size="15.00" text-anchor="middle" fill="#000" font-weight="normal" font-family='"Liberation Sans", sans-serif' font-style="normal" stroke="#000" stroke-width="0.3" >2</text>
<polyline points="251.2,381.0 251.3,382.0 251.7,383.2 253.4,385.4 256.2,387.7 260.1,389.9 242.3,390.0 249.9,393.3 260.1,396.8 242.4,396.9 260.0,401.8 242.3,401.9 260.1,406.2 242.4,406.3 259.9,410.3 242.3,410.4 259.9,414.4 242.3,414.5 259.9,418.7 242.3,418.8 260.1,423.4 242.4,423.5 252.0,426.4 260.0,429.2 242.2,429.3 249.4,432.5 252.2,434.0 254.3,435.4 256.1,437.0 257.3,438.4 258.1,439.9 258.3,441.4 258.1,442.8 257.4,444.3 256.2,445.7 254.4,447.3 252.2,448.7 249.5,450.3 242.3,453.4 260.1,453.5 252.1,456.3 242.2,459.3 260.0,459.4 242.4,463.9 260.1,464.0 242.4,468.2 260.1,468.3 242.4,472.3 260.1,472.4 242.2,476.5 259.9,476.6 242.4,480.9 260.1,480.9 242.2,485.9 260.0,486.0 249.8,489.5 242.2,492.8 260.1,492.9 256.2,495.1 253.4,497.3 251.7,499.5 251.3,500.7 251.2,501.7 251.3,502.8 251.7,503.9 253.3,506.1 256.2,508.4 260.1,510.6 242.2,510.7 249.8,514.0 260.0,517.5 242.2,517.6 260.1,522.6 242.4,522.6 259.9,526.9 242.2,527.0 260.1,531.1 242.4,531.2 260.1,535.2 242.4,535.3 260.1,539.5 242.4,539.6 260.0,544.1 242.2,544.2 252.1,547.2 260.1,550.0 242.3,550.1 249.5,553.2 252.2,554.8 254.4,556.2 256.2,557.8 257.4,559.2 258.1,560.7 258.3,562.1 258.1,563.6 257.3,565.1 256.1,566.5 254.3,568.1 252.2,569.5 249.4,571.0 242.2,574.2 260.0,574.3 252.0,577.1 242.4,580.0 260.1,580.1 242.3,584.7 259.9,584.8 242.3,589.0 259.9,589.1 242.3,593.1 259.9,593.2 242.4,597.2 260.1,597.3 242.3,601.6 260.0,601.7 242.4,606.6 260.1,606.7 249.9,610.2 242.3,613.5 260.1,613.6 256.2,615.8 253.4,618.1 251.7,620.3 251.3,621.5 251.2,622.5" fill="none" stroke="#77ac30" stroke-width="1.50" stroke-linejoin="round" />
<line x1="232.50" y1="381.00" x2="269.80" y2="381.00" stroke="#b4b4b4" stroke-width="1.30" />
<line x1="232.50" y1="622.50" x2="269.80" y2="622.50" stroke="#b4b4b4" stroke-width="1.30" />
<line x1="232.50" y1="380.40" x2="232.50" y2="623.10" stroke="#5a5a5a" stroke-width="1.10" />
<line x1="269.80" y1="380.40" x2="269.80" y2="623.10" stroke="#5a5a5a" stroke-width="1.10" />
<text x="238.75" y="640.00" font-size="15.00" text-anchor="middle" fill="#000" font-weight="normal" font-family='"Liberation Sans", sans-serif' font-style="normal" stroke="#000" stroke-width="0.3" >-2</text>
<text x="252.75" y="640.00" font-size="15.00" text-anchor="middle" fill="#000" font-weight="normal" font-family='"Liberation Sans", sans-serif' font-style="normal" stroke="#000" stroke-width="0.3" >0</text>
<text x="265.55" y="640.00" font-size="15.00" text-anchor="middle" fill="#000" font-weight="normal" font-family='"Liberation Sans", sans-serif' font-style="normal" stroke="#000" stroke-width="0.3" >2</text>
<polyline points="296.1,381.0 296.2,381.8 296.6,382.6 298.3,384.1 301.1,385.7 305.0,387.3 287.1,387.3 294.8,389.6 305.0,392.0 287.2,392.0 305.0,395.3 287.2,395.4 304.8,398.1 287.1,398.1 305.0,400.6 287.3,400.7 304.8,402.9 287.2,403.0 305.0,405.2 287.3,405.2 304.8,407.2 287.1,407.3 305.0,409.3 287.4,409.4 304.7,411.4 287.1,411.4 304.7,413.4 287.1,413.4 304.9,415.5 287.2,415.5 304.9,417.6 287.3,417.7 304.9,419.8 287.3,419.9 304.9,422.2 287.2,422.2 304.8,424.7 287.1,424.8 304.9,427.6 287.1,427.7 304.9,431.1 287.1,431.2 297.7,433.9 301.8,435.2 305.0,436.5 287.1,436.5 289.5,437.8 291.1,439.0 292.1,440.2 292.4,441.4 292.1,442.6 291.1,443.8 289.4,445.0 287.1,446.2 305.0,446.3 301.8,447.5 297.7,448.9 287.2,451.6 305.0,451.6 287.3,455.1 305.0,455.1 287.2,458.0 304.9,458.0 287.3,460.5 305.0,460.5 287.1,462.9 304.8,462.9 287.1,465.1 304.8,465.1 287.1,467.2 304.7,467.3 287.3,469.3 304.9,469.3 287.2,471.3 304.9,471.4 287.2,473.4 304.8,473.4 287.3,475.4 305.0,475.5 287.2,477.6 304.8,477.6 287.3,479.7 305.0,479.8 287.2,482.1 304.9,482.1 287.2,484.6 304.9,484.6 287.1,487.4 304.8,487.4 287.1,490.7 304.9,490.8 294.7,493.2 287.1,495.4 304.9,495.5 301.1,497.1 298.3,498.6 296.6,500.2 296.2,501.0 296.1,501.7 296.2,502.5 296.6,503.3 298.3,504.9 301.1,506.4 304.9,508.0 287.1,508.1 294.7,510.3 304.9,512.7 287.1,512.8 304.8,516.1 287.1,516.1 304.9,518.9 287.2,518.9 304.9,521.4 287.2,521.4 305.0,523.7 287.3,523.8 304.8,525.9 287.2,525.9 305.0,528.0 287.3,528.1 304.8,530.1 287.2,530.1 304.9,532.1 287.2,532.2 304.9,534.2 287.3,534.2 304.7,536.2 287.1,536.3 304.8,538.4 287.1,538.4 304.8,540.6 287.1,540.6 305.0,543.0 287.3,543.0 304.9,545.5 287.2,545.5 305.0,548.4 287.3,548.4 305.0,551.9 287.2,551.9 297.7,554.6 301.8,556.0 305.0,557.2 287.1,557.3 289.4,558.5 291.1,559.7 292.1,560.9 292.4,562.1 292.1,563.3 291.1,564.5 289.5,565.7 287.1,567.0 305.0,567.0 301.8,568.3 297.7,569.6 287.1,572.3 304.9,572.4 287.1,575.8 304.9,575.9 287.1,578.7 304.8,578.8 287.2,581.3 304.9,581.3 287.3,583.6 304.9,583.7 287.3,585.8 304.9,585.9 287.2,588.0 304.9,588.0 287.1,590.1 304.7,590.1 287.1,592.1 304.7,592.1 287.4,594.1 305.0,594.2 287.1,596.2 304.8,596.3 287.3,598.3 305.0,598.3 287.2,600.5 304.8,600.6 287.3,602.8 305.0,602.9 287.1,605.4 304.8,605.4 287.2,608.1 305.0,608.2 287.2,611.5 305.0,611.5 294.8,613.9 287.1,616.2 305.0,616.2 301.1,617.8 298.3,619.4 296.6,620.9 296.2,621.7 296.1,622.5" fill="none" stroke="#4dbeee" stroke-width="1.25" stroke-linejoin="round" />
<line x1="276.30" y1="381.00" x2="315.80" y2="381.00" stroke="#b4b4b4" stroke-width="1.30" />
<line x1="276.30" y1="622.50" x2="315.80" y2="622.50" stroke="#b4b4b4" stroke-width="1.30" />
<line x1="276.30" y1="380.40" x2="276.30" y2="623.10" stroke="#5a5a5a" stroke-width="1.10" />
<line x1="315.80" y1="380.40" x2="315.80" y2="623.10" stroke="#5a5a5a" stroke-width="1.10" />
<text x="283.65" y="640.00" font-size="15.00" text-anchor="middle" fill="#000" font-weight="normal" font-family='"Liberation Sans", sans-serif' font-style="normal" stroke="#000" stroke-width="0.3" >-2</text>
<text x="297.65" y="640.00" font-size="15.00" text-anchor="middle" fill="#000" font-weight="normal" font-family='"Liberation Sans", sans-serif' font-style="normal" stroke="#000" stroke-width="0.3" >0</text>
<text x="310.45" y="640.00" font-size="15.00" text-anchor="middle" fill="#000" font-weight="normal" font-family='"Liberation Sans", sans-serif' font-style="normal" stroke="#000" stroke-width="0.3" >2</text>
<text x="224.5" y="656.5" font-size="17" font-family='"Liberation Serif", serif' font-style="italic">&#981;</text>
<text x="237.5" y="656.5" font-size="17" font-family='"Liberation Serif", serif' font-style="italic">&#960;</text>
<text x="250.30" y="656.50" font-size="16.00" text-anchor="start" fill="#000" font-weight="normal" font-family='"Liberation Sans", sans-serif' font-style="normal" stroke="#000" stroke-width="0.3" >(rad)</text>
<polygon points="389.60,381.60 400.47,381.60 400.47,381.60 400.92,391.07 401.37,399.83 401.82,407.94 402.26,415.47 402.71,422.50 403.16,429.06 403.61,435.20 404.05,440.96 404.50,446.38 404.95,451.47 405.40,456.28 405.84,460.83 406.29,465.13 406.74,469.21 407.19,473.08 407.63,476.76 408.08,480.26 408.53,483.59 408.98,486.77 409.42,489.81 409.87,492.71 410.32,495.49 410.77,498.15 411.21,500.69 411.66,503.14 412.11,505.49 412.56,507.75 413.00,509.92 413.45,512.01 413.90,514.02 414.35,515.96 414.79,517.83 415.24,519.64 415.69,521.38 416.14,523.07 416.58,524.69 417.03,526.27 417.48,527.80 417.92,529.27 418.37,530.70 418.82,532.09 419.27,533.44 419.71,534.74 420.16,536.01 420.61,537.24 421.06,538.44 421.50,539.60 421.95,540.73 422.40,541.83 422.85,542.90 423.29,543.94 423.74,544.95 424.19,545.94 424.64,546.90 425.08,547.84 425.53,548.75 425.98,549.65 426.43,550.52 426.87,551.37 427.32,552.20 427.77,553.01 428.22,553.80 428.66,554.57 429.11,555.33 429.56,556.07 430.01,556.79 430.45,557.49 430.90,558.19 431.35,558.86 431.80,559.52 432.24,560.17 432.69,560.81 433.14,561.43 433.59,562.04 434.03,562.63 434.48,563.22 434.93,563.79 435.37,564.35 435.82,564.91 436.27,565.45 436.72,565.98 437.16,566.50 437.61,567.01 438.06,567.51 438.51,568.00 438.95,568.48 439.40,568.96 439.85,569.43 440.30,569.88 440.74,570.33 441.19,570.77 441.64,571.21 442.09,571.64 442.53,572.06 442.98,572.47 443.43,572.87 443.88,573.27 444.32,573.67 444.77,574.05 445.22,574.43 445.67,574.81 446.11,575.18 446.56,575.54 447.01,575.89 447.46,576.25 447.90,576.59 448.35,576.93 448.80,577.27 449.25,577.60 449.69,577.92 450.14,578.24 450.59,578.56 451.04,578.87 451.48,579.18 451.93,579.48 452.38,579.78 452.83,580.07 453.27,580.36 453.72,580.65 454.17,580.93 454.61,581.21 455.06,581.48 455.51,581.75 455.96,582.02 456.40,582.28 456.85,582.54 457.30,582.80 457.75,583.05 458.19,583.30 458.64,583.55 459.09,583.79 459.54,584.03 459.98,584.27 460.43,584.50 460.88,584.73 461.33,584.96 461.77,585.18 462.22,585.41 462.67,585.63 463.12,585.84 463.56,586.06 464.01,586.27 464.46,586.48 464.91,586.69 465.35,586.89 465.80,587.09 466.25,587.29 466.70,587.49 467.14,587.68 467.59,587.88 468.04,588.07 468.49,588.26 468.93,588.44 469.38,588.63 469.83,588.81 470.28,588.99 470.72,589.17 471.17,589.34 471.62,589.52 472.06,589.69 472.51,589.86 472.96,590.03 473.41,590.20 473.85,590.36 474.30,590.53 474.75,590.69 475.20,590.85 475.64,591.01 476.09,591.16 476.54,591.32 476.99,591.47 477.43,591.62 477.88,591.77 478.33,591.92 478.78,592.07 479.22,592.22 479.67,592.36 480.12,592.50 480.57,592.64 481.01,592.78 481.46,592.92 481.91,593.06 482.36,593.20 482.80,593.33 483.25,593.47 483.70,593.60 484.15,593.73 484.59,593.86 485.04,593.99 485.49,594.12 485.94,594.24 486.38,594.37 486.83,594.49 487.28,594.61 487.73,594.74 488.17,594.86 488.62,594.98 489.07,595.09 489.51,595.21 489.96,595.33 490.41,595.44 490.86,595.56 491.30,595.67 491.75,595.78 492.20,595.89 492.65,596.00 493.09,596.11 493.54,596.22 493.99,596.33 494.44,596.44 494.88,596.54 495.33,596.65 495.78,596.75 496.23,596.85 496.67,596.96 497.12,597.06 497.57,597.16 498.02,597.26 498.46,597.36 498.91,597.45 499.36,597.55 499.81,597.65 500.25,597.74 500.70,597.84 501.15,597.93 501.60,598.03 502.04,598.12 502.49,598.21 502.94,598.30 503.39,598.39 503.83,598.48 504.28,598.57 504.73,598.66 505.18,598.75 505.62,598.83 506.07,598.92 506.52,599.01 506.97,599.09 507.41,599.17 507.86,599.26 508.31,599.34 508.75,599.42 509.20,599.51 509.65,599.59 510.10,599.67 510.54,599.75 510.99,599.83 511.44,599.91 511.89,599.98 512.33,600.06 512.78,600.14 513.23,600.22 513.68,600.29 514.12,600.37 514.57,600.44 515.02,600.52 515.47,600.59 515.91,600.66 516.36,600.74 516.81,600.81 517.26,600.88 517.70,600.95 518.15,601.02 518.60,601.09 519.05,601.16 519.49,601.23 519.94,601.30 520.39,601.37 520.84,601.44 521.28,601.51 521.73,601.57 522.18,601.64 522.63,601.70 523.07,601.77 523.52,601.84 523.97,601.90 524.42,601.96 524.86,602.03 525.31,602.09 525.76,602.16 526.20,602.22 526.65,602.28 527.10,602.34 527.55,602.40 527.99,602.46 528.44,602.53 528.89,602.59 529.34,602.65 529.78,602.71 530.23,602.76 530.68,602.82 531.13,602.88 531.57,602.94 532.02,603.00 532.47,603.05 532.92,603.11 533.36,603.17 533.81,603.22 534.26,603.28 534.26,621.30 389.60,621.30" fill="#ccefdc"/>
<polygon points="534.26,603.28 534.80,603.35 535.35,603.42 535.89,603.48 536.43,603.55 536.98,603.61 537.52,603.68 538.07,603.74 538.61,603.81 539.15,603.87 539.70,603.93 540.24,604.00 540.79,604.06 541.33,604.12 541.87,604.18 542.42,604.24 542.96,604.30 543.51,604.36 544.05,604.42 544.59,604.48 545.14,604.54 545.68,604.60 546.23,604.66 546.77,604.71 547.31,604.77 547.86,604.83 548.40,604.89 548.94,604.94 549.49,605.00 550.03,605.05 550.58,605.11 551.12,605.16 551.66,605.22 552.21,605.27 552.75,605.32 553.30,605.38 553.84,605.43 554.38,605.48 554.93,605.53 555.47,605.59 556.02,605.64 556.56,605.69 557.10,605.74 557.65,605.79 558.19,605.84 558.74,605.89 559.28,605.94 559.82,605.99 560.37,606.04 560.91,606.08 561.46,606.13 562.00,606.18 562.54,606.23 563.09,606.27 563.63,606.32 564.17,606.37 564.72,606.41 565.26,606.46 565.81,606.51 566.35,606.55 566.89,606.60 567.44,606.64 567.98,606.69 568.53,606.73 569.07,606.78 569.61,606.82 570.16,606.86 570.70,606.91 571.25,606.95 571.79,606.99 572.33,607.04 572.88,607.08 573.42,607.12 573.97,607.16 574.51,607.20 575.05,607.24 575.60,607.29 576.14,607.33 576.68,607.37 577.23,607.41 577.77,607.45 578.32,607.49 578.86,607.53 579.40,607.57 579.95,607.61 580.49,607.64 581.04,607.68 581.58,607.72 582.12,607.76 582.67,607.80 583.21,607.84 583.76,607.87 584.30,607.91 584.84,607.95 585.39,607.99 585.93,608.02 586.48,608.06 587.02,608.10 587.56,608.13 588.11,608.17 588.65,608.20 589.20,608.24 589.74,608.28 590.28,608.31 590.83,608.35 591.37,608.38 591.91,608.42 592.46,608.45 593.00,608.48 593.55,608.52 594.09,608.55 594.63,608.59 595.18,608.62 595.72,608.65 596.27,608.69 596.81,608.72 597.35,608.75 597.90,608.79 598.44,608.82 598.99,608.85 599.53,608.88 600.07,608.92 600.62,608.95 601.16,608.98 601.71,609.01 602.25,609.04 602.79,609.07 603.34,609.10 603.88,609.14 604.43,609.17 604.97,609.20 605.51,609.23 606.06,609.26 606.60,609.29 607.14,609.32 607.69,609.35 608.23,609.38 608.78,609.41 609.32,609.44 609.86,609.47 610.41,609.49 610.95,609.52 611.50,609.55 612.04,609.58 612.58,609.61 613.13,609.64 613.67,609.67 614.22,609.70 614.76,609.72 615.30,609.75 615.85,609.78 616.39,609.81 616.94,609.83 617.48,609.86 618.02,609.89 618.57,609.92 619.11,609.94 619.66,609.97 620.20,610.00 620.74,610.02 621.29,610.05 621.83,610.08 622.37,610.10 622.92,610.13 623.46,610.15 624.01,610.18 624.55,610.21 625.09,610.23 625.64,610.26 626.18,610.28 626.73,610.31 627.27,610.33 627.81,610.36 628.36,610.38 628.90,610.41 629.45,610.43 629.99,610.46 630.53,610.48 631.08,610.51 631.62,610.53 632.17,610.55 632.71,610.58 633.25,610.60 633.80,610.63 634.34,610.65 634.89,610.67 635.43,610.70 635.97,610.72 636.52,610.74 637.06,610.77 637.60,610.79 638.15,610.81 638.69,610.84 639.24,610.86 639.78,610.88 640.32,610.90 640.87,610.93 641.41,610.95 641.96,610.97 642.50,610.99 642.50,621.30 534.26,621.30" fill="#fbe5d6"/>
<line x1="389.60" y1="381.60" x2="642.50" y2="381.60" stroke="#8a8a8a" stroke-width="1.10" />
<line x1="389.60" y1="621.30" x2="642.50" y2="621.30" stroke="#8a8a8a" stroke-width="1.10" />
<line x1="389.60" y1="381.60" x2="389.60" y2="621.30" stroke="#6b6bd6" stroke-width="1.00" />
<line x1="642.50" y1="381.60" x2="642.50" y2="621.30" stroke="#4a9a4a" stroke-width="1.00" />
<line x1="440.18" y1="621.30" x2="440.18" y2="618.80" stroke="#666" stroke-width="1.00" />
<line x1="440.18" y1="381.60" x2="440.18" y2="384.10" stroke="#666" stroke-width="1.00" />
<line x1="490.76" y1="621.30" x2="490.76" y2="618.80" stroke="#666" stroke-width="1.00" />
<line x1="490.76" y1="381.60" x2="490.76" y2="384.10" stroke="#666" stroke-width="1.00" />
<line x1="541.34" y1="621.30" x2="541.34" y2="618.80" stroke="#666" stroke-width="1.00" />
<line x1="541.34" y1="381.60" x2="541.34" y2="384.10" stroke="#666" stroke-width="1.00" />
<line x1="591.92" y1="621.30" x2="591.92" y2="618.80" stroke="#666" stroke-width="1.00" />
<line x1="591.92" y1="381.60" x2="591.92" y2="384.10" stroke="#666" stroke-width="1.00" />
<line x1="389.60" y1="573.36" x2="392.10" y2="573.36" stroke="#6b6bd6" stroke-width="1.00" />
<line x1="389.60" y1="525.42" x2="392.10" y2="525.42" stroke="#6b6bd6" stroke-width="1.00" />
<line x1="389.60" y1="477.48" x2="392.10" y2="477.48" stroke="#6b6bd6" stroke-width="1.00" />
<line x1="389.60" y1="429.54" x2="392.10" y2="429.54" stroke="#6b6bd6" stroke-width="1.00" />
<line x1="642.50" y1="573.36" x2="640.00" y2="573.36" stroke="#4a9a4a" stroke-width="1.00" />
<line x1="642.50" y1="525.42" x2="640.00" y2="525.42" stroke="#4a9a4a" stroke-width="1.00" />
<line x1="642.50" y1="477.48" x2="640.00" y2="477.48" stroke="#4a9a4a" stroke-width="1.00" />
<line x1="642.50" y1="429.54" x2="640.00" y2="429.54" stroke="#4a9a4a" stroke-width="1.00" />
<line x1="389.60" y1="621.30" x2="642.50" y2="395.98" stroke="#0707dc" stroke-width="2.00" />
<polyline points="400.5,381.6 402.9,425.3 404.4,444.6 405.8,460.5 407.3,473.7 409.2,488.3 411.1,500.3 413.6,512.6 416.0,522.5 418.9,532.4 421.8,540.4 425.2,548.1 429.1,555.3 433.0,561.2 437.3,566.7 442.2,571.7 447.5,576.3 453.3,580.4 460.1,584.3 467.4,587.8 475.7,591.0 484.4,593.8 494.1,596.4 504.8,598.7 516.4,600.7 529.5,602.7 544.0,604.4 560.0,606.0 578.0,607.5 597.4,608.8 642.5,611.0" fill="none" stroke="#0b8a23" stroke-width="2.20" stroke-linejoin="round" />
<line x1="533.40" y1="603.20" x2="641.50" y2="603.20" stroke="#000" stroke-width="2.10" />
<polyline points="635.5,598.6 641.8,603.2 635.5,607.8" fill="none" stroke="#000" stroke-width="1.90" stroke-linejoin="round" stroke-linecap="round"/>
<line x1="572.80" y1="586.50" x2="572.80" y2="616.00" stroke="#ed7d31" stroke-width="1.70" />
<polyline points="569.1,609.3 572.8,616.6 576.6,609.3" fill="none" stroke="#ed7d31" stroke-width="1.70" stroke-linejoin="round" stroke-linecap="round"/>
<ellipse cx="404.8" cy="435" rx="12.9" ry="6.5" fill="none" stroke="#00b050" stroke-width="1.3"/>
<line x1="417.70" y1="437.20" x2="433.60" y2="437.20" stroke="#00b050" stroke-width="1.30" />
<polyline points="428.2,434.3 433.9,437.2 428.2,440.1" fill="none" stroke="#00b050" stroke-width="1.30" stroke-linejoin="round" />
<ellipse cx="580.5" cy="450.6" rx="13.1" ry="6.7" fill="none" stroke="#0707dc" stroke-width="1.3"/>
<line x1="567.40" y1="453.30" x2="553.20" y2="453.30" stroke="#0707dc" stroke-width="1.30" />
<polyline points="558.8,450.4 553.1,453.3 558.8,456.2" fill="none" stroke="#0707dc" stroke-width="1.30" stroke-linejoin="round" />
<line x1="438.80" y1="514.40" x2="407.60" y2="545.60" stroke="#00b050" stroke-width="1.50" />
<polyline points="408.2,538.0 407.3,545.9 415.2,545.0" fill="none" stroke="#00b050" stroke-width="1.50" stroke-linejoin="round" />
<text x="359.50" y="363.00" font-size="16.00" text-anchor="start" fill="#000" font-weight="bold" font-family='"Liberation Sans", sans-serif' font-style="normal" >d</text>
<text x="386.30" y="627.10" font-size="16.00" text-anchor="end" fill="#0707dc" font-weight="normal" font-family='"Liberation Sans", sans-serif' font-style="normal" stroke="#0707dc" stroke-width="0.3" transform="translate(386.30 0) scale(0.9400 1) translate(-386.30 0)">0</text>
<text x="386.30" y="579.16" font-size="16.00" text-anchor="end" fill="#0707dc" font-weight="normal" font-family='"Liberation Sans", sans-serif' font-style="normal" stroke="#0707dc" stroke-width="0.3" transform="translate(386.30 0) scale(0.9400 1) translate(-386.30 0)">20</text>
<text x="386.30" y="531.22" font-size="16.00" text-anchor="end" fill="#0707dc" font-weight="normal" font-family='"Liberation Sans", sans-serif' font-style="normal" stroke="#0707dc" stroke-width="0.3" transform="translate(386.30 0) scale(0.9400 1) translate(-386.30 0)">40</text>
<text x="386.30" y="483.28" font-size="16.00" text-anchor="end" fill="#0707dc" font-weight="normal" font-family='"Liberation Sans", sans-serif' font-style="normal" stroke="#0707dc" stroke-width="0.3" transform="translate(386.30 0) scale(0.9400 1) translate(-386.30 0)">60</text>
<text x="386.30" y="435.34" font-size="16.00" text-anchor="end" fill="#0707dc" font-weight="normal" font-family='"Liberation Sans", sans-serif' font-style="normal" stroke="#0707dc" stroke-width="0.3" transform="translate(386.30 0) scale(0.9400 1) translate(-386.30 0)">80</text>
<text x="386.30" y="387.40" font-size="16.00" text-anchor="end" fill="#0707dc" font-weight="normal" font-family='"Liberation Sans", sans-serif' font-style="normal" stroke="#0707dc" stroke-width="0.3" transform="translate(386.30 0) scale(0.9400 1) translate(-386.30 0)">100</text>
<text x="646.00" y="579.16" font-size="16.00" text-anchor="start" fill="#0b8a23" font-weight="normal" font-family='"Liberation Sans", sans-serif' font-style="normal" stroke="#0b8a23" stroke-width="0.3" transform="translate(646.00 0) scale(0.9400 1) translate(-646.00 0)">10</text>
<text x="646.00" y="531.22" font-size="16.00" text-anchor="start" fill="#0b8a23" font-weight="normal" font-family='"Liberation Sans", sans-serif' font-style="normal" stroke="#0b8a23" stroke-width="0.3" transform="translate(646.00 0) scale(0.9400 1) translate(-646.00 0)">20</text>
<text x="646.00" y="483.28" font-size="16.00" text-anchor="start" fill="#0b8a23" font-weight="normal" font-family='"Liberation Sans", sans-serif' font-style="normal" stroke="#0b8a23" stroke-width="0.3" transform="translate(646.00 0) scale(0.9400 1) translate(-646.00 0)">30</text>
<text x="646.00" y="435.34" font-size="16.00" text-anchor="start" fill="#0b8a23" font-weight="normal" font-family='"Liberation Sans", sans-serif' font-style="normal" stroke="#0b8a23" stroke-width="0.3" transform="translate(646.00 0) scale(0.9400 1) translate(-646.00 0)">40</text>
<text x="646.00" y="387.40" font-size="16.00" text-anchor="start" fill="#0b8a23" font-weight="normal" font-family='"Liberation Sans", sans-serif' font-style="normal" stroke="#0b8a23" stroke-width="0.3" transform="translate(646.00 0) scale(0.9400 1) translate(-646.00 0)">50</text>
<text x="646.00" y="627.00" font-size="16.00" text-anchor="start" fill="#0b8a23" font-weight="normal" font-family='"Liberation Sans", sans-serif' font-style="normal" stroke="#0b8a23" stroke-width="0.3" transform="translate(646.00 0) scale(0.9400 1) translate(-646.00 0)">0</text>
<text x="646.30" y="607.80" font-size="16.50" text-anchor="start" fill="#000" font-weight="normal" font-family='"Liberation Sans", sans-serif' font-style="normal" stroke="#000" stroke-width="0.3" >4</text>
<text x="389.60" y="638.30" font-size="15.00" text-anchor="middle" fill="#000" font-weight="normal" font-family='"Liberation Sans", sans-serif' font-style="normal" stroke="#000" stroke-width="0.3" >0</text>
<text x="440.18" y="638.30" font-size="15.00" text-anchor="middle" fill="#000" font-weight="normal" font-family='"Liberation Sans", sans-serif' font-style="normal" stroke="#000" stroke-width="0.3" >100</text>
<text x="490.76" y="638.30" font-size="15.00" text-anchor="middle" fill="#000" font-weight="normal" font-family='"Liberation Sans", sans-serif' font-style="normal" stroke="#000" stroke-width="0.3" >200</text>
<text x="541.34" y="638.30" font-size="15.00" text-anchor="middle" fill="#000" font-weight="normal" font-family='"Liberation Sans", sans-serif' font-style="normal" stroke="#000" stroke-width="0.3" >300</text>
<text x="591.92" y="638.30" font-size="15.00" text-anchor="middle" fill="#000" font-weight="normal" font-family='"Liberation Sans", sans-serif' font-style="normal" stroke="#000" stroke-width="0.3" >400</text>
<text x="642.50" y="638.30" font-size="15.00" text-anchor="middle" fill="#000" font-weight="normal" font-family='"Liberation Sans", sans-serif' font-style="normal" stroke="#000" stroke-width="0.3" >500</text>
<text x="516.00" y="655.00" font-size="16.00" text-anchor="middle" fill="#000" font-weight="normal" font-family='"Liberation Sans", sans-serif' font-style="normal" stroke="#000" stroke-width="0.3" >PFT (fs/mm)</text>
<text x="353.00" y="501.20" font-size="15.60" text-anchor="middle" fill="#0707dc" font-weight="normal" font-family='"Liberation Sans", sans-serif' font-style="normal" stroke="#0707dc" stroke-width="0.3" transform="rotate(-90 353 501.2)">Period Number (N/mm)</text>
<text x="680.80" y="501.00" font-size="16.00" text-anchor="middle" fill="#0b8a23" font-weight="normal" font-family='"Liberation Sans", sans-serif' font-style="normal" stroke="#0b8a23" stroke-width="0.3" transform="rotate(-90 680.8 501)">Pixel size (&#181;m)</text>
<text x="424.00" y="494.10" font-size="11.20" text-anchor="start" fill="#00b050" font-weight="normal" font-family='"Liberation Sans", sans-serif' font-style="normal" stroke="#00b050" stroke-width="0.3" >Beam reduction</text>
<text x="424.00" y="507.70" font-size="11.20" text-anchor="start" fill="#00b050" font-weight="normal" font-family='"Liberation Sans", sans-serif' font-style="normal" stroke="#00b050" stroke-width="0.3" >is NOT required</text>
<text x="538.00" y="568.80" font-size="11.20" text-anchor="start" fill="#ed7d31" font-weight="normal" font-family='"Liberation Sans", sans-serif' font-style="normal" stroke="#ed7d31" stroke-width="0.3" >Beam reduction</text>
<text x="538.00" y="582.40" font-size="11.20" text-anchor="start" fill="#ed7d31" font-weight="normal" font-family='"Liberation Sans", sans-serif' font-style="normal" stroke="#ed7d31" stroke-width="0.3" >is required</text>
</svg>
</body></html>
